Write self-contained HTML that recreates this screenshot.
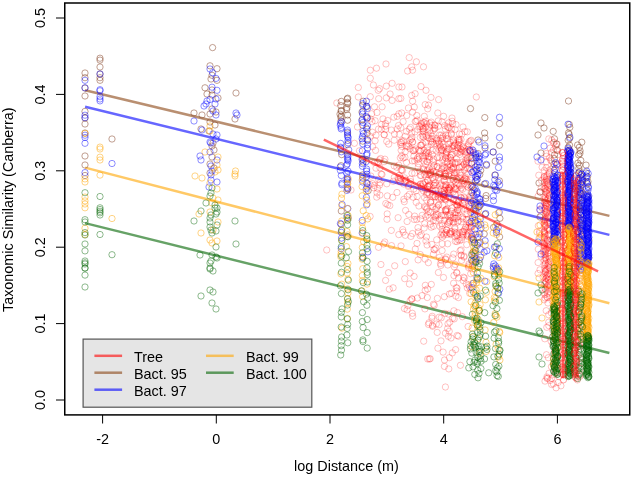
<!DOCTYPE html>
<html><head><meta charset="utf-8"><style>
html,body{margin:0;padding:0;background:#fff;width:633px;height:477px;overflow:hidden}
svg{display:block;filter:blur(0.45px)}
text{font-family:"Liberation Sans",sans-serif;font-size:14.4px;fill:#000}
</style></head><body>
<svg width="633" height="477" viewBox="0 0 633 477">
<rect width="633" height="477" fill="#fff"/>
<line x1="85.1" y1="90.2" x2="609.4" y2="215.9" stroke="rgba(139,69,19,0.6)" stroke-width="2.5"/>
<line x1="85.1" y1="106.8" x2="609.4" y2="234.9" stroke="rgba(0,0,255,0.6)" stroke-width="2.5"/>
<line x1="85.1" y1="167.6" x2="609.4" y2="303.3" stroke="rgba(255,165,0,0.6)" stroke-width="2.5"/>
<line x1="85.1" y1="223.1" x2="609.4" y2="353.0" stroke="rgba(0,100,0,0.6)" stroke-width="2.5"/>
<g fill="none" stroke="rgba(255,0,0,0.27)" stroke-width="0.9">
<circle cx="386" cy="64" r="3.15"/>
<circle cx="376.5" cy="68.2" r="3.15"/>
<circle cx="370.3" cy="70.2" r="3.15"/>
<circle cx="370.3" cy="78.3" r="3.15"/>
<circle cx="358.3" cy="87.5" r="3.15"/>
<circle cx="373.4" cy="85" r="3.15"/>
<circle cx="386.3" cy="86.1" r="3.15"/>
<circle cx="392.1" cy="83.3" r="3.15"/>
<circle cx="379.6" cy="88.7" r="3.15"/>
<circle cx="378.2" cy="90.3" r="3.15"/>
<circle cx="390.1" cy="94" r="3.15"/>
<circle cx="398.9" cy="87" r="3.15"/>
<circle cx="358.3" cy="97" r="3.15"/>
<circle cx="370.3" cy="96.7" r="3.15"/>
<circle cx="378.7" cy="98.7" r="3.15"/>
<circle cx="386.3" cy="97.9" r="3.15"/>
<circle cx="392.1" cy="100.4" r="3.15"/>
<circle cx="398.9" cy="98.7" r="3.15"/>
<circle cx="336.8" cy="103" r="3.15"/>
<circle cx="374.5" cy="106.8" r="3.15"/>
<circle cx="382.1" cy="106.8" r="3.15"/>
<circle cx="371.7" cy="113.8" r="3.15"/>
<circle cx="377" cy="112.5" r="3.15"/>
<circle cx="393.8" cy="117.2" r="3.15"/>
<circle cx="397.2" cy="116.3" r="3.15"/>
<circle cx="383" cy="118.9" r="3.15"/>
<circle cx="370.3" cy="118.9" r="3.15"/>
<circle cx="398.9" cy="113.8" r="3.15"/>
<circle cx="409.2" cy="57.6" r="3.15"/>
<circle cx="416.4" cy="61.8" r="3.15"/>
<circle cx="411.7" cy="66.8" r="3.15"/>
<circle cx="407.6" cy="71" r="3.15"/>
<circle cx="412.6" cy="70.2" r="3.15"/>
<circle cx="423.5" cy="66.8" r="3.15"/>
<circle cx="402" cy="87" r="3.15"/>
<circle cx="421" cy="86.6" r="3.15"/>
<circle cx="426" cy="90.3" r="3.15"/>
<circle cx="415.1" cy="93.7" r="3.15"/>
<circle cx="411.7" cy="95.4" r="3.15"/>
<circle cx="400.8" cy="98.4" r="3.15"/>
<circle cx="431" cy="97.4" r="3.15"/>
<circle cx="438.6" cy="99.6" r="3.15"/>
<circle cx="412.6" cy="101.2" r="3.15"/>
<circle cx="425.2" cy="104.6" r="3.15"/>
<circle cx="428.5" cy="105.1" r="3.15"/>
<circle cx="408.4" cy="108" r="3.15"/>
<circle cx="414.3" cy="107.1" r="3.15"/>
<circle cx="427.7" cy="108.8" r="3.15"/>
<circle cx="401.7" cy="113" r="3.15"/>
<circle cx="406.7" cy="115.5" r="3.15"/>
<circle cx="412.6" cy="112.1" r="3.15"/>
<circle cx="416.8" cy="115.5" r="3.15"/>
<circle cx="424.3" cy="116.3" r="3.15"/>
<circle cx="437.8" cy="113" r="3.15"/>
<circle cx="443.6" cy="116.3" r="3.15"/>
<circle cx="452" cy="118" r="3.15"/>
<circle cx="476.3" cy="97" r="3.15"/>
<circle cx="326.7" cy="250" r="3.15"/>
<circle cx="351" cy="190" r="3.15"/>
<circle cx="354.4" cy="143.3" r="3.15"/>
<circle cx="357.5" cy="127" r="3.15"/>
<circle cx="359.4" cy="150.8" r="3.15"/>
<circle cx="445.4" cy="387" r="3.15"/>
<circle cx="370.3" cy="136.3" r="3.15"/>
<circle cx="375.1" cy="120.7" r="3.15"/>
<circle cx="372" cy="121.7" r="3.15"/>
<circle cx="372.4" cy="132.2" r="3.15"/>
<circle cx="378.5" cy="129.1" r="3.15"/>
<circle cx="376" cy="135.2" r="3.15"/>
<circle cx="394.5" cy="134" r="3.15"/>
<circle cx="387.7" cy="120.5" r="3.15"/>
<circle cx="399.3" cy="134.3" r="3.15"/>
<circle cx="384.1" cy="134.6" r="3.15"/>
<circle cx="385.6" cy="129.4" r="3.15"/>
<circle cx="397.2" cy="129" r="3.15"/>
<circle cx="385.8" cy="126.1" r="3.15"/>
<circle cx="381.5" cy="124.4" r="3.15"/>
<circle cx="385.4" cy="123.5" r="3.15"/>
<circle cx="381.3" cy="129.3" r="3.15"/>
<circle cx="384.3" cy="134.8" r="3.15"/>
<circle cx="398.5" cy="125.5" r="3.15"/>
<circle cx="391.4" cy="130.1" r="3.15"/>
<circle cx="417.7" cy="129.5" r="3.15"/>
<circle cx="416.1" cy="121.3" r="3.15"/>
<circle cx="411.9" cy="137.3" r="3.15"/>
<circle cx="417.3" cy="120.1" r="3.15"/>
<circle cx="410.4" cy="127.4" r="3.15"/>
<circle cx="415.2" cy="121.5" r="3.15"/>
<circle cx="405.3" cy="136.3" r="3.15"/>
<circle cx="409.4" cy="129.1" r="3.15"/>
<circle cx="419.4" cy="126.4" r="3.15"/>
<circle cx="400.8" cy="127.8" r="3.15"/>
<circle cx="403.1" cy="121.6" r="3.15"/>
<circle cx="411.4" cy="139.1" r="3.15"/>
<circle cx="411.6" cy="132.9" r="3.15"/>
<circle cx="406.5" cy="131.4" r="3.15"/>
<circle cx="415" cy="131.8" r="3.15"/>
<circle cx="424" cy="131.7" r="3.15"/>
<circle cx="429.8" cy="123.3" r="3.15"/>
<circle cx="432.4" cy="136.3" r="3.15"/>
<circle cx="422.7" cy="130.9" r="3.15"/>
<circle cx="434.7" cy="128.1" r="3.15"/>
<circle cx="425.4" cy="127.4" r="3.15"/>
<circle cx="430.8" cy="133.7" r="3.15"/>
<circle cx="431.2" cy="122.1" r="3.15"/>
<circle cx="436.4" cy="138.5" r="3.15"/>
<circle cx="422" cy="125" r="3.15"/>
<circle cx="423.5" cy="137" r="3.15"/>
<circle cx="438.2" cy="120.9" r="3.15"/>
<circle cx="426.6" cy="123.8" r="3.15"/>
<circle cx="429.4" cy="138.4" r="3.15"/>
<circle cx="421.4" cy="123.4" r="3.15"/>
<circle cx="429.7" cy="130.5" r="3.15"/>
<circle cx="434.9" cy="128.8" r="3.15"/>
<circle cx="422.8" cy="127.1" r="3.15"/>
<circle cx="439.6" cy="135" r="3.15"/>
<circle cx="422.3" cy="136.2" r="3.15"/>
<circle cx="426.2" cy="135.6" r="3.15"/>
<circle cx="420.3" cy="137.4" r="3.15"/>
<circle cx="423.2" cy="129.1" r="3.15"/>
<circle cx="433.2" cy="130.2" r="3.15"/>
<circle cx="423.3" cy="122.8" r="3.15"/>
<circle cx="425.7" cy="121" r="3.15"/>
<circle cx="424.3" cy="122.6" r="3.15"/>
<circle cx="429.3" cy="127.1" r="3.15"/>
<circle cx="431.7" cy="125.6" r="3.15"/>
<circle cx="420.7" cy="126.6" r="3.15"/>
<circle cx="435.1" cy="125.1" r="3.15"/>
<circle cx="428.1" cy="135.1" r="3.15"/>
<circle cx="428.1" cy="137.7" r="3.15"/>
<circle cx="438.4" cy="126.2" r="3.15"/>
<circle cx="434.7" cy="125.1" r="3.15"/>
<circle cx="422.8" cy="128.8" r="3.15"/>
<circle cx="432" cy="138.7" r="3.15"/>
<circle cx="422.9" cy="134.2" r="3.15"/>
<circle cx="459.5" cy="133.9" r="3.15"/>
<circle cx="442.6" cy="138.1" r="3.15"/>
<circle cx="442.1" cy="121.9" r="3.15"/>
<circle cx="446.6" cy="138.8" r="3.15"/>
<circle cx="440.7" cy="138.4" r="3.15"/>
<circle cx="452.2" cy="121.3" r="3.15"/>
<circle cx="451.4" cy="129.2" r="3.15"/>
<circle cx="451.3" cy="134.7" r="3.15"/>
<circle cx="453.6" cy="139.9" r="3.15"/>
<circle cx="443.1" cy="136.3" r="3.15"/>
<circle cx="448.2" cy="135.7" r="3.15"/>
<circle cx="457.8" cy="139.8" r="3.15"/>
<circle cx="445.3" cy="129.1" r="3.15"/>
<circle cx="458.9" cy="138.9" r="3.15"/>
<circle cx="447.5" cy="138.8" r="3.15"/>
<circle cx="448.1" cy="127.5" r="3.15"/>
<circle cx="455.1" cy="129.4" r="3.15"/>
<circle cx="449" cy="127.7" r="3.15"/>
<circle cx="448.7" cy="122.8" r="3.15"/>
<circle cx="441.2" cy="135.1" r="3.15"/>
<circle cx="451.3" cy="133.4" r="3.15"/>
<circle cx="456" cy="124.6" r="3.15"/>
<circle cx="444.7" cy="125.6" r="3.15"/>
<circle cx="446.1" cy="135.2" r="3.15"/>
<circle cx="447.5" cy="126.5" r="3.15"/>
<circle cx="452.7" cy="123.7" r="3.15"/>
<circle cx="464.9" cy="131.6" r="3.15"/>
<circle cx="463" cy="127" r="3.15"/>
<circle cx="467.3" cy="131.8" r="3.15"/>
<circle cx="461.9" cy="134.1" r="3.15"/>
<circle cx="461" cy="139.4" r="3.15"/>
<circle cx="379.5" cy="159.8" r="3.15"/>
<circle cx="375.6" cy="150.4" r="3.15"/>
<circle cx="372.6" cy="146.7" r="3.15"/>
<circle cx="375.1" cy="140.7" r="3.15"/>
<circle cx="386.7" cy="141.4" r="3.15"/>
<circle cx="380.6" cy="158.5" r="3.15"/>
<circle cx="388.7" cy="144.1" r="3.15"/>
<circle cx="394.2" cy="140.2" r="3.15"/>
<circle cx="384.9" cy="159.2" r="3.15"/>
<circle cx="401.9" cy="146.4" r="3.15"/>
<circle cx="400.6" cy="144.4" r="3.15"/>
<circle cx="400.5" cy="142.5" r="3.15"/>
<circle cx="412.7" cy="142" r="3.15"/>
<circle cx="403.1" cy="158.1" r="3.15"/>
<circle cx="406.7" cy="146.7" r="3.15"/>
<circle cx="401.7" cy="155.9" r="3.15"/>
<circle cx="413.5" cy="150.9" r="3.15"/>
<circle cx="412.4" cy="142" r="3.15"/>
<circle cx="405.2" cy="151.7" r="3.15"/>
<circle cx="419" cy="156.3" r="3.15"/>
<circle cx="412.8" cy="150.4" r="3.15"/>
<circle cx="400.3" cy="157.8" r="3.15"/>
<circle cx="401.3" cy="142.6" r="3.15"/>
<circle cx="413.9" cy="156.2" r="3.15"/>
<circle cx="415.7" cy="149" r="3.15"/>
<circle cx="403.5" cy="140.7" r="3.15"/>
<circle cx="417" cy="159.6" r="3.15"/>
<circle cx="404.9" cy="157.3" r="3.15"/>
<circle cx="408.1" cy="146.2" r="3.15"/>
<circle cx="410.1" cy="140.2" r="3.15"/>
<circle cx="408.9" cy="144" r="3.15"/>
<circle cx="414.2" cy="150.1" r="3.15"/>
<circle cx="417.4" cy="157.9" r="3.15"/>
<circle cx="406.3" cy="145.6" r="3.15"/>
<circle cx="418.8" cy="150.1" r="3.15"/>
<circle cx="401.9" cy="140.9" r="3.15"/>
<circle cx="419.8" cy="151.6" r="3.15"/>
<circle cx="401.1" cy="150.2" r="3.15"/>
<circle cx="410.1" cy="148.7" r="3.15"/>
<circle cx="419" cy="159" r="3.15"/>
<circle cx="428.1" cy="156.7" r="3.15"/>
<circle cx="432.5" cy="154.6" r="3.15"/>
<circle cx="431.5" cy="144.2" r="3.15"/>
<circle cx="436.4" cy="140.3" r="3.15"/>
<circle cx="434" cy="143.9" r="3.15"/>
<circle cx="429.4" cy="159.5" r="3.15"/>
<circle cx="430.8" cy="141.1" r="3.15"/>
<circle cx="428.6" cy="153.2" r="3.15"/>
<circle cx="421.1" cy="145.1" r="3.15"/>
<circle cx="420.4" cy="150.8" r="3.15"/>
<circle cx="427.6" cy="150.1" r="3.15"/>
<circle cx="425.9" cy="153.1" r="3.15"/>
<circle cx="423.5" cy="158.1" r="3.15"/>
<circle cx="439.2" cy="149.9" r="3.15"/>
<circle cx="429.3" cy="157.2" r="3.15"/>
<circle cx="425.8" cy="156.1" r="3.15"/>
<circle cx="425.7" cy="154.4" r="3.15"/>
<circle cx="426.7" cy="152.1" r="3.15"/>
<circle cx="438.5" cy="141.1" r="3.15"/>
<circle cx="436.1" cy="150.8" r="3.15"/>
<circle cx="427.6" cy="147" r="3.15"/>
<circle cx="421.4" cy="145.2" r="3.15"/>
<circle cx="432.5" cy="142" r="3.15"/>
<circle cx="433.4" cy="159.2" r="3.15"/>
<circle cx="439.6" cy="157.8" r="3.15"/>
<circle cx="436.1" cy="143.6" r="3.15"/>
<circle cx="439.4" cy="144.1" r="3.15"/>
<circle cx="437.4" cy="157.6" r="3.15"/>
<circle cx="432.4" cy="150.4" r="3.15"/>
<circle cx="424" cy="150.4" r="3.15"/>
<circle cx="425.8" cy="142.5" r="3.15"/>
<circle cx="422.6" cy="156" r="3.15"/>
<circle cx="438.4" cy="142.8" r="3.15"/>
<circle cx="420.3" cy="145.3" r="3.15"/>
<circle cx="422.7" cy="143.8" r="3.15"/>
<circle cx="448.6" cy="144.1" r="3.15"/>
<circle cx="453.3" cy="145.8" r="3.15"/>
<circle cx="448" cy="149.3" r="3.15"/>
<circle cx="458.1" cy="144.9" r="3.15"/>
<circle cx="454.4" cy="146.2" r="3.15"/>
<circle cx="457.9" cy="147.9" r="3.15"/>
<circle cx="450.1" cy="157.5" r="3.15"/>
<circle cx="453.5" cy="141.9" r="3.15"/>
<circle cx="442.7" cy="159.8" r="3.15"/>
<circle cx="440.6" cy="146" r="3.15"/>
<circle cx="459.2" cy="140.3" r="3.15"/>
<circle cx="443.2" cy="144.3" r="3.15"/>
<circle cx="441.7" cy="149.4" r="3.15"/>
<circle cx="451.8" cy="146.4" r="3.15"/>
<circle cx="442.2" cy="156.2" r="3.15"/>
<circle cx="456.1" cy="151.2" r="3.15"/>
<circle cx="442.8" cy="150.8" r="3.15"/>
<circle cx="452.6" cy="148.6" r="3.15"/>
<circle cx="457.3" cy="147.8" r="3.15"/>
<circle cx="450.2" cy="142.3" r="3.15"/>
<circle cx="451.3" cy="155.3" r="3.15"/>
<circle cx="454.6" cy="145.1" r="3.15"/>
<circle cx="459.8" cy="154.4" r="3.15"/>
<circle cx="448.5" cy="148.3" r="3.15"/>
<circle cx="455.6" cy="143.5" r="3.15"/>
<circle cx="452.8" cy="154.4" r="3.15"/>
<circle cx="450.3" cy="157.5" r="3.15"/>
<circle cx="449.4" cy="149.3" r="3.15"/>
<circle cx="445.7" cy="158.4" r="3.15"/>
<circle cx="446.3" cy="153.9" r="3.15"/>
<circle cx="448.2" cy="158.7" r="3.15"/>
<circle cx="459" cy="140.6" r="3.15"/>
<circle cx="459.9" cy="152.1" r="3.15"/>
<circle cx="441.5" cy="149.9" r="3.15"/>
<circle cx="441" cy="151" r="3.15"/>
<circle cx="443.7" cy="147.4" r="3.15"/>
<circle cx="446.1" cy="152" r="3.15"/>
<circle cx="456.4" cy="158.7" r="3.15"/>
<circle cx="446.6" cy="151.4" r="3.15"/>
<circle cx="440.1" cy="147.4" r="3.15"/>
<circle cx="459.2" cy="142.4" r="3.15"/>
<circle cx="457.4" cy="153.1" r="3.15"/>
<circle cx="445.9" cy="155.6" r="3.15"/>
<circle cx="445.8" cy="157.9" r="3.15"/>
<circle cx="441.7" cy="142.4" r="3.15"/>
<circle cx="461.8" cy="150.3" r="3.15"/>
<circle cx="463.6" cy="151" r="3.15"/>
<circle cx="468.9" cy="157.1" r="3.15"/>
<circle cx="460.7" cy="151.8" r="3.15"/>
<circle cx="471.8" cy="149.2" r="3.15"/>
<circle cx="469.2" cy="141.9" r="3.15"/>
<circle cx="470.5" cy="151.6" r="3.15"/>
<circle cx="470.7" cy="155.7" r="3.15"/>
<circle cx="470.4" cy="141.1" r="3.15"/>
<circle cx="468.6" cy="143.9" r="3.15"/>
<circle cx="463.2" cy="146.5" r="3.15"/>
<circle cx="467.1" cy="152.6" r="3.15"/>
<circle cx="471.2" cy="140.3" r="3.15"/>
<circle cx="462.3" cy="147.2" r="3.15"/>
<circle cx="469.8" cy="151" r="3.15"/>
<circle cx="466.1" cy="155.2" r="3.15"/>
<circle cx="467.9" cy="145.8" r="3.15"/>
<circle cx="461" cy="149.2" r="3.15"/>
<circle cx="470.6" cy="152" r="3.15"/>
<circle cx="460.6" cy="148.8" r="3.15"/>
<circle cx="464.6" cy="151.6" r="3.15"/>
<circle cx="467" cy="159" r="3.15"/>
<circle cx="464.1" cy="148.2" r="3.15"/>
<circle cx="467.4" cy="157.7" r="3.15"/>
<circle cx="468.5" cy="149.4" r="3.15"/>
<circle cx="469.8" cy="149.7" r="3.15"/>
<circle cx="377.6" cy="161.7" r="3.15"/>
<circle cx="378.6" cy="179.3" r="3.15"/>
<circle cx="378.7" cy="162.6" r="3.15"/>
<circle cx="374.5" cy="162.5" r="3.15"/>
<circle cx="376" cy="168.2" r="3.15"/>
<circle cx="370.8" cy="176" r="3.15"/>
<circle cx="384.1" cy="161.7" r="3.15"/>
<circle cx="394.2" cy="165.9" r="3.15"/>
<circle cx="398" cy="177.9" r="3.15"/>
<circle cx="398.7" cy="165.1" r="3.15"/>
<circle cx="380" cy="167.8" r="3.15"/>
<circle cx="399.3" cy="175.3" r="3.15"/>
<circle cx="381.2" cy="174.1" r="3.15"/>
<circle cx="398.3" cy="179.4" r="3.15"/>
<circle cx="394.3" cy="177.3" r="3.15"/>
<circle cx="396.8" cy="167.2" r="3.15"/>
<circle cx="382" cy="174.5" r="3.15"/>
<circle cx="419.9" cy="171.2" r="3.15"/>
<circle cx="410.4" cy="179" r="3.15"/>
<circle cx="405.7" cy="180" r="3.15"/>
<circle cx="418.2" cy="167.3" r="3.15"/>
<circle cx="406.5" cy="162.5" r="3.15"/>
<circle cx="418.3" cy="163.7" r="3.15"/>
<circle cx="400.2" cy="177.8" r="3.15"/>
<circle cx="412" cy="173.4" r="3.15"/>
<circle cx="414.7" cy="160.9" r="3.15"/>
<circle cx="401.8" cy="170" r="3.15"/>
<circle cx="401" cy="170.1" r="3.15"/>
<circle cx="414.7" cy="173.1" r="3.15"/>
<circle cx="412.3" cy="160.9" r="3.15"/>
<circle cx="404.7" cy="177.9" r="3.15"/>
<circle cx="402.5" cy="170.7" r="3.15"/>
<circle cx="401" cy="178.8" r="3.15"/>
<circle cx="430.9" cy="174.4" r="3.15"/>
<circle cx="438.7" cy="174.7" r="3.15"/>
<circle cx="426.9" cy="161.5" r="3.15"/>
<circle cx="434.1" cy="179.5" r="3.15"/>
<circle cx="420.3" cy="175.5" r="3.15"/>
<circle cx="423.5" cy="169.2" r="3.15"/>
<circle cx="430.5" cy="172.3" r="3.15"/>
<circle cx="439.8" cy="173.7" r="3.15"/>
<circle cx="427.8" cy="174.3" r="3.15"/>
<circle cx="429.3" cy="168.3" r="3.15"/>
<circle cx="427.3" cy="169.9" r="3.15"/>
<circle cx="425.6" cy="164.8" r="3.15"/>
<circle cx="423" cy="168.8" r="3.15"/>
<circle cx="425.9" cy="176.7" r="3.15"/>
<circle cx="437" cy="166.9" r="3.15"/>
<circle cx="432.4" cy="178" r="3.15"/>
<circle cx="427.2" cy="171.1" r="3.15"/>
<circle cx="428.9" cy="173" r="3.15"/>
<circle cx="439.2" cy="162.8" r="3.15"/>
<circle cx="439.3" cy="173.3" r="3.15"/>
<circle cx="435.9" cy="172.7" r="3.15"/>
<circle cx="437.4" cy="166.5" r="3.15"/>
<circle cx="434.2" cy="165.3" r="3.15"/>
<circle cx="430.2" cy="173.6" r="3.15"/>
<circle cx="424" cy="161.2" r="3.15"/>
<circle cx="435.8" cy="176.2" r="3.15"/>
<circle cx="433.3" cy="166.4" r="3.15"/>
<circle cx="433.2" cy="161.7" r="3.15"/>
<circle cx="433.3" cy="171.5" r="3.15"/>
<circle cx="432.3" cy="168.9" r="3.15"/>
<circle cx="424.5" cy="174.5" r="3.15"/>
<circle cx="429.3" cy="174.9" r="3.15"/>
<circle cx="427.3" cy="161.8" r="3.15"/>
<circle cx="430.8" cy="172.5" r="3.15"/>
<circle cx="438.4" cy="177.8" r="3.15"/>
<circle cx="421.1" cy="175.4" r="3.15"/>
<circle cx="447.6" cy="166.4" r="3.15"/>
<circle cx="449.8" cy="170.6" r="3.15"/>
<circle cx="453.9" cy="172.8" r="3.15"/>
<circle cx="453.6" cy="167.7" r="3.15"/>
<circle cx="453.5" cy="166.9" r="3.15"/>
<circle cx="452.2" cy="169.2" r="3.15"/>
<circle cx="451.3" cy="160.4" r="3.15"/>
<circle cx="450" cy="164.4" r="3.15"/>
<circle cx="447.7" cy="161.5" r="3.15"/>
<circle cx="453.1" cy="177.9" r="3.15"/>
<circle cx="447.1" cy="162.1" r="3.15"/>
<circle cx="452.4" cy="162.5" r="3.15"/>
<circle cx="457.8" cy="162.4" r="3.15"/>
<circle cx="447.2" cy="169.9" r="3.15"/>
<circle cx="442.4" cy="166.4" r="3.15"/>
<circle cx="445.5" cy="174.3" r="3.15"/>
<circle cx="459.7" cy="167.3" r="3.15"/>
<circle cx="455.8" cy="162.8" r="3.15"/>
<circle cx="451.6" cy="168.7" r="3.15"/>
<circle cx="445.8" cy="176.4" r="3.15"/>
<circle cx="454.9" cy="162.7" r="3.15"/>
<circle cx="445.8" cy="176.4" r="3.15"/>
<circle cx="459.8" cy="172.2" r="3.15"/>
<circle cx="457.4" cy="179.7" r="3.15"/>
<circle cx="454.8" cy="172.9" r="3.15"/>
<circle cx="444.4" cy="167.4" r="3.15"/>
<circle cx="452.5" cy="178.5" r="3.15"/>
<circle cx="446" cy="167.9" r="3.15"/>
<circle cx="440.4" cy="173.9" r="3.15"/>
<circle cx="448.9" cy="176" r="3.15"/>
<circle cx="444.7" cy="173.2" r="3.15"/>
<circle cx="453.5" cy="169.3" r="3.15"/>
<circle cx="443.8" cy="168.1" r="3.15"/>
<circle cx="454.9" cy="163.8" r="3.15"/>
<circle cx="441.8" cy="169.3" r="3.15"/>
<circle cx="444.7" cy="176" r="3.15"/>
<circle cx="456.3" cy="178.9" r="3.15"/>
<circle cx="456.8" cy="172.9" r="3.15"/>
<circle cx="443.7" cy="176.5" r="3.15"/>
<circle cx="454.6" cy="174.9" r="3.15"/>
<circle cx="453.9" cy="176.6" r="3.15"/>
<circle cx="446" cy="173.4" r="3.15"/>
<circle cx="450.3" cy="166.8" r="3.15"/>
<circle cx="465.9" cy="167.4" r="3.15"/>
<circle cx="465.1" cy="177" r="3.15"/>
<circle cx="468.2" cy="173.6" r="3.15"/>
<circle cx="471.8" cy="164.4" r="3.15"/>
<circle cx="466.1" cy="161.9" r="3.15"/>
<circle cx="464.7" cy="179" r="3.15"/>
<circle cx="461" cy="175.2" r="3.15"/>
<circle cx="470.4" cy="170.2" r="3.15"/>
<circle cx="469.6" cy="168.8" r="3.15"/>
<circle cx="464.2" cy="170.1" r="3.15"/>
<circle cx="462.3" cy="166.1" r="3.15"/>
<circle cx="463.7" cy="179.8" r="3.15"/>
<circle cx="464" cy="164.6" r="3.15"/>
<circle cx="471.3" cy="162.8" r="3.15"/>
<circle cx="471.6" cy="177.1" r="3.15"/>
<circle cx="467.8" cy="168.6" r="3.15"/>
<circle cx="462.4" cy="162.1" r="3.15"/>
<circle cx="461.2" cy="167" r="3.15"/>
<circle cx="464.9" cy="178.5" r="3.15"/>
<circle cx="466.4" cy="179.8" r="3.15"/>
<circle cx="468.7" cy="162.9" r="3.15"/>
<circle cx="466.6" cy="163.2" r="3.15"/>
<circle cx="460.5" cy="178.9" r="3.15"/>
<circle cx="464.1" cy="163.8" r="3.15"/>
<circle cx="461.2" cy="173" r="3.15"/>
<circle cx="465.5" cy="160.2" r="3.15"/>
<circle cx="370.1" cy="184.7" r="3.15"/>
<circle cx="379.6" cy="185" r="3.15"/>
<circle cx="376.7" cy="197.1" r="3.15"/>
<circle cx="373.8" cy="187.8" r="3.15"/>
<circle cx="377.5" cy="188.4" r="3.15"/>
<circle cx="374.3" cy="185.5" r="3.15"/>
<circle cx="377" cy="192.9" r="3.15"/>
<circle cx="372.4" cy="183.6" r="3.15"/>
<circle cx="379.9" cy="195.1" r="3.15"/>
<circle cx="392.7" cy="197.3" r="3.15"/>
<circle cx="386.8" cy="183.8" r="3.15"/>
<circle cx="380.1" cy="182.7" r="3.15"/>
<circle cx="397" cy="192.5" r="3.15"/>
<circle cx="399.8" cy="181.4" r="3.15"/>
<circle cx="387.3" cy="195.9" r="3.15"/>
<circle cx="393.2" cy="181.3" r="3.15"/>
<circle cx="413.8" cy="189" r="3.15"/>
<circle cx="403.8" cy="199.3" r="3.15"/>
<circle cx="409.3" cy="194.3" r="3.15"/>
<circle cx="410.7" cy="181.6" r="3.15"/>
<circle cx="404.7" cy="181.3" r="3.15"/>
<circle cx="403.8" cy="184" r="3.15"/>
<circle cx="408.3" cy="186.4" r="3.15"/>
<circle cx="407.3" cy="196.3" r="3.15"/>
<circle cx="400.4" cy="182.1" r="3.15"/>
<circle cx="416.2" cy="190.7" r="3.15"/>
<circle cx="408.8" cy="185.3" r="3.15"/>
<circle cx="410.8" cy="184.4" r="3.15"/>
<circle cx="417.2" cy="196.5" r="3.15"/>
<circle cx="406.4" cy="180.5" r="3.15"/>
<circle cx="417.8" cy="186" r="3.15"/>
<circle cx="413.1" cy="197.2" r="3.15"/>
<circle cx="429.2" cy="185.3" r="3.15"/>
<circle cx="429.6" cy="186.7" r="3.15"/>
<circle cx="435.3" cy="196.6" r="3.15"/>
<circle cx="422.8" cy="183.3" r="3.15"/>
<circle cx="427.7" cy="189.3" r="3.15"/>
<circle cx="439.1" cy="198.8" r="3.15"/>
<circle cx="439.3" cy="194.6" r="3.15"/>
<circle cx="433.5" cy="185.4" r="3.15"/>
<circle cx="427.5" cy="180.1" r="3.15"/>
<circle cx="436.7" cy="185.5" r="3.15"/>
<circle cx="421.6" cy="186.3" r="3.15"/>
<circle cx="426.5" cy="194.5" r="3.15"/>
<circle cx="420.1" cy="184.6" r="3.15"/>
<circle cx="437.9" cy="197.1" r="3.15"/>
<circle cx="432.6" cy="191.2" r="3.15"/>
<circle cx="424.5" cy="197.5" r="3.15"/>
<circle cx="435.2" cy="190.3" r="3.15"/>
<circle cx="423.2" cy="184.3" r="3.15"/>
<circle cx="427.6" cy="186.6" r="3.15"/>
<circle cx="421.2" cy="188.1" r="3.15"/>
<circle cx="429" cy="185.7" r="3.15"/>
<circle cx="427.7" cy="186.6" r="3.15"/>
<circle cx="427.5" cy="192.4" r="3.15"/>
<circle cx="429.9" cy="184" r="3.15"/>
<circle cx="435.9" cy="190.3" r="3.15"/>
<circle cx="429.2" cy="194.3" r="3.15"/>
<circle cx="435" cy="197" r="3.15"/>
<circle cx="436.2" cy="193.4" r="3.15"/>
<circle cx="434.4" cy="183.1" r="3.15"/>
<circle cx="434" cy="185.1" r="3.15"/>
<circle cx="425.2" cy="182.4" r="3.15"/>
<circle cx="427.9" cy="180.4" r="3.15"/>
<circle cx="433.1" cy="195" r="3.15"/>
<circle cx="435.5" cy="182.6" r="3.15"/>
<circle cx="432.8" cy="196.8" r="3.15"/>
<circle cx="420.7" cy="183.9" r="3.15"/>
<circle cx="425.4" cy="189.2" r="3.15"/>
<circle cx="423.4" cy="190.8" r="3.15"/>
<circle cx="426.9" cy="193.1" r="3.15"/>
<circle cx="444.9" cy="194.1" r="3.15"/>
<circle cx="454.7" cy="194.4" r="3.15"/>
<circle cx="441.4" cy="198.9" r="3.15"/>
<circle cx="451.5" cy="185.4" r="3.15"/>
<circle cx="448.7" cy="190.4" r="3.15"/>
<circle cx="450.4" cy="185" r="3.15"/>
<circle cx="445.3" cy="187.3" r="3.15"/>
<circle cx="455.6" cy="188.7" r="3.15"/>
<circle cx="440.8" cy="189" r="3.15"/>
<circle cx="444" cy="180.2" r="3.15"/>
<circle cx="459.5" cy="185.9" r="3.15"/>
<circle cx="450.7" cy="187.2" r="3.15"/>
<circle cx="441.1" cy="198" r="3.15"/>
<circle cx="458.7" cy="183.7" r="3.15"/>
<circle cx="448.4" cy="187.5" r="3.15"/>
<circle cx="443.3" cy="193.2" r="3.15"/>
<circle cx="455.6" cy="195.2" r="3.15"/>
<circle cx="453.5" cy="180.3" r="3.15"/>
<circle cx="444.6" cy="190.3" r="3.15"/>
<circle cx="454.1" cy="187.7" r="3.15"/>
<circle cx="449" cy="196.8" r="3.15"/>
<circle cx="440.5" cy="185.4" r="3.15"/>
<circle cx="445.8" cy="199.9" r="3.15"/>
<circle cx="444.6" cy="180.9" r="3.15"/>
<circle cx="448.3" cy="193" r="3.15"/>
<circle cx="443.1" cy="196.8" r="3.15"/>
<circle cx="443.9" cy="194.1" r="3.15"/>
<circle cx="443.2" cy="197.6" r="3.15"/>
<circle cx="444" cy="194.6" r="3.15"/>
<circle cx="456.8" cy="185.1" r="3.15"/>
<circle cx="441.9" cy="191.7" r="3.15"/>
<circle cx="450" cy="189.6" r="3.15"/>
<circle cx="455.6" cy="189.3" r="3.15"/>
<circle cx="449.9" cy="189.7" r="3.15"/>
<circle cx="449.1" cy="188.1" r="3.15"/>
<circle cx="443.2" cy="185.9" r="3.15"/>
<circle cx="445.3" cy="185" r="3.15"/>
<circle cx="455.7" cy="182.3" r="3.15"/>
<circle cx="444.1" cy="190.5" r="3.15"/>
<circle cx="446.3" cy="184.8" r="3.15"/>
<circle cx="447.5" cy="190" r="3.15"/>
<circle cx="453.5" cy="199.4" r="3.15"/>
<circle cx="457.1" cy="188.6" r="3.15"/>
<circle cx="449" cy="188.3" r="3.15"/>
<circle cx="444.8" cy="199" r="3.15"/>
<circle cx="441.4" cy="184.1" r="3.15"/>
<circle cx="453.2" cy="191.8" r="3.15"/>
<circle cx="445.6" cy="198.7" r="3.15"/>
<circle cx="448.2" cy="191.9" r="3.15"/>
<circle cx="461.2" cy="187.9" r="3.15"/>
<circle cx="470.6" cy="198.9" r="3.15"/>
<circle cx="470.8" cy="196.6" r="3.15"/>
<circle cx="462.8" cy="180.6" r="3.15"/>
<circle cx="465.4" cy="181.3" r="3.15"/>
<circle cx="471.5" cy="180.2" r="3.15"/>
<circle cx="463.9" cy="184.1" r="3.15"/>
<circle cx="460.2" cy="190" r="3.15"/>
<circle cx="460.9" cy="198" r="3.15"/>
<circle cx="468.3" cy="187.4" r="3.15"/>
<circle cx="470.1" cy="195.9" r="3.15"/>
<circle cx="463.9" cy="196.9" r="3.15"/>
<circle cx="471.2" cy="192.4" r="3.15"/>
<circle cx="464.2" cy="198" r="3.15"/>
<circle cx="471.3" cy="186.9" r="3.15"/>
<circle cx="461" cy="197.4" r="3.15"/>
<circle cx="468" cy="184.6" r="3.15"/>
<circle cx="466.8" cy="186.2" r="3.15"/>
<circle cx="471" cy="186.8" r="3.15"/>
<circle cx="462.4" cy="180.9" r="3.15"/>
<circle cx="464.1" cy="199.8" r="3.15"/>
<circle cx="462.6" cy="189.2" r="3.15"/>
<circle cx="370.1" cy="216.4" r="3.15"/>
<circle cx="387.7" cy="204.8" r="3.15"/>
<circle cx="385.8" cy="203.5" r="3.15"/>
<circle cx="398.1" cy="217.7" r="3.15"/>
<circle cx="387.2" cy="213.9" r="3.15"/>
<circle cx="389.8" cy="205.6" r="3.15"/>
<circle cx="387" cy="219.3" r="3.15"/>
<circle cx="418.9" cy="206" r="3.15"/>
<circle cx="416.2" cy="202.3" r="3.15"/>
<circle cx="414.7" cy="216.1" r="3.15"/>
<circle cx="416.7" cy="219.5" r="3.15"/>
<circle cx="414.2" cy="219.5" r="3.15"/>
<circle cx="405.6" cy="210.4" r="3.15"/>
<circle cx="404.3" cy="201.7" r="3.15"/>
<circle cx="408.8" cy="214.4" r="3.15"/>
<circle cx="438.8" cy="204.9" r="3.15"/>
<circle cx="425.8" cy="216.6" r="3.15"/>
<circle cx="437.9" cy="214.7" r="3.15"/>
<circle cx="426.7" cy="209.3" r="3.15"/>
<circle cx="436.7" cy="207.1" r="3.15"/>
<circle cx="436.1" cy="215.6" r="3.15"/>
<circle cx="429.4" cy="217.9" r="3.15"/>
<circle cx="427.7" cy="215" r="3.15"/>
<circle cx="432.8" cy="206.6" r="3.15"/>
<circle cx="430.6" cy="212.1" r="3.15"/>
<circle cx="430.7" cy="202.2" r="3.15"/>
<circle cx="439.8" cy="219.3" r="3.15"/>
<circle cx="420.7" cy="218.9" r="3.15"/>
<circle cx="430.6" cy="202.5" r="3.15"/>
<circle cx="436.4" cy="208.7" r="3.15"/>
<circle cx="434.3" cy="216.5" r="3.15"/>
<circle cx="430.8" cy="201" r="3.15"/>
<circle cx="436.4" cy="213.9" r="3.15"/>
<circle cx="438.2" cy="205.4" r="3.15"/>
<circle cx="435.7" cy="217.5" r="3.15"/>
<circle cx="427.1" cy="208.2" r="3.15"/>
<circle cx="426.7" cy="200.1" r="3.15"/>
<circle cx="424.6" cy="206.6" r="3.15"/>
<circle cx="422.2" cy="215.3" r="3.15"/>
<circle cx="428.5" cy="211.4" r="3.15"/>
<circle cx="425.7" cy="207.2" r="3.15"/>
<circle cx="435.1" cy="209.4" r="3.15"/>
<circle cx="451.1" cy="217.9" r="3.15"/>
<circle cx="445.3" cy="210.4" r="3.15"/>
<circle cx="453.7" cy="201.7" r="3.15"/>
<circle cx="459.2" cy="210" r="3.15"/>
<circle cx="444.9" cy="215.2" r="3.15"/>
<circle cx="456.3" cy="212.6" r="3.15"/>
<circle cx="458.3" cy="201.8" r="3.15"/>
<circle cx="450.6" cy="214.9" r="3.15"/>
<circle cx="458.3" cy="212.8" r="3.15"/>
<circle cx="452" cy="207.8" r="3.15"/>
<circle cx="451.4" cy="211.1" r="3.15"/>
<circle cx="458.1" cy="216.5" r="3.15"/>
<circle cx="454.7" cy="218.5" r="3.15"/>
<circle cx="441.3" cy="215.4" r="3.15"/>
<circle cx="449.3" cy="215" r="3.15"/>
<circle cx="445.9" cy="209.3" r="3.15"/>
<circle cx="456.5" cy="200.7" r="3.15"/>
<circle cx="445.8" cy="209.8" r="3.15"/>
<circle cx="457" cy="205.4" r="3.15"/>
<circle cx="456.5" cy="204.9" r="3.15"/>
<circle cx="446.1" cy="211.1" r="3.15"/>
<circle cx="453.1" cy="217.6" r="3.15"/>
<circle cx="457.6" cy="205" r="3.15"/>
<circle cx="454.9" cy="212.7" r="3.15"/>
<circle cx="447.7" cy="215.5" r="3.15"/>
<circle cx="458" cy="209.6" r="3.15"/>
<circle cx="458.3" cy="202.6" r="3.15"/>
<circle cx="443.3" cy="215.3" r="3.15"/>
<circle cx="446.1" cy="211.7" r="3.15"/>
<circle cx="449.9" cy="202.9" r="3.15"/>
<circle cx="455.1" cy="214.8" r="3.15"/>
<circle cx="442.9" cy="205.2" r="3.15"/>
<circle cx="456" cy="218.2" r="3.15"/>
<circle cx="457.4" cy="210" r="3.15"/>
<circle cx="447.3" cy="208.9" r="3.15"/>
<circle cx="462.8" cy="203.2" r="3.15"/>
<circle cx="464.6" cy="201.3" r="3.15"/>
<circle cx="465.6" cy="213.9" r="3.15"/>
<circle cx="467.8" cy="219.5" r="3.15"/>
<circle cx="470.6" cy="212.7" r="3.15"/>
<circle cx="470.8" cy="208.9" r="3.15"/>
<circle cx="469.6" cy="205.7" r="3.15"/>
<circle cx="466.3" cy="219.6" r="3.15"/>
<circle cx="467.2" cy="210.1" r="3.15"/>
<circle cx="469.4" cy="206.2" r="3.15"/>
<circle cx="470" cy="200.4" r="3.15"/>
<circle cx="462.9" cy="203.5" r="3.15"/>
<circle cx="463.1" cy="218.9" r="3.15"/>
<circle cx="460.3" cy="206" r="3.15"/>
<circle cx="466.9" cy="214.1" r="3.15"/>
<circle cx="469.3" cy="207.7" r="3.15"/>
<circle cx="462.6" cy="217" r="3.15"/>
<circle cx="398.8" cy="234.6" r="3.15"/>
<circle cx="391.3" cy="230.4" r="3.15"/>
<circle cx="418" cy="227.6" r="3.15"/>
<circle cx="418.5" cy="231.9" r="3.15"/>
<circle cx="410.9" cy="236.4" r="3.15"/>
<circle cx="412.5" cy="233.5" r="3.15"/>
<circle cx="403.2" cy="232.1" r="3.15"/>
<circle cx="407.1" cy="221.5" r="3.15"/>
<circle cx="402.7" cy="229.6" r="3.15"/>
<circle cx="405.3" cy="235.3" r="3.15"/>
<circle cx="439.9" cy="226.3" r="3.15"/>
<circle cx="430.2" cy="224.2" r="3.15"/>
<circle cx="424.2" cy="228" r="3.15"/>
<circle cx="435.8" cy="220.8" r="3.15"/>
<circle cx="436.7" cy="239.8" r="3.15"/>
<circle cx="431.2" cy="227.2" r="3.15"/>
<circle cx="424.7" cy="223.7" r="3.15"/>
<circle cx="426.5" cy="237" r="3.15"/>
<circle cx="420.1" cy="235.7" r="3.15"/>
<circle cx="433.3" cy="220.4" r="3.15"/>
<circle cx="421.4" cy="234.7" r="3.15"/>
<circle cx="433.5" cy="226.3" r="3.15"/>
<circle cx="448.5" cy="222.3" r="3.15"/>
<circle cx="452.9" cy="221.7" r="3.15"/>
<circle cx="443.6" cy="235.3" r="3.15"/>
<circle cx="450" cy="233.2" r="3.15"/>
<circle cx="454.7" cy="232.1" r="3.15"/>
<circle cx="444" cy="234" r="3.15"/>
<circle cx="442.3" cy="225.4" r="3.15"/>
<circle cx="449" cy="222.3" r="3.15"/>
<circle cx="442.1" cy="233" r="3.15"/>
<circle cx="454.8" cy="227.4" r="3.15"/>
<circle cx="447.8" cy="224.2" r="3.15"/>
<circle cx="450.4" cy="231.6" r="3.15"/>
<circle cx="458.7" cy="220.8" r="3.15"/>
<circle cx="458.2" cy="239.8" r="3.15"/>
<circle cx="446.9" cy="234.5" r="3.15"/>
<circle cx="456.5" cy="233" r="3.15"/>
<circle cx="445.8" cy="232.5" r="3.15"/>
<circle cx="457.5" cy="222.1" r="3.15"/>
<circle cx="449.6" cy="220.5" r="3.15"/>
<circle cx="456.9" cy="235.6" r="3.15"/>
<circle cx="440.9" cy="234.9" r="3.15"/>
<circle cx="453.8" cy="222.5" r="3.15"/>
<circle cx="450.5" cy="233.8" r="3.15"/>
<circle cx="446.7" cy="230.1" r="3.15"/>
<circle cx="459.5" cy="232.7" r="3.15"/>
<circle cx="450" cy="221.3" r="3.15"/>
<circle cx="442.4" cy="237" r="3.15"/>
<circle cx="454.9" cy="236.7" r="3.15"/>
<circle cx="451.6" cy="231.5" r="3.15"/>
<circle cx="450.6" cy="234.7" r="3.15"/>
<circle cx="446.6" cy="229.9" r="3.15"/>
<circle cx="449.4" cy="233.2" r="3.15"/>
<circle cx="444.3" cy="220.5" r="3.15"/>
<circle cx="441.8" cy="223.6" r="3.15"/>
<circle cx="457.1" cy="234.3" r="3.15"/>
<circle cx="455" cy="228.9" r="3.15"/>
<circle cx="442.1" cy="229.3" r="3.15"/>
<circle cx="467.6" cy="227.5" r="3.15"/>
<circle cx="461.8" cy="232.5" r="3.15"/>
<circle cx="465.8" cy="226.9" r="3.15"/>
<circle cx="463.1" cy="233.9" r="3.15"/>
<circle cx="463.8" cy="231.5" r="3.15"/>
<circle cx="463.1" cy="235.1" r="3.15"/>
<circle cx="464.5" cy="229.6" r="3.15"/>
<circle cx="471.1" cy="234.4" r="3.15"/>
<circle cx="468.8" cy="226.8" r="3.15"/>
<circle cx="470.1" cy="227.7" r="3.15"/>
<circle cx="471.9" cy="237.9" r="3.15"/>
<circle cx="467.9" cy="236.6" r="3.15"/>
<circle cx="466.5" cy="234.7" r="3.15"/>
<circle cx="461.5" cy="239.8" r="3.15"/>
<circle cx="469.6" cy="222.8" r="3.15"/>
<circle cx="462.9" cy="231.5" r="3.15"/>
<circle cx="469.2" cy="223" r="3.15"/>
<circle cx="471.5" cy="226.9" r="3.15"/>
<circle cx="471.9" cy="235.1" r="3.15"/>
<circle cx="465.8" cy="227.3" r="3.15"/>
<circle cx="461.2" cy="221.8" r="3.15"/>
<circle cx="467.6" cy="235.5" r="3.15"/>
<circle cx="470.9" cy="227.3" r="3.15"/>
<circle cx="471.3" cy="225.9" r="3.15"/>
<circle cx="471.3" cy="238.4" r="3.15"/>
<circle cx="461.9" cy="237.2" r="3.15"/>
<circle cx="468.4" cy="234" r="3.15"/>
<circle cx="378.5" cy="247.3" r="3.15"/>
<circle cx="383.7" cy="243.9" r="3.15"/>
<circle cx="391.5" cy="245.6" r="3.15"/>
<circle cx="384.8" cy="242" r="3.15"/>
<circle cx="401" cy="245.9" r="3.15"/>
<circle cx="418.1" cy="259.9" r="3.15"/>
<circle cx="417" cy="243.4" r="3.15"/>
<circle cx="415.3" cy="249" r="3.15"/>
<circle cx="433.9" cy="249.6" r="3.15"/>
<circle cx="427.1" cy="245" r="3.15"/>
<circle cx="425.9" cy="241" r="3.15"/>
<circle cx="425.1" cy="259.1" r="3.15"/>
<circle cx="420.2" cy="254.5" r="3.15"/>
<circle cx="435.8" cy="248.1" r="3.15"/>
<circle cx="431.9" cy="244.4" r="3.15"/>
<circle cx="433.4" cy="254.2" r="3.15"/>
<circle cx="434.7" cy="249.8" r="3.15"/>
<circle cx="439.4" cy="257.3" r="3.15"/>
<circle cx="445.5" cy="258.9" r="3.15"/>
<circle cx="452.9" cy="257.9" r="3.15"/>
<circle cx="445.8" cy="259.6" r="3.15"/>
<circle cx="442.1" cy="250.6" r="3.15"/>
<circle cx="442.2" cy="243.8" r="3.15"/>
<circle cx="455.3" cy="241.3" r="3.15"/>
<circle cx="447.7" cy="243.8" r="3.15"/>
<circle cx="457" cy="241.6" r="3.15"/>
<circle cx="446.7" cy="257.1" r="3.15"/>
<circle cx="453.7" cy="254.1" r="3.15"/>
<circle cx="459.8" cy="240.5" r="3.15"/>
<circle cx="460.1" cy="250.7" r="3.15"/>
<circle cx="461.1" cy="255" r="3.15"/>
<circle cx="464.1" cy="256.1" r="3.15"/>
<circle cx="461.1" cy="249.9" r="3.15"/>
<circle cx="461.2" cy="255.6" r="3.15"/>
<circle cx="466.7" cy="244.7" r="3.15"/>
<circle cx="471.6" cy="253.6" r="3.15"/>
<circle cx="464" cy="257.1" r="3.15"/>
<circle cx="394.7" cy="265.8" r="3.15"/>
<circle cx="388.5" cy="272.7" r="3.15"/>
<circle cx="380.9" cy="264.5" r="3.15"/>
<circle cx="404.7" cy="278.7" r="3.15"/>
<circle cx="410.1" cy="273" r="3.15"/>
<circle cx="414.1" cy="276.4" r="3.15"/>
<circle cx="405.3" cy="261.6" r="3.15"/>
<circle cx="438.4" cy="272.5" r="3.15"/>
<circle cx="428.3" cy="262.7" r="3.15"/>
<circle cx="441.3" cy="260.3" r="3.15"/>
<circle cx="454.3" cy="266.9" r="3.15"/>
<circle cx="453.9" cy="275.6" r="3.15"/>
<circle cx="456.7" cy="272.3" r="3.15"/>
<circle cx="456.9" cy="273.2" r="3.15"/>
<circle cx="458.5" cy="277.9" r="3.15"/>
<circle cx="440.9" cy="265.4" r="3.15"/>
<circle cx="447.8" cy="265" r="3.15"/>
<circle cx="443.5" cy="277.5" r="3.15"/>
<circle cx="440.5" cy="263.6" r="3.15"/>
<circle cx="455.2" cy="264.5" r="3.15"/>
<circle cx="468.5" cy="267.5" r="3.15"/>
<circle cx="468.6" cy="265.9" r="3.15"/>
<circle cx="461.6" cy="260.4" r="3.15"/>
<circle cx="463.5" cy="277.2" r="3.15"/>
<circle cx="470.7" cy="273.7" r="3.15"/>
<circle cx="469" cy="263.9" r="3.15"/>
<circle cx="464.3" cy="278" r="3.15"/>
<circle cx="471.8" cy="268.9" r="3.15"/>
<circle cx="393.1" cy="287.8" r="3.15"/>
<circle cx="389.3" cy="289.2" r="3.15"/>
<circle cx="385.6" cy="280.4" r="3.15"/>
<circle cx="411.9" cy="298.7" r="3.15"/>
<circle cx="409.4" cy="284" r="3.15"/>
<circle cx="411.9" cy="299.2" r="3.15"/>
<circle cx="417.4" cy="298" r="3.15"/>
<circle cx="437.4" cy="298.4" r="3.15"/>
<circle cx="427.3" cy="297.5" r="3.15"/>
<circle cx="427.6" cy="289" r="3.15"/>
<circle cx="431.3" cy="284.4" r="3.15"/>
<circle cx="425.3" cy="285.3" r="3.15"/>
<circle cx="425.2" cy="290.3" r="3.15"/>
<circle cx="422" cy="295.6" r="3.15"/>
<circle cx="456.7" cy="291" r="3.15"/>
<circle cx="453.6" cy="283.2" r="3.15"/>
<circle cx="449.4" cy="294" r="3.15"/>
<circle cx="455.9" cy="296.1" r="3.15"/>
<circle cx="444.3" cy="296.7" r="3.15"/>
<circle cx="451.4" cy="293.4" r="3.15"/>
<circle cx="457" cy="288.1" r="3.15"/>
<circle cx="458.4" cy="297.6" r="3.15"/>
<circle cx="456.2" cy="287.6" r="3.15"/>
<circle cx="471" cy="289.6" r="3.15"/>
<circle cx="463.2" cy="280.6" r="3.15"/>
<circle cx="469.4" cy="286.8" r="3.15"/>
<circle cx="466.2" cy="283.9" r="3.15"/>
<circle cx="467.3" cy="287.9" r="3.15"/>
<circle cx="469.7" cy="293.3" r="3.15"/>
<circle cx="468.7" cy="285" r="3.15"/>
<circle cx="407.1" cy="309.8" r="3.15"/>
<circle cx="404.4" cy="308.6" r="3.15"/>
<circle cx="410.2" cy="300.6" r="3.15"/>
<circle cx="407.9" cy="305.7" r="3.15"/>
<circle cx="412.7" cy="316.2" r="3.15"/>
<circle cx="412.3" cy="313.3" r="3.15"/>
<circle cx="439.2" cy="317.2" r="3.15"/>
<circle cx="432.2" cy="316.3" r="3.15"/>
<circle cx="431.9" cy="318.1" r="3.15"/>
<circle cx="424.9" cy="308.9" r="3.15"/>
<circle cx="433.4" cy="304.3" r="3.15"/>
<circle cx="434.3" cy="305.2" r="3.15"/>
<circle cx="454.2" cy="318.9" r="3.15"/>
<circle cx="452.6" cy="318.3" r="3.15"/>
<circle cx="441.2" cy="317.8" r="3.15"/>
<circle cx="457.5" cy="312.6" r="3.15"/>
<circle cx="448.6" cy="314.1" r="3.15"/>
<circle cx="444.9" cy="313.4" r="3.15"/>
<circle cx="453.9" cy="310.8" r="3.15"/>
<circle cx="462.3" cy="316.7" r="3.15"/>
<circle cx="429" cy="322.8" r="3.15"/>
<circle cx="439.1" cy="324.6" r="3.15"/>
<circle cx="432.4" cy="325.3" r="3.15"/>
<circle cx="436.3" cy="324" r="3.15"/>
<circle cx="428.4" cy="324.4" r="3.15"/>
<circle cx="437.2" cy="332.4" r="3.15"/>
<circle cx="432.6" cy="326.3" r="3.15"/>
<circle cx="449.2" cy="331.3" r="3.15"/>
<circle cx="458.4" cy="336.2" r="3.15"/>
<circle cx="448.3" cy="336.3" r="3.15"/>
<circle cx="457.2" cy="335.5" r="3.15"/>
<circle cx="451" cy="338" r="3.15"/>
<circle cx="449.8" cy="322.1" r="3.15"/>
<circle cx="445.4" cy="333.2" r="3.15"/>
<circle cx="447.6" cy="328.5" r="3.15"/>
<circle cx="448" cy="323.8" r="3.15"/>
<circle cx="468.1" cy="326.5" r="3.15"/>
<circle cx="427.7" cy="359" r="3.15"/>
<circle cx="429.3" cy="359" r="3.15"/>
<circle cx="423.7" cy="341.2" r="3.15"/>
<circle cx="437.9" cy="348.2" r="3.15"/>
<circle cx="430.2" cy="358.7" r="3.15"/>
<circle cx="449.3" cy="357.7" r="3.15"/>
<circle cx="441" cy="340.9" r="3.15"/>
<circle cx="443.1" cy="352.1" r="3.15"/>
<circle cx="455.6" cy="349.6" r="3.15"/>
<circle cx="452.3" cy="352.9" r="3.15"/>
<circle cx="444.5" cy="360" r="3.15"/>
<circle cx="444.4" cy="366.4" r="3.15"/>
<circle cx="448.8" cy="368.9" r="3.15"/>
<circle cx="460.4" cy="365.3" r="3.15"/>
<circle cx="548.8" cy="138.9" r="3.15"/>
<circle cx="551.7" cy="140.1" r="3.15"/>
<circle cx="554.2" cy="142.2" r="3.15"/>
<circle cx="553.4" cy="142.9" r="3.15"/>
<circle cx="557.2" cy="144.1" r="3.15"/>
<circle cx="555.5" cy="146" r="3.15"/>
<circle cx="550.2" cy="148.1" r="3.15"/>
<circle cx="553.5" cy="149.8" r="3.15"/>
<circle cx="556.4" cy="150" r="3.15"/>
<circle cx="551.5" cy="152.5" r="3.15"/>
<circle cx="546.1" cy="153.6" r="3.15"/>
<circle cx="557.9" cy="154.6" r="3.15"/>
<circle cx="546.5" cy="156.2" r="3.15"/>
<circle cx="549.5" cy="157.7" r="3.15"/>
<circle cx="550.6" cy="160" r="3.15"/>
<circle cx="551.7" cy="161.1" r="3.15"/>
<circle cx="546.4" cy="161.8" r="3.15"/>
<circle cx="557.4" cy="163.7" r="3.15"/>
<circle cx="557.3" cy="165.1" r="3.15"/>
<circle cx="553.3" cy="167.1" r="3.15"/>
<circle cx="546.2" cy="167.7" r="3.15"/>
<circle cx="550.7" cy="169.3" r="3.15"/>
<circle cx="548.8" cy="170.8" r="3.15"/>
<circle cx="549.1" cy="172.7" r="3.15"/>
<circle cx="549" cy="174" r="3.15"/>
<circle cx="546.9" cy="175.5" r="3.15"/>
<circle cx="544.3" cy="176.5" r="3.15"/>
<circle cx="546.6" cy="177.1" r="3.15"/>
<circle cx="544" cy="177.2" r="3.15"/>
<circle cx="544.6" cy="178.6" r="3.15"/>
<circle cx="546.5" cy="179.3" r="3.15"/>
<circle cx="548.2" cy="179.5" r="3.15"/>
<circle cx="546.2" cy="180.4" r="3.15"/>
<circle cx="546.7" cy="181.4" r="3.15"/>
<circle cx="544.5" cy="182.3" r="3.15"/>
<circle cx="546.9" cy="182.6" r="3.15"/>
<circle cx="548.2" cy="183.3" r="3.15"/>
<circle cx="548.3" cy="184.1" r="3.15"/>
<circle cx="546.9" cy="184.7" r="3.15"/>
<circle cx="545.2" cy="185.9" r="3.15"/>
<circle cx="547.5" cy="186.3" r="3.15"/>
<circle cx="548.6" cy="187.4" r="3.15"/>
<circle cx="545" cy="188.2" r="3.15"/>
<circle cx="544.1" cy="188.7" r="3.15"/>
<circle cx="545.6" cy="189.1" r="3.15"/>
<circle cx="547" cy="190.1" r="3.15"/>
<circle cx="546.6" cy="190.9" r="3.15"/>
<circle cx="549.7" cy="191.3" r="3.15"/>
<circle cx="545.4" cy="192.3" r="3.15"/>
<circle cx="546.5" cy="192.8" r="3.15"/>
<circle cx="547" cy="193.8" r="3.15"/>
<circle cx="549.5" cy="194.8" r="3.15"/>
<circle cx="548.9" cy="195.1" r="3.15"/>
<circle cx="549.3" cy="196.1" r="3.15"/>
<circle cx="545" cy="197" r="3.15"/>
<circle cx="545.5" cy="197.5" r="3.15"/>
<circle cx="548.2" cy="198.4" r="3.15"/>
<circle cx="548" cy="199.2" r="3.15"/>
<circle cx="544.4" cy="199.2" r="3.15"/>
<circle cx="545.2" cy="200.4" r="3.15"/>
<circle cx="546.5" cy="200.7" r="3.15"/>
<circle cx="545.2" cy="201.8" r="3.15"/>
<circle cx="546.4" cy="202.7" r="3.15"/>
<circle cx="546.8" cy="203.5" r="3.15"/>
<circle cx="548.6" cy="204" r="3.15"/>
<circle cx="546.1" cy="204.5" r="3.15"/>
<circle cx="545.8" cy="205.3" r="3.15"/>
<circle cx="546.2" cy="205.9" r="3.15"/>
<circle cx="546.8" cy="206.6" r="3.15"/>
<circle cx="549.2" cy="207.7" r="3.15"/>
<circle cx="544.6" cy="208.2" r="3.15"/>
<circle cx="545.5" cy="208.8" r="3.15"/>
<circle cx="546.9" cy="209.6" r="3.15"/>
<circle cx="544.9" cy="210.7" r="3.15"/>
<circle cx="546.6" cy="211.4" r="3.15"/>
<circle cx="546.8" cy="212" r="3.15"/>
<circle cx="545.9" cy="212.7" r="3.15"/>
<circle cx="546.9" cy="213.4" r="3.15"/>
<circle cx="549" cy="214" r="3.15"/>
<circle cx="545.3" cy="214.9" r="3.15"/>
<circle cx="548.7" cy="216" r="3.15"/>
<circle cx="547.4" cy="216.3" r="3.15"/>
<circle cx="547.9" cy="217.4" r="3.15"/>
<circle cx="545.5" cy="218" r="3.15"/>
<circle cx="548.3" cy="218.6" r="3.15"/>
<circle cx="544.9" cy="219.4" r="3.15"/>
<circle cx="545.3" cy="220" r="3.15"/>
<circle cx="547.3" cy="221.2" r="3.15"/>
<circle cx="544.9" cy="221.3" r="3.15"/>
<circle cx="547.2" cy="222.6" r="3.15"/>
<circle cx="544.3" cy="223.1" r="3.15"/>
<circle cx="544.2" cy="223.8" r="3.15"/>
<circle cx="544.7" cy="224.6" r="3.15"/>
<circle cx="546.2" cy="225.3" r="3.15"/>
<circle cx="545.5" cy="225.7" r="3.15"/>
<circle cx="545.1" cy="226.5" r="3.15"/>
<circle cx="545" cy="227.2" r="3.15"/>
<circle cx="547.3" cy="228.1" r="3.15"/>
<circle cx="549" cy="228.9" r="3.15"/>
<circle cx="547.2" cy="229.8" r="3.15"/>
<circle cx="549.1" cy="230.4" r="3.15"/>
<circle cx="544.2" cy="231.1" r="3.15"/>
<circle cx="544.2" cy="231.9" r="3.15"/>
<circle cx="544.4" cy="232.6" r="3.15"/>
<circle cx="544.9" cy="233.6" r="3.15"/>
<circle cx="544.6" cy="234.2" r="3.15"/>
<circle cx="548.2" cy="234.6" r="3.15"/>
<circle cx="547.6" cy="235.4" r="3.15"/>
<circle cx="545.6" cy="236.1" r="3.15"/>
<circle cx="544.1" cy="237.1" r="3.15"/>
<circle cx="544.4" cy="237.5" r="3.15"/>
<circle cx="544.5" cy="238.7" r="3.15"/>
<circle cx="547.2" cy="239.1" r="3.15"/>
<circle cx="547.5" cy="240.1" r="3.15"/>
<circle cx="547.7" cy="240.6" r="3.15"/>
<circle cx="545.9" cy="241.4" r="3.15"/>
<circle cx="549.9" cy="242.2" r="3.15"/>
<circle cx="546.9" cy="243.1" r="3.15"/>
<circle cx="544.3" cy="243.2" r="3.15"/>
<circle cx="548.7" cy="244.6" r="3.15"/>
<circle cx="544.3" cy="244.7" r="3.15"/>
<circle cx="544.1" cy="245.8" r="3.15"/>
<circle cx="544.8" cy="246.5" r="3.15"/>
<circle cx="548" cy="246.9" r="3.15"/>
<circle cx="549.2" cy="247.8" r="3.15"/>
<circle cx="547.3" cy="248.6" r="3.15"/>
<circle cx="546.1" cy="249.4" r="3.15"/>
<circle cx="544" cy="250.1" r="3.15"/>
<circle cx="545.6" cy="250.8" r="3.15"/>
<circle cx="545" cy="251.5" r="3.15"/>
<circle cx="548.2" cy="252.7" r="3.15"/>
<circle cx="545.2" cy="253.4" r="3.15"/>
<circle cx="547.7" cy="253.5" r="3.15"/>
<circle cx="544.1" cy="254.8" r="3.15"/>
<circle cx="545.4" cy="255" r="3.15"/>
<circle cx="547.9" cy="256.2" r="3.15"/>
<circle cx="549.4" cy="256.8" r="3.15"/>
<circle cx="545.9" cy="257.4" r="3.15"/>
<circle cx="545.2" cy="258.3" r="3.15"/>
<circle cx="549.7" cy="258.7" r="3.15"/>
<circle cx="546.3" cy="259.6" r="3.15"/>
<circle cx="544.5" cy="260.5" r="3.15"/>
<circle cx="549.9" cy="261" r="3.15"/>
<circle cx="548.4" cy="262.2" r="3.15"/>
<circle cx="545.6" cy="262.9" r="3.15"/>
<circle cx="548.5" cy="263.5" r="3.15"/>
<circle cx="545.2" cy="263.9" r="3.15"/>
<circle cx="544.6" cy="265.1" r="3.15"/>
<circle cx="548.9" cy="265.3" r="3.15"/>
<circle cx="547.2" cy="266.1" r="3.15"/>
<circle cx="548.6" cy="267.1" r="3.15"/>
<circle cx="549.7" cy="267.9" r="3.15"/>
<circle cx="544.6" cy="268.4" r="3.15"/>
<circle cx="547.5" cy="269.5" r="3.15"/>
<circle cx="546.2" cy="269.7" r="3.15"/>
<circle cx="545.7" cy="270.5" r="3.15"/>
<circle cx="544.9" cy="271.3" r="3.15"/>
<circle cx="545.5" cy="272.2" r="3.15"/>
<circle cx="549.4" cy="273.2" r="3.15"/>
<circle cx="545" cy="273.7" r="3.15"/>
<circle cx="548" cy="274.1" r="3.15"/>
<circle cx="547.2" cy="274.9" r="3.15"/>
<circle cx="546.2" cy="275.7" r="3.15"/>
<circle cx="548.9" cy="276.4" r="3.15"/>
<circle cx="547.2" cy="277.4" r="3.15"/>
<circle cx="546" cy="278.3" r="3.15"/>
<circle cx="546" cy="278.6" r="3.15"/>
<circle cx="548.2" cy="279.5" r="3.15"/>
<circle cx="548.3" cy="280" r="3.15"/>
<circle cx="544.9" cy="281.1" r="3.15"/>
<circle cx="546.3" cy="282" r="3.15"/>
<circle cx="545.4" cy="282.2" r="3.15"/>
<circle cx="549.2" cy="283.1" r="3.15"/>
<circle cx="544.7" cy="283.7" r="3.15"/>
<circle cx="548.6" cy="284.5" r="3.15"/>
<circle cx="547.3" cy="285.8" r="3.15"/>
<circle cx="547.7" cy="286.8" r="3.15"/>
<circle cx="549.9" cy="287.3" r="3.15"/>
<circle cx="549.3" cy="288.6" r="3.15"/>
<circle cx="545.2" cy="289.1" r="3.15"/>
<circle cx="546" cy="290.1" r="3.15"/>
<circle cx="548.6" cy="291.6" r="3.15"/>
<circle cx="544.3" cy="292.9" r="3.15"/>
<circle cx="547.6" cy="293.4" r="3.15"/>
<circle cx="544.8" cy="294.5" r="3.15"/>
<circle cx="549.5" cy="295.6" r="3.15"/>
<circle cx="546.8" cy="296.6" r="3.15"/>
<circle cx="547.3" cy="297.6" r="3.15"/>
<circle cx="545.2" cy="298.1" r="3.15"/>
<circle cx="544.1" cy="299.8" r="3.15"/>
<circle cx="538" cy="161.2" r="3.15"/>
<circle cx="542.1" cy="167.2" r="3.15"/>
<circle cx="544.3" cy="170.6" r="3.15"/>
<circle cx="538.8" cy="175.2" r="3.15"/>
<circle cx="541.5" cy="180.6" r="3.15"/>
<circle cx="541.2" cy="187.3" r="3.15"/>
<circle cx="540.2" cy="192" r="3.15"/>
<circle cx="538.1" cy="196.2" r="3.15"/>
<circle cx="544.4" cy="202.9" r="3.15"/>
<circle cx="542" cy="207.9" r="3.15"/>
<circle cx="539.6" cy="209.4" r="3.15"/>
<circle cx="541.1" cy="215.2" r="3.15"/>
<circle cx="543.7" cy="219.7" r="3.15"/>
<circle cx="538.3" cy="225.8" r="3.15"/>
<circle cx="539.6" cy="231.4" r="3.15"/>
<circle cx="539.5" cy="233.4" r="3.15"/>
<circle cx="539" cy="238.3" r="3.15"/>
<circle cx="542.2" cy="242.9" r="3.15"/>
<circle cx="538.3" cy="249.2" r="3.15"/>
<circle cx="543.1" cy="251.7" r="3.15"/>
<circle cx="541" cy="256.3" r="3.15"/>
<circle cx="538.1" cy="262.6" r="3.15"/>
<circle cx="540" cy="269.8" r="3.15"/>
<circle cx="538.1" cy="273.5" r="3.15"/>
<circle cx="543.1" cy="277.2" r="3.15"/>
<circle cx="552" cy="300.7" r="3.15"/>
<circle cx="548" cy="303" r="3.15"/>
<circle cx="558.5" cy="305.8" r="3.15"/>
<circle cx="546.2" cy="310.7" r="3.15"/>
<circle cx="551.3" cy="312.9" r="3.15"/>
<circle cx="548.7" cy="314.8" r="3.15"/>
<circle cx="556.8" cy="317.6" r="3.15"/>
<circle cx="548.7" cy="322.2" r="3.15"/>
<circle cx="548.8" cy="325.7" r="3.15"/>
<circle cx="546.8" cy="327.3" r="3.15"/>
<circle cx="552.6" cy="330.1" r="3.15"/>
<circle cx="556.4" cy="331.7" r="3.15"/>
<circle cx="552.7" cy="336.7" r="3.15"/>
<circle cx="544.8" cy="338.8" r="3.15"/>
<circle cx="551.1" cy="341.3" r="3.15"/>
<circle cx="552.6" cy="344.8" r="3.15"/>
<circle cx="555.3" cy="348.4" r="3.15"/>
<circle cx="554.5" cy="351.6" r="3.15"/>
<circle cx="554.6" cy="352.4" r="3.15"/>
<circle cx="546.4" cy="354.7" r="3.15"/>
<circle cx="548.3" cy="357.7" r="3.15"/>
<circle cx="554.9" cy="362.2" r="3.15"/>
<circle cx="553.8" cy="364.2" r="3.15"/>
<circle cx="551.4" cy="366.7" r="3.15"/>
<circle cx="558.7" cy="368.8" r="3.15"/>
<circle cx="549.1" cy="373.3" r="3.15"/>
<circle cx="546.9" cy="377" r="3.15"/>
<circle cx="551.7" cy="378.5" r="3.15"/>
<circle cx="545" cy="381.1" r="3.15"/>
<circle cx="553.4" cy="383.9" r="3.15"/>
<circle cx="556.6" cy="372.6" r="3.15"/>
<circle cx="554.1" cy="374.6" r="3.15"/>
<circle cx="559" cy="376.7" r="3.15"/>
<circle cx="547.8" cy="378.2" r="3.15"/>
<circle cx="547" cy="378.4" r="3.15"/>
<circle cx="550.1" cy="380.5" r="3.15"/>
<circle cx="558.1" cy="382.5" r="3.15"/>
<circle cx="551.6" cy="384.5" r="3.15"/>
<circle cx="560.9" cy="385.8" r="3.15"/>
<circle cx="556.1" cy="387.8" r="3.15"/>
<circle cx="579.1" cy="180.3" r="3.15"/>
<circle cx="581.1" cy="184.4" r="3.15"/>
<circle cx="578.9" cy="184.6" r="3.15"/>
<circle cx="575.5" cy="187.8" r="3.15"/>
<circle cx="581.5" cy="191.1" r="3.15"/>
<circle cx="579.9" cy="193.1" r="3.15"/>
<circle cx="574.8" cy="194.5" r="3.15"/>
<circle cx="577.8" cy="196" r="3.15"/>
<circle cx="578.5" cy="199" r="3.15"/>
<circle cx="581.8" cy="200.1" r="3.15"/>
<circle cx="576.4" cy="202.6" r="3.15"/>
<circle cx="575.8" cy="205.2" r="3.15"/>
<circle cx="577" cy="208.8" r="3.15"/>
<circle cx="576.6" cy="210" r="3.15"/>
<circle cx="575.3" cy="211.6" r="3.15"/>
<circle cx="575.7" cy="214.6" r="3.15"/>
<circle cx="576.4" cy="216.2" r="3.15"/>
<circle cx="578.2" cy="217.8" r="3.15"/>
<circle cx="580.9" cy="220.1" r="3.15"/>
<circle cx="577.3" cy="224.4" r="3.15"/>
<circle cx="575.3" cy="224.5" r="3.15"/>
<circle cx="577.9" cy="228.1" r="3.15"/>
<circle cx="577.1" cy="229.4" r="3.15"/>
<circle cx="579.5" cy="232.4" r="3.15"/>
<circle cx="576.8" cy="234.7" r="3.15"/>
<circle cx="580.7" cy="236.7" r="3.15"/>
<circle cx="577.1" cy="239.1" r="3.15"/>
<circle cx="578" cy="240.2" r="3.15"/>
<circle cx="581.2" cy="242.5" r="3.15"/>
<circle cx="579.9" cy="245.4" r="3.15"/>
<circle cx="580.3" cy="247.8" r="3.15"/>
<circle cx="580.6" cy="249.9" r="3.15"/>
<circle cx="576" cy="252.8" r="3.15"/>
<circle cx="580.6" cy="254.5" r="3.15"/>
<circle cx="581.4" cy="257.1" r="3.15"/>
<circle cx="581.5" cy="258.2" r="3.15"/>
<circle cx="581.5" cy="261.7" r="3.15"/>
<circle cx="581.5" cy="263" r="3.15"/>
<circle cx="578.4" cy="266.4" r="3.15"/>
<circle cx="579.4" cy="267.3" r="3.15"/>
<circle cx="576.3" cy="271" r="3.15"/>
<circle cx="579.4" cy="271.2" r="3.15"/>
<circle cx="576.1" cy="274.6" r="3.15"/>
<circle cx="575.5" cy="276.6" r="3.15"/>
<circle cx="579.3" cy="278" r="3.15"/>
<circle cx="576" cy="282" r="3.15"/>
<circle cx="574.3" cy="282.5" r="3.15"/>
<circle cx="580.6" cy="285.9" r="3.15"/>
<circle cx="577.8" cy="288.6" r="3.15"/>
<circle cx="575.7" cy="288.9" r="3.15"/>
<circle cx="580.5" cy="292.5" r="3.15"/>
<circle cx="576.7" cy="294.6" r="3.15"/>
<circle cx="574.7" cy="296.3" r="3.15"/>
<circle cx="578.5" cy="299.7" r="3.15"/>
<circle cx="576.5" cy="300.1" r="3.15"/>
<circle cx="574.7" cy="302.9" r="3.15"/>
<circle cx="579" cy="306" r="3.15"/>
<circle cx="579.6" cy="308.6" r="3.15"/>
<circle cx="579.5" cy="310.4" r="3.15"/>
<circle cx="578.8" cy="312.6" r="3.15"/>
<circle cx="579.8" cy="315.5" r="3.15"/>
<circle cx="575.4" cy="317" r="3.15"/>
<circle cx="575" cy="318.2" r="3.15"/>
<circle cx="581.4" cy="320.9" r="3.15"/>
<circle cx="578.5" cy="322.7" r="3.15"/>
<circle cx="578.1" cy="324.5" r="3.15"/>
<circle cx="578.6" cy="328.8" r="3.15"/>
<circle cx="579.5" cy="330.4" r="3.15"/>
<circle cx="578.4" cy="331.8" r="3.15"/>
<circle cx="580.2" cy="334.2" r="3.15"/>
<circle cx="576.7" cy="336.8" r="3.15"/>
<circle cx="581.8" cy="339.4" r="3.15"/>
<circle cx="579.4" cy="340.3" r="3.15"/>
<circle cx="580.5" cy="343.2" r="3.15"/>
<circle cx="579" cy="345.7" r="3.15"/>
<circle cx="580.3" cy="346.7" r="3.15"/>
<circle cx="574.8" cy="349.5" r="3.15"/>
<circle cx="575.6" cy="352.6" r="3.15"/>
<circle cx="574.9" cy="353.5" r="3.15"/>
<circle cx="578.2" cy="355.7" r="3.15"/>
<circle cx="580.4" cy="358.5" r="3.15"/>
<circle cx="576.4" cy="361.3" r="3.15"/>
<circle cx="581.8" cy="362.9" r="3.15"/>
<circle cx="575.8" cy="365.3" r="3.15"/>
<circle cx="580.2" cy="368.7" r="3.15"/>
<circle cx="575.2" cy="369" r="3.15"/>
<circle cx="576.4" cy="371.8" r="3.15"/>
<circle cx="580" cy="374.8" r="3.15"/>
<circle cx="580" cy="376.4" r="3.15"/>
<circle cx="577.4" cy="379.9" r="3.15"/>
</g>
<g fill="none" stroke="rgba(135,72,45,0.55)" stroke-width="0.95">
<circle cx="85" cy="73" r="3.15"/>
<circle cx="85" cy="77.7" r="3.15"/>
<circle cx="85" cy="88" r="3.15"/>
<circle cx="85" cy="96" r="3.15"/>
<circle cx="85" cy="111.4" r="3.15"/>
<circle cx="85" cy="118" r="3.15"/>
<circle cx="85" cy="124" r="3.15"/>
<circle cx="85" cy="133" r="3.15"/>
<circle cx="85" cy="156" r="3.15"/>
<circle cx="85" cy="165" r="3.15"/>
<circle cx="85" cy="175.5" r="3.15"/>
<circle cx="100" cy="58.2" r="3.15"/>
<circle cx="100" cy="60.1" r="3.15"/>
<circle cx="100" cy="67" r="3.15"/>
<circle cx="100" cy="74" r="3.15"/>
<circle cx="100" cy="77.7" r="3.15"/>
<circle cx="100" cy="80.3" r="3.15"/>
<circle cx="112" cy="139" r="3.15"/>
<circle cx="212.6" cy="47.6" r="3.15"/>
<circle cx="210" cy="65.8" r="3.15"/>
<circle cx="217" cy="68.7" r="3.15"/>
<circle cx="212" cy="75.3" r="3.15"/>
<circle cx="211" cy="79" r="3.15"/>
<circle cx="217" cy="80.3" r="3.15"/>
<circle cx="205" cy="87.8" r="3.15"/>
<circle cx="212" cy="90" r="3.15"/>
<circle cx="207" cy="94" r="3.15"/>
<circle cx="212" cy="95" r="3.15"/>
<circle cx="218" cy="98" r="3.15"/>
<circle cx="212" cy="109" r="3.15"/>
<circle cx="216" cy="112" r="3.15"/>
<circle cx="210" cy="114" r="3.15"/>
<circle cx="194" cy="113" r="3.15"/>
<circle cx="202" cy="115" r="3.15"/>
<circle cx="210" cy="122" r="3.15"/>
<circle cx="215" cy="125" r="3.15"/>
<circle cx="201" cy="129" r="3.15"/>
<circle cx="209" cy="131" r="3.15"/>
<circle cx="213" cy="143" r="3.15"/>
<circle cx="212" cy="146" r="3.15"/>
<circle cx="214" cy="150" r="3.15"/>
<circle cx="212" cy="157" r="3.15"/>
<circle cx="210" cy="164" r="3.15"/>
<circle cx="214" cy="168" r="3.15"/>
<circle cx="210" cy="173" r="3.15"/>
<circle cx="236" cy="93" r="3.15"/>
<circle cx="235" cy="119" r="3.15"/>
<circle cx="347.7" cy="98.2" r="3.15"/>
<circle cx="347.2" cy="99" r="3.15"/>
<circle cx="341.3" cy="101.4" r="3.15"/>
<circle cx="347.4" cy="102.4" r="3.15"/>
<circle cx="347.8" cy="103.6" r="3.15"/>
<circle cx="340.8" cy="105.6" r="3.15"/>
<circle cx="346.9" cy="107.6" r="3.15"/>
<circle cx="346.6" cy="109.5" r="3.15"/>
<circle cx="341.2" cy="110.5" r="3.15"/>
<circle cx="341.4" cy="111.1" r="3.15"/>
<circle cx="340" cy="114.1" r="3.15"/>
<circle cx="347.6" cy="115" r="3.15"/>
<circle cx="341.1" cy="116.1" r="3.15"/>
<circle cx="340.9" cy="117.6" r="3.15"/>
<circle cx="347.6" cy="120.2" r="3.15"/>
<circle cx="341" cy="120.9" r="3.15"/>
<circle cx="347.6" cy="133" r="3.15"/>
<circle cx="347.6" cy="144.6" r="3.15"/>
<circle cx="341.7" cy="154.6" r="3.15"/>
<circle cx="341" cy="165.7" r="3.15"/>
<circle cx="347" cy="179" r="3.15"/>
<circle cx="347.9" cy="189" r="3.15"/>
<circle cx="341.3" cy="211" r="3.15"/>
<circle cx="348.3" cy="218.1" r="3.15"/>
<circle cx="341.1" cy="224.2" r="3.15"/>
<circle cx="347" cy="236.4" r="3.15"/>
<circle cx="363.2" cy="101.3" r="3.15"/>
<circle cx="362.8" cy="105.2" r="3.15"/>
<circle cx="366.9" cy="106.6" r="3.15"/>
<circle cx="362" cy="112.1" r="3.15"/>
<circle cx="367.5" cy="117.9" r="3.15"/>
<circle cx="362.3" cy="119.3" r="3.15"/>
<circle cx="362.6" cy="125.1" r="3.15"/>
<circle cx="367.1" cy="129.3" r="3.15"/>
<circle cx="367.1" cy="133.1" r="3.15"/>
<circle cx="367.3" cy="139.5" r="3.15"/>
<circle cx="362.7" cy="141.1" r="3.15"/>
<circle cx="362.9" cy="159.4" r="3.15"/>
<circle cx="363.1" cy="162.1" r="3.15"/>
<circle cx="362.6" cy="175" r="3.15"/>
<circle cx="366.7" cy="183.2" r="3.15"/>
<circle cx="368.1" cy="190.7" r="3.15"/>
<circle cx="470.5" cy="108.6" r="3.15"/>
<circle cx="484.8" cy="117.6" r="3.15"/>
<circle cx="499.5" cy="123.6" r="3.15"/>
<circle cx="484.6" cy="133" r="3.15"/>
<circle cx="485" cy="138" r="3.15"/>
<circle cx="499.5" cy="145.3" r="3.15"/>
<circle cx="478" cy="140" r="3.15"/>
<circle cx="485" cy="148" r="3.15"/>
<circle cx="493.2" cy="152" r="3.15"/>
<circle cx="478.1" cy="153.6" r="3.15"/>
<circle cx="476.2" cy="157.9" r="3.15"/>
<circle cx="471.9" cy="158.3" r="3.15"/>
<circle cx="495.2" cy="161.2" r="3.15"/>
<circle cx="486.5" cy="165.3" r="3.15"/>
<circle cx="475.1" cy="167.1" r="3.15"/>
<circle cx="480.7" cy="170.3" r="3.15"/>
<circle cx="479.8" cy="174.5" r="3.15"/>
<circle cx="494.8" cy="175.1" r="3.15"/>
<circle cx="476.8" cy="179.7" r="3.15"/>
<circle cx="499.4" cy="180.9" r="3.15"/>
<circle cx="484.4" cy="184.1" r="3.15"/>
<circle cx="472.1" cy="185.8" r="3.15"/>
<circle cx="474.1" cy="190.1" r="3.15"/>
<circle cx="472.1" cy="192.7" r="3.15"/>
<circle cx="486.1" cy="195.6" r="3.15"/>
<circle cx="485.7" cy="198.4" r="3.15"/>
<circle cx="473.1" cy="201.1" r="3.15"/>
<circle cx="476.3" cy="202.5" r="3.15"/>
<circle cx="479.3" cy="206.3" r="3.15"/>
<circle cx="473.7" cy="209.5" r="3.15"/>
<circle cx="485.3" cy="214.3" r="3.15"/>
<circle cx="499.9" cy="218.3" r="3.15"/>
<circle cx="496.9" cy="223.6" r="3.15"/>
<circle cx="493.6" cy="227.4" r="3.15"/>
<circle cx="484.2" cy="233.9" r="3.15"/>
<circle cx="499.6" cy="236.9" r="3.15"/>
<circle cx="480.1" cy="242.1" r="3.15"/>
<circle cx="495.9" cy="246.7" r="3.15"/>
<circle cx="473.1" cy="252.2" r="3.15"/>
<circle cx="479.3" cy="259.9" r="3.15"/>
<circle cx="471.5" cy="260" r="3.15"/>
<circle cx="493.5" cy="268.4" r="3.15"/>
<circle cx="541" cy="123" r="3.15"/>
<circle cx="544" cy="128" r="3.15"/>
<circle cx="538" cy="135" r="3.15"/>
<circle cx="541" cy="153" r="3.15"/>
<circle cx="539" cy="183" r="3.15"/>
<circle cx="540" cy="192" r="3.15"/>
<circle cx="540" cy="217" r="3.15"/>
<circle cx="553.2" cy="131.4" r="3.15"/>
<circle cx="554.5" cy="138.8" r="3.15"/>
<circle cx="556.5" cy="144" r="3.15"/>
<circle cx="557.5" cy="150.4" r="3.15"/>
<circle cx="554.6" cy="154.8" r="3.15"/>
<circle cx="554.3" cy="158.6" r="3.15"/>
<circle cx="554" cy="163.9" r="3.15"/>
<circle cx="554.2" cy="170.4" r="3.15"/>
<circle cx="556.4" cy="176.2" r="3.15"/>
<circle cx="553.2" cy="181.6" r="3.15"/>
<circle cx="554" cy="187.6" r="3.15"/>
<circle cx="554.1" cy="191.6" r="3.15"/>
<circle cx="553.9" cy="195.9" r="3.15"/>
<circle cx="557.3" cy="199.7" r="3.15"/>
<circle cx="555.6" cy="205" r="3.15"/>
<circle cx="553.4" cy="207.8" r="3.15"/>
<circle cx="557.2" cy="213.9" r="3.15"/>
<circle cx="556.4" cy="218.9" r="3.15"/>
<circle cx="557.2" cy="222.6" r="3.15"/>
<circle cx="555.4" cy="228.9" r="3.15"/>
<circle cx="557" cy="231.1" r="3.15"/>
<circle cx="554.8" cy="237.9" r="3.15"/>
<circle cx="555.9" cy="241" r="3.15"/>
<circle cx="568.5" cy="101" r="3.15"/>
<circle cx="569.3" cy="124.5" r="3.15"/>
<circle cx="569.8" cy="127.4" r="3.15"/>
<circle cx="568.5" cy="132.9" r="3.15"/>
<circle cx="569.2" cy="134.4" r="3.15"/>
<circle cx="569.6" cy="138.5" r="3.15"/>
<circle cx="568.2" cy="140.3" r="3.15"/>
<circle cx="569.6" cy="145.2" r="3.15"/>
<circle cx="568.1" cy="147.4" r="3.15"/>
<circle cx="569.4" cy="149.9" r="3.15"/>
<circle cx="569.8" cy="151.2" r="3.15"/>
<circle cx="568.4" cy="154.7" r="3.15"/>
<circle cx="568.9" cy="159.4" r="3.15"/>
<circle cx="568.5" cy="165.5" r="3.15"/>
<circle cx="570.2" cy="168" r="3.15"/>
<circle cx="570.9" cy="172.7" r="3.15"/>
<circle cx="570.8" cy="177.3" r="3.15"/>
<circle cx="569.7" cy="180.8" r="3.15"/>
<circle cx="570.2" cy="185" r="3.15"/>
<circle cx="570.6" cy="187.4" r="3.15"/>
<circle cx="568.8" cy="191" r="3.15"/>
<circle cx="570.7" cy="197.6" r="3.15"/>
<circle cx="569" cy="199.6" r="3.15"/>
<circle cx="568" cy="205.9" r="3.15"/>
<circle cx="569.9" cy="209.9" r="3.15"/>
<circle cx="569.7" cy="212.1" r="3.15"/>
<circle cx="570.1" cy="217.5" r="3.15"/>
<circle cx="570.5" cy="219.4" r="3.15"/>
<circle cx="569.3" cy="225.8" r="3.15"/>
<circle cx="569.3" cy="229.2" r="3.15"/>
<circle cx="581.8" cy="142.2" r="3.15"/>
<circle cx="577.6" cy="145" r="3.15"/>
<circle cx="579.3" cy="147.3" r="3.15"/>
<circle cx="580.1" cy="150.9" r="3.15"/>
<circle cx="579.9" cy="153.5" r="3.15"/>
<circle cx="578.6" cy="154.8" r="3.15"/>
<circle cx="580.8" cy="160.4" r="3.15"/>
<circle cx="577.9" cy="163.1" r="3.15"/>
<circle cx="579.4" cy="165.2" r="3.15"/>
<circle cx="578.8" cy="168.3" r="3.15"/>
<circle cx="579.7" cy="171.5" r="3.15"/>
<circle cx="578.9" cy="173.1" r="3.15"/>
<circle cx="580.6" cy="175.3" r="3.15"/>
<circle cx="582.4" cy="179.2" r="3.15"/>
<circle cx="582.4" cy="180.7" r="3.15"/>
<circle cx="581" cy="183.3" r="3.15"/>
<circle cx="577.9" cy="186.6" r="3.15"/>
<circle cx="579.9" cy="189.5" r="3.15"/>
<circle cx="579.8" cy="191.1" r="3.15"/>
<circle cx="580.9" cy="193.9" r="3.15"/>
<circle cx="579" cy="197.8" r="3.15"/>
<circle cx="580.9" cy="200.3" r="3.15"/>
<circle cx="582.1" cy="203.2" r="3.15"/>
<circle cx="578.6" cy="206.1" r="3.15"/>
<circle cx="580.1" cy="207.7" r="3.15"/>
<circle cx="578.9" cy="209.8" r="3.15"/>
<circle cx="580.3" cy="211.5" r="3.15"/>
<circle cx="581.1" cy="214.9" r="3.15"/>
<circle cx="581" cy="218.5" r="3.15"/>
<circle cx="580.6" cy="219.4" r="3.15"/>
<circle cx="580.3" cy="222.7" r="3.15"/>
<circle cx="581.1" cy="226.2" r="3.15"/>
<circle cx="580" cy="228.9" r="3.15"/>
<circle cx="578.2" cy="231.7" r="3.15"/>
<circle cx="582.3" cy="234.5" r="3.15"/>
<circle cx="581.6" cy="235.9" r="3.15"/>
<circle cx="582.2" cy="238.9" r="3.15"/>
<circle cx="586.1" cy="165.1" r="3.15"/>
<circle cx="586.1" cy="172.9" r="3.15"/>
<circle cx="587.6" cy="176.8" r="3.15"/>
<circle cx="588" cy="181.7" r="3.15"/>
<circle cx="587.6" cy="183.9" r="3.15"/>
<circle cx="586.3" cy="188.7" r="3.15"/>
<circle cx="586.6" cy="195.3" r="3.15"/>
<circle cx="588.3" cy="196.9" r="3.15"/>
<circle cx="587.5" cy="202.8" r="3.15"/>
<circle cx="587.8" cy="211.7" r="3.15"/>
<circle cx="586.8" cy="215.7" r="3.15"/>
<circle cx="587.5" cy="223.7" r="3.15"/>
<circle cx="586.7" cy="227.9" r="3.15"/>
<circle cx="586.3" cy="233.3" r="3.15"/>
<circle cx="588.9" cy="240.3" r="3.15"/>
<circle cx="586.1" cy="247.9" r="3.15"/>
<circle cx="587.6" cy="251.5" r="3.15"/>
<circle cx="588.8" cy="257.5" r="3.15"/>
</g>
<g fill="none" stroke="rgba(0,0,255,0.47)" stroke-width="0.95">
<circle cx="85" cy="80.3" r="3.15"/>
<circle cx="85" cy="87.8" r="3.15"/>
<circle cx="85" cy="115.2" r="3.15"/>
<circle cx="85" cy="117.7" r="3.15"/>
<circle cx="85" cy="135.2" r="3.15"/>
<circle cx="85" cy="137.5" r="3.15"/>
<circle cx="85" cy="143.3" r="3.15"/>
<circle cx="85" cy="172.6" r="3.15"/>
<circle cx="100" cy="74" r="3.15"/>
<circle cx="100" cy="89.7" r="3.15"/>
<circle cx="100" cy="90.8" r="3.15"/>
<circle cx="100" cy="96.7" r="3.15"/>
<circle cx="100" cy="99" r="3.15"/>
<circle cx="100" cy="100.9" r="3.15"/>
<circle cx="112" cy="163.5" r="3.15"/>
<circle cx="210" cy="69" r="3.15"/>
<circle cx="212.6" cy="72.7" r="3.15"/>
<circle cx="216" cy="78.4" r="3.15"/>
<circle cx="212" cy="87.2" r="3.15"/>
<circle cx="217" cy="90.3" r="3.15"/>
<circle cx="210" cy="99.5" r="3.15"/>
<circle cx="207" cy="101" r="3.15"/>
<circle cx="216" cy="99" r="3.15"/>
<circle cx="206" cy="104" r="3.15"/>
<circle cx="215" cy="104" r="3.15"/>
<circle cx="204" cy="106" r="3.15"/>
<circle cx="213" cy="111" r="3.15"/>
<circle cx="216" cy="115" r="3.15"/>
<circle cx="194" cy="121" r="3.15"/>
<circle cx="202" cy="130" r="3.15"/>
<circle cx="213" cy="134" r="3.15"/>
<circle cx="217" cy="135" r="3.15"/>
<circle cx="216" cy="139" r="3.15"/>
<circle cx="210" cy="142" r="3.15"/>
<circle cx="210.8" cy="143" r="3.15"/>
<circle cx="210" cy="152" r="3.15"/>
<circle cx="200" cy="156" r="3.15"/>
<circle cx="201" cy="160" r="3.15"/>
<circle cx="217" cy="160" r="3.15"/>
<circle cx="211" cy="166" r="3.15"/>
<circle cx="212" cy="171" r="3.15"/>
<circle cx="211" cy="175" r="3.15"/>
<circle cx="211" cy="180" r="3.15"/>
<circle cx="217" cy="182" r="3.15"/>
<circle cx="209" cy="187" r="3.15"/>
<circle cx="236" cy="113" r="3.15"/>
<circle cx="237" cy="115" r="3.15"/>
<circle cx="341.7" cy="121.9" r="3.15"/>
<circle cx="340.6" cy="123.3" r="3.15"/>
<circle cx="340.3" cy="125.2" r="3.15"/>
<circle cx="341.3" cy="127.5" r="3.15"/>
<circle cx="341.1" cy="128.9" r="3.15"/>
<circle cx="347.5" cy="130.1" r="3.15"/>
<circle cx="347.4" cy="132" r="3.15"/>
<circle cx="347.5" cy="134.9" r="3.15"/>
<circle cx="347.6" cy="136.4" r="3.15"/>
<circle cx="348.2" cy="137.6" r="3.15"/>
<circle cx="347.9" cy="140.5" r="3.15"/>
<circle cx="348.1" cy="142.8" r="3.15"/>
<circle cx="340.7" cy="143.4" r="3.15"/>
<circle cx="340.5" cy="147.2" r="3.15"/>
<circle cx="340.9" cy="148.2" r="3.15"/>
<circle cx="348.7" cy="149.8" r="3.15"/>
<circle cx="341.4" cy="151.8" r="3.15"/>
<circle cx="347.5" cy="154.5" r="3.15"/>
<circle cx="347.9" cy="156.8" r="3.15"/>
<circle cx="347.6" cy="158.4" r="3.15"/>
<circle cx="347.7" cy="159.7" r="3.15"/>
<circle cx="348.1" cy="160.9" r="3.15"/>
<circle cx="347.3" cy="163.8" r="3.15"/>
<circle cx="346.6" cy="165.2" r="3.15"/>
<circle cx="340.2" cy="167" r="3.15"/>
<circle cx="340.4" cy="170.5" r="3.15"/>
<circle cx="348" cy="171.1" r="3.15"/>
<circle cx="346.8" cy="173.4" r="3.15"/>
<circle cx="341.3" cy="175.5" r="3.15"/>
<circle cx="347.5" cy="177.8" r="3.15"/>
<circle cx="347.3" cy="180" r="3.15"/>
<circle cx="347.2" cy="182.1" r="3.15"/>
<circle cx="341.9" cy="183.2" r="3.15"/>
<circle cx="341.8" cy="184.7" r="3.15"/>
<circle cx="347.4" cy="187.5" r="3.15"/>
<circle cx="347.6" cy="188.7" r="3.15"/>
<circle cx="346.9" cy="190.4" r="3.15"/>
<circle cx="342.1" cy="204.4" r="3.15"/>
<circle cx="347.8" cy="208.6" r="3.15"/>
<circle cx="346.9" cy="217.4" r="3.15"/>
<circle cx="340.4" cy="223.5" r="3.15"/>
<circle cx="341.3" cy="232.3" r="3.15"/>
<circle cx="341.5" cy="238.1" r="3.15"/>
<circle cx="341.2" cy="248.6" r="3.15"/>
<circle cx="366.4" cy="101.2" r="3.15"/>
<circle cx="362.6" cy="103.6" r="3.15"/>
<circle cx="366.4" cy="106.2" r="3.15"/>
<circle cx="367.5" cy="108.4" r="3.15"/>
<circle cx="363" cy="111" r="3.15"/>
<circle cx="362.5" cy="114" r="3.15"/>
<circle cx="366.3" cy="116.5" r="3.15"/>
<circle cx="366.9" cy="118" r="3.15"/>
<circle cx="361.8" cy="120.7" r="3.15"/>
<circle cx="362.8" cy="122.5" r="3.15"/>
<circle cx="367.5" cy="125.9" r="3.15"/>
<circle cx="366.4" cy="127.9" r="3.15"/>
<circle cx="362.9" cy="131.4" r="3.15"/>
<circle cx="363.4" cy="133.6" r="3.15"/>
<circle cx="362.5" cy="136.3" r="3.15"/>
<circle cx="362.1" cy="138.8" r="3.15"/>
<circle cx="367.8" cy="140.6" r="3.15"/>
<circle cx="362.8" cy="143.8" r="3.15"/>
<circle cx="367.5" cy="144.7" r="3.15"/>
<circle cx="367.5" cy="148.4" r="3.15"/>
<circle cx="362.4" cy="150.7" r="3.15"/>
<circle cx="367" cy="153.5" r="3.15"/>
<circle cx="366.8" cy="155.2" r="3.15"/>
<circle cx="362.1" cy="159.4" r="3.15"/>
<circle cx="366.2" cy="161.6" r="3.15"/>
<circle cx="362.4" cy="163.6" r="3.15"/>
<circle cx="362.4" cy="166.3" r="3.15"/>
<circle cx="366.6" cy="169" r="3.15"/>
<circle cx="366.6" cy="171.2" r="3.15"/>
<circle cx="366.9" cy="174.2" r="3.15"/>
<circle cx="366.5" cy="176.7" r="3.15"/>
<circle cx="362.7" cy="178.2" r="3.15"/>
<circle cx="362.7" cy="182" r="3.15"/>
<circle cx="367.3" cy="183.5" r="3.15"/>
<circle cx="367" cy="187.1" r="3.15"/>
<circle cx="366.2" cy="188.9" r="3.15"/>
<circle cx="366.4" cy="197.3" r="3.15"/>
<circle cx="366.6" cy="204.8" r="3.15"/>
<circle cx="362.3" cy="220.4" r="3.15"/>
<circle cx="362.2" cy="233.1" r="3.15"/>
<circle cx="367.9" cy="251.8" r="3.15"/>
<circle cx="362.8" cy="257.2" r="3.15"/>
<circle cx="499.5" cy="117.3" r="3.15"/>
<circle cx="499.5" cy="137.5" r="3.15"/>
<circle cx="479" cy="142" r="3.15"/>
<circle cx="485" cy="145.8" r="3.15"/>
<circle cx="470" cy="150.5" r="3.15"/>
<circle cx="476" cy="154" r="3.15"/>
<circle cx="485" cy="155" r="3.15"/>
<circle cx="499.5" cy="157" r="3.15"/>
<circle cx="473" cy="150.3" r="3.15"/>
<circle cx="493.1" cy="152" r="3.15"/>
<circle cx="473.4" cy="152.4" r="3.15"/>
<circle cx="485.9" cy="153.6" r="3.15"/>
<circle cx="475.6" cy="155.4" r="3.15"/>
<circle cx="479.4" cy="156.2" r="3.15"/>
<circle cx="475.9" cy="157.3" r="3.15"/>
<circle cx="478.3" cy="157.8" r="3.15"/>
<circle cx="479.7" cy="159.2" r="3.15"/>
<circle cx="499.6" cy="160.4" r="3.15"/>
<circle cx="478.6" cy="161.6" r="3.15"/>
<circle cx="479.6" cy="162.5" r="3.15"/>
<circle cx="471.7" cy="163.3" r="3.15"/>
<circle cx="486.4" cy="164.3" r="3.15"/>
<circle cx="477.2" cy="165.7" r="3.15"/>
<circle cx="479.2" cy="167.4" r="3.15"/>
<circle cx="498.5" cy="167.5" r="3.15"/>
<circle cx="476.9" cy="169.6" r="3.15"/>
<circle cx="476.1" cy="170.1" r="3.15"/>
<circle cx="473.7" cy="171" r="3.15"/>
<circle cx="472" cy="172.4" r="3.15"/>
<circle cx="478.1" cy="173.6" r="3.15"/>
<circle cx="495.4" cy="175" r="3.15"/>
<circle cx="477.6" cy="176" r="3.15"/>
<circle cx="475.5" cy="176.9" r="3.15"/>
<circle cx="476.3" cy="177.4" r="3.15"/>
<circle cx="477.2" cy="179.4" r="3.15"/>
<circle cx="494.8" cy="179.6" r="3.15"/>
<circle cx="475.4" cy="181" r="3.15"/>
<circle cx="498" cy="182.2" r="3.15"/>
<circle cx="485.7" cy="183.5" r="3.15"/>
<circle cx="499.6" cy="184.9" r="3.15"/>
<circle cx="493.7" cy="185.4" r="3.15"/>
<circle cx="495.1" cy="186.7" r="3.15"/>
<circle cx="473" cy="187.5" r="3.15"/>
<circle cx="475.2" cy="188.4" r="3.15"/>
<circle cx="495.2" cy="189.7" r="3.15"/>
<circle cx="496.9" cy="190.4" r="3.15"/>
<circle cx="477.1" cy="191.7" r="3.15"/>
<circle cx="477.2" cy="193.1" r="3.15"/>
<circle cx="476.6" cy="194.3" r="3.15"/>
<circle cx="473.7" cy="195.1" r="3.15"/>
<circle cx="493.4" cy="196.2" r="3.15"/>
<circle cx="478" cy="197.8" r="3.15"/>
<circle cx="479.6" cy="198.8" r="3.15"/>
<circle cx="480.2" cy="199.4" r="3.15"/>
<circle cx="493.5" cy="200.7" r="3.15"/>
<circle cx="480" cy="202.2" r="3.15"/>
<circle cx="471.5" cy="202.8" r="3.15"/>
<circle cx="481" cy="204.2" r="3.15"/>
<circle cx="474.6" cy="205.4" r="3.15"/>
<circle cx="479.2" cy="206.4" r="3.15"/>
<circle cx="478.1" cy="207.2" r="3.15"/>
<circle cx="475.2" cy="207.9" r="3.15"/>
<circle cx="475.4" cy="209.8" r="3.15"/>
<circle cx="476" cy="211.3" r="3.15"/>
<circle cx="499.3" cy="212.2" r="3.15"/>
<circle cx="485.7" cy="213.5" r="3.15"/>
<circle cx="474.6" cy="214.3" r="3.15"/>
<circle cx="474.7" cy="216.4" r="3.15"/>
<circle cx="472.6" cy="217.8" r="3.15"/>
<circle cx="480.3" cy="218.9" r="3.15"/>
<circle cx="475.1" cy="220.4" r="3.15"/>
<circle cx="471.2" cy="221.4" r="3.15"/>
<circle cx="475" cy="222.7" r="3.15"/>
<circle cx="480.8" cy="224.2" r="3.15"/>
<circle cx="478.4" cy="225.4" r="3.15"/>
<circle cx="498.2" cy="227.3" r="3.15"/>
<circle cx="481" cy="228" r="3.15"/>
<circle cx="474.7" cy="229.2" r="3.15"/>
<circle cx="496.7" cy="230.1" r="3.15"/>
<circle cx="496.5" cy="232.4" r="3.15"/>
<circle cx="479.7" cy="233.9" r="3.15"/>
<circle cx="475.8" cy="234.2" r="3.15"/>
<circle cx="471.9" cy="236.5" r="3.15"/>
<circle cx="477.7" cy="237.5" r="3.15"/>
<circle cx="473.1" cy="239.2" r="3.15"/>
<circle cx="473.5" cy="239.8" r="3.15"/>
<circle cx="485.1" cy="240.8" r="3.15"/>
<circle cx="478.2" cy="242.9" r="3.15"/>
<circle cx="474.1" cy="243.3" r="3.15"/>
<circle cx="477.3" cy="245.3" r="3.15"/>
<circle cx="494.4" cy="247.1" r="3.15"/>
<circle cx="499.3" cy="248.6" r="3.15"/>
<circle cx="480.2" cy="249.2" r="3.15"/>
<circle cx="486.9" cy="250.8" r="3.15"/>
<circle cx="484.2" cy="252.1" r="3.15"/>
<circle cx="474.9" cy="253.2" r="3.15"/>
<circle cx="497.5" cy="255" r="3.15"/>
<circle cx="474" cy="256.5" r="3.15"/>
<circle cx="480.5" cy="257.2" r="3.15"/>
<circle cx="476.1" cy="258.6" r="3.15"/>
<circle cx="475.2" cy="260.3" r="3.15"/>
<circle cx="472.7" cy="261.2" r="3.15"/>
<circle cx="475.5" cy="262.7" r="3.15"/>
<circle cx="493.8" cy="263.9" r="3.15"/>
<circle cx="495.4" cy="265.8" r="3.15"/>
<circle cx="493.3" cy="266.5" r="3.15"/>
<circle cx="496.7" cy="268.2" r="3.15"/>
<circle cx="497.7" cy="269.4" r="3.15"/>
<circle cx="496" cy="270" r="3.15"/>
<circle cx="476.9" cy="277.3" r="3.15"/>
<circle cx="484.9" cy="281.2" r="3.15"/>
<circle cx="473.3" cy="283.3" r="3.15"/>
<circle cx="472.1" cy="287.7" r="3.15"/>
<circle cx="499.8" cy="289.3" r="3.15"/>
<circle cx="498.6" cy="293.4" r="3.15"/>
<circle cx="477.3" cy="297.4" r="3.15"/>
<circle cx="544" cy="146" r="3.15"/>
<circle cx="537" cy="157" r="3.15"/>
<circle cx="541" cy="160" r="3.15"/>
<circle cx="540" cy="206" r="3.15"/>
<circle cx="540" cy="210" r="3.15"/>
<circle cx="538" cy="242" r="3.15"/>
<circle cx="541" cy="254" r="3.15"/>
<circle cx="555.7" cy="162.6" r="3.15"/>
<circle cx="556.7" cy="164.6" r="3.15"/>
<circle cx="555.2" cy="168.6" r="3.15"/>
<circle cx="554.9" cy="172.6" r="3.15"/>
<circle cx="557.7" cy="175" r="3.15"/>
<circle cx="557.7" cy="175.5" r="3.15"/>
<circle cx="553.4" cy="176.1" r="3.15"/>
<circle cx="554.4" cy="176.9" r="3.15"/>
<circle cx="557.2" cy="177.5" r="3.15"/>
<circle cx="554.9" cy="177.5" r="3.15"/>
<circle cx="556.1" cy="178.4" r="3.15"/>
<circle cx="553.5" cy="178.9" r="3.15"/>
<circle cx="553" cy="179.4" r="3.15"/>
<circle cx="555.5" cy="180" r="3.15"/>
<circle cx="557.4" cy="180" r="3.15"/>
<circle cx="555.5" cy="180.6" r="3.15"/>
<circle cx="555.2" cy="181" r="3.15"/>
<circle cx="554.8" cy="181.7" r="3.15"/>
<circle cx="553" cy="182.2" r="3.15"/>
<circle cx="557.5" cy="182.5" r="3.15"/>
<circle cx="557.7" cy="183.2" r="3.15"/>
<circle cx="554.1" cy="184" r="3.15"/>
<circle cx="555.4" cy="184.2" r="3.15"/>
<circle cx="554.9" cy="184.9" r="3.15"/>
<circle cx="553.6" cy="185.1" r="3.15"/>
<circle cx="554.4" cy="185.5" r="3.15"/>
<circle cx="557.2" cy="186.2" r="3.15"/>
<circle cx="556" cy="186.9" r="3.15"/>
<circle cx="555.5" cy="187.1" r="3.15"/>
<circle cx="555.7" cy="187.8" r="3.15"/>
<circle cx="554.5" cy="188.1" r="3.15"/>
<circle cx="554.8" cy="188.9" r="3.15"/>
<circle cx="553.8" cy="189.5" r="3.15"/>
<circle cx="554.2" cy="189.6" r="3.15"/>
<circle cx="553.6" cy="190.2" r="3.15"/>
<circle cx="554.9" cy="190.8" r="3.15"/>
<circle cx="557.5" cy="191.1" r="3.15"/>
<circle cx="557" cy="191.7" r="3.15"/>
<circle cx="555" cy="192.1" r="3.15"/>
<circle cx="557.5" cy="192.7" r="3.15"/>
<circle cx="556.5" cy="193" r="3.15"/>
<circle cx="556.5" cy="193.6" r="3.15"/>
<circle cx="555.3" cy="194.3" r="3.15"/>
<circle cx="553.9" cy="194.8" r="3.15"/>
<circle cx="557.2" cy="195.1" r="3.15"/>
<circle cx="555.3" cy="195.6" r="3.15"/>
<circle cx="553.7" cy="196.2" r="3.15"/>
<circle cx="555.3" cy="196.8" r="3.15"/>
<circle cx="557.3" cy="197.4" r="3.15"/>
<circle cx="554.7" cy="197.7" r="3.15"/>
<circle cx="556.4" cy="198.4" r="3.15"/>
<circle cx="556.4" cy="198.8" r="3.15"/>
<circle cx="553.7" cy="199.4" r="3.15"/>
<circle cx="554.4" cy="199.7" r="3.15"/>
<circle cx="557.4" cy="200.1" r="3.15"/>
<circle cx="557.6" cy="200.6" r="3.15"/>
<circle cx="553.4" cy="201.3" r="3.15"/>
<circle cx="557" cy="201.7" r="3.15"/>
<circle cx="557.2" cy="202.2" r="3.15"/>
<circle cx="557.1" cy="202.6" r="3.15"/>
<circle cx="554.4" cy="203.1" r="3.15"/>
<circle cx="556.7" cy="203.7" r="3.15"/>
<circle cx="556.3" cy="204.1" r="3.15"/>
<circle cx="556.7" cy="205" r="3.15"/>
<circle cx="553.4" cy="205.2" r="3.15"/>
<circle cx="557.3" cy="205.9" r="3.15"/>
<circle cx="557.4" cy="206.1" r="3.15"/>
<circle cx="555.8" cy="206.5" r="3.15"/>
<circle cx="555.2" cy="207.3" r="3.15"/>
<circle cx="554.3" cy="207.7" r="3.15"/>
<circle cx="554.8" cy="208" r="3.15"/>
<circle cx="553.3" cy="208.9" r="3.15"/>
<circle cx="553" cy="209.5" r="3.15"/>
<circle cx="557.5" cy="210" r="3.15"/>
<circle cx="556.9" cy="210" r="3.15"/>
<circle cx="553.6" cy="210.7" r="3.15"/>
<circle cx="553.9" cy="211" r="3.15"/>
<circle cx="557.6" cy="212" r="3.15"/>
<circle cx="556.8" cy="212.1" r="3.15"/>
<circle cx="557.3" cy="212.9" r="3.15"/>
<circle cx="554.6" cy="213.1" r="3.15"/>
<circle cx="553.7" cy="213.7" r="3.15"/>
<circle cx="557.2" cy="214" r="3.15"/>
<circle cx="555.1" cy="214.7" r="3.15"/>
<circle cx="557.5" cy="215.1" r="3.15"/>
<circle cx="556.3" cy="215.7" r="3.15"/>
<circle cx="556.2" cy="216.4" r="3.15"/>
<circle cx="557.1" cy="216.9" r="3.15"/>
<circle cx="554.5" cy="217.1" r="3.15"/>
<circle cx="553.6" cy="217.6" r="3.15"/>
<circle cx="553.6" cy="218.4" r="3.15"/>
<circle cx="553.2" cy="218.6" r="3.15"/>
<circle cx="557" cy="219.4" r="3.15"/>
<circle cx="557.9" cy="219.7" r="3.15"/>
<circle cx="553.2" cy="220.4" r="3.15"/>
<circle cx="554.4" cy="220.9" r="3.15"/>
<circle cx="553.1" cy="221" r="3.15"/>
<circle cx="556" cy="221.8" r="3.15"/>
<circle cx="555.8" cy="222.3" r="3.15"/>
<circle cx="556" cy="222.6" r="3.15"/>
<circle cx="553.3" cy="223.2" r="3.15"/>
<circle cx="555.7" cy="223.6" r="3.15"/>
<circle cx="553.9" cy="224.2" r="3.15"/>
<circle cx="555" cy="224.6" r="3.15"/>
<circle cx="557.6" cy="225.5" r="3.15"/>
<circle cx="553.2" cy="225.7" r="3.15"/>
<circle cx="554.2" cy="226.2" r="3.15"/>
<circle cx="553.1" cy="226.5" r="3.15"/>
<circle cx="553.2" cy="227.1" r="3.15"/>
<circle cx="556.2" cy="227.5" r="3.15"/>
<circle cx="557.4" cy="228.4" r="3.15"/>
<circle cx="554.3" cy="228.8" r="3.15"/>
<circle cx="557.8" cy="229.1" r="3.15"/>
<circle cx="555.8" cy="229.7" r="3.15"/>
<circle cx="554.6" cy="230.1" r="3.15"/>
<circle cx="553.4" cy="230.8" r="3.15"/>
<circle cx="554" cy="231.2" r="3.15"/>
<circle cx="557.6" cy="231.7" r="3.15"/>
<circle cx="554.6" cy="232.5" r="3.15"/>
<circle cx="555.9" cy="232.8" r="3.15"/>
<circle cx="554.1" cy="233.3" r="3.15"/>
<circle cx="554.9" cy="233.8" r="3.15"/>
<circle cx="555" cy="234" r="3.15"/>
<circle cx="557.4" cy="234.8" r="3.15"/>
<circle cx="557.8" cy="235.2" r="3.15"/>
<circle cx="554.4" cy="235.6" r="3.15"/>
<circle cx="554.5" cy="236.2" r="3.15"/>
<circle cx="553.9" cy="236.6" r="3.15"/>
<circle cx="554.5" cy="237.4" r="3.15"/>
<circle cx="555.2" cy="237.9" r="3.15"/>
<circle cx="553.2" cy="238.1" r="3.15"/>
<circle cx="557.8" cy="238.5" r="3.15"/>
<circle cx="553.3" cy="239.3" r="3.15"/>
<circle cx="554.4" cy="239.6" r="3.15"/>
<circle cx="556" cy="240.3" r="3.15"/>
<circle cx="553.9" cy="240.8" r="3.15"/>
<circle cx="555.3" cy="241.4" r="3.15"/>
<circle cx="553.3" cy="241.6" r="3.15"/>
<circle cx="555.8" cy="242" r="3.15"/>
<circle cx="557.2" cy="243" r="3.15"/>
<circle cx="554.6" cy="243.4" r="3.15"/>
<circle cx="554.2" cy="244" r="3.15"/>
<circle cx="554.1" cy="244" r="3.15"/>
<circle cx="553.3" cy="244.7" r="3.15"/>
<circle cx="568.1" cy="124.2" r="3.15"/>
<circle cx="569.9" cy="137.3" r="3.15"/>
<circle cx="568.4" cy="148.4" r="3.15"/>
<circle cx="569.3" cy="150.4" r="3.15"/>
<circle cx="567.7" cy="150.5" r="3.15"/>
<circle cx="567.8" cy="151.3" r="3.15"/>
<circle cx="568.8" cy="152.1" r="3.15"/>
<circle cx="571" cy="152.1" r="3.15"/>
<circle cx="570.4" cy="152.9" r="3.15"/>
<circle cx="570.4" cy="153.3" r="3.15"/>
<circle cx="570.2" cy="153.6" r="3.15"/>
<circle cx="569.1" cy="154.3" r="3.15"/>
<circle cx="568.4" cy="154.8" r="3.15"/>
<circle cx="569" cy="155.5" r="3.15"/>
<circle cx="569.3" cy="156.1" r="3.15"/>
<circle cx="570.4" cy="156.7" r="3.15"/>
<circle cx="569.8" cy="156.9" r="3.15"/>
<circle cx="569.5" cy="157.5" r="3.15"/>
<circle cx="568.3" cy="158" r="3.15"/>
<circle cx="568.3" cy="158.6" r="3.15"/>
<circle cx="567.7" cy="159.1" r="3.15"/>
<circle cx="568.9" cy="159.4" r="3.15"/>
<circle cx="568.5" cy="160.4" r="3.15"/>
<circle cx="569.5" cy="160.4" r="3.15"/>
<circle cx="569.5" cy="161.3" r="3.15"/>
<circle cx="568" cy="161.6" r="3.15"/>
<circle cx="568.2" cy="162.2" r="3.15"/>
<circle cx="570.4" cy="162.6" r="3.15"/>
<circle cx="568" cy="163.1" r="3.15"/>
<circle cx="569.7" cy="163.6" r="3.15"/>
<circle cx="569.3" cy="164.5" r="3.15"/>
<circle cx="570.2" cy="164.9" r="3.15"/>
<circle cx="567.5" cy="165.3" r="3.15"/>
<circle cx="568.4" cy="165.9" r="3.15"/>
<circle cx="568" cy="166.2" r="3.15"/>
<circle cx="570.8" cy="167.1" r="3.15"/>
<circle cx="567.8" cy="167.6" r="3.15"/>
<circle cx="567.7" cy="167.9" r="3.15"/>
<circle cx="571" cy="168.7" r="3.15"/>
<circle cx="569.1" cy="169.1" r="3.15"/>
<circle cx="568.8" cy="169.7" r="3.15"/>
<circle cx="568.6" cy="169.9" r="3.15"/>
<circle cx="568" cy="170.6" r="3.15"/>
<circle cx="569.5" cy="171.3" r="3.15"/>
<circle cx="568" cy="171.7" r="3.15"/>
<circle cx="570.8" cy="172.2" r="3.15"/>
<circle cx="567.9" cy="172.4" r="3.15"/>
<circle cx="567.8" cy="173.1" r="3.15"/>
<circle cx="570.2" cy="173.5" r="3.15"/>
<circle cx="569.1" cy="173.9" r="3.15"/>
<circle cx="569.9" cy="174.5" r="3.15"/>
<circle cx="570.3" cy="175.3" r="3.15"/>
<circle cx="568.2" cy="175.8" r="3.15"/>
<circle cx="568.7" cy="176.3" r="3.15"/>
<circle cx="569.4" cy="176.7" r="3.15"/>
<circle cx="569" cy="177.4" r="3.15"/>
<circle cx="570.5" cy="178" r="3.15"/>
<circle cx="569.5" cy="178.5" r="3.15"/>
<circle cx="568" cy="179.1" r="3.15"/>
<circle cx="567.7" cy="179.6" r="3.15"/>
<circle cx="570.3" cy="179.8" r="3.15"/>
<circle cx="570.3" cy="180.7" r="3.15"/>
<circle cx="568.1" cy="181" r="3.15"/>
<circle cx="567.5" cy="181.5" r="3.15"/>
<circle cx="567.7" cy="182.1" r="3.15"/>
<circle cx="567.6" cy="182.4" r="3.15"/>
<circle cx="570.5" cy="182.9" r="3.15"/>
<circle cx="570.9" cy="183.5" r="3.15"/>
<circle cx="568.1" cy="184.3" r="3.15"/>
<circle cx="568" cy="184.6" r="3.15"/>
<circle cx="570.8" cy="185.3" r="3.15"/>
<circle cx="569.4" cy="185.5" r="3.15"/>
<circle cx="569.3" cy="186" r="3.15"/>
<circle cx="568.6" cy="186.6" r="3.15"/>
<circle cx="568.2" cy="186.9" r="3.15"/>
<circle cx="570.1" cy="187.4" r="3.15"/>
<circle cx="569.5" cy="188.2" r="3.15"/>
<circle cx="569.8" cy="188.8" r="3.15"/>
<circle cx="569.2" cy="189.4" r="3.15"/>
<circle cx="569.5" cy="190" r="3.15"/>
<circle cx="569.5" cy="190.5" r="3.15"/>
<circle cx="570.5" cy="190.9" r="3.15"/>
<circle cx="568.7" cy="191.3" r="3.15"/>
<circle cx="567.8" cy="192" r="3.15"/>
<circle cx="569.8" cy="192.5" r="3.15"/>
<circle cx="567.8" cy="192.7" r="3.15"/>
<circle cx="569.8" cy="193.5" r="3.15"/>
<circle cx="567.8" cy="193.7" r="3.15"/>
<circle cx="568.6" cy="194.4" r="3.15"/>
<circle cx="567.7" cy="194.8" r="3.15"/>
<circle cx="568.2" cy="195.2" r="3.15"/>
<circle cx="568" cy="195.8" r="3.15"/>
<circle cx="568.8" cy="196.7" r="3.15"/>
<circle cx="569.8" cy="197.1" r="3.15"/>
<circle cx="569.1" cy="197.4" r="3.15"/>
<circle cx="567.7" cy="197.9" r="3.15"/>
<circle cx="570.8" cy="198.8" r="3.15"/>
<circle cx="569.5" cy="199.2" r="3.15"/>
<circle cx="570.1" cy="199.8" r="3.15"/>
<circle cx="568.3" cy="200.3" r="3.15"/>
<circle cx="569.8" cy="200.6" r="3.15"/>
<circle cx="568.5" cy="201" r="3.15"/>
<circle cx="569.4" cy="202" r="3.15"/>
<circle cx="570.3" cy="202.1" r="3.15"/>
<circle cx="567.9" cy="202.7" r="3.15"/>
<circle cx="568.1" cy="203.1" r="3.15"/>
<circle cx="570.1" cy="203.7" r="3.15"/>
<circle cx="569.5" cy="204.2" r="3.15"/>
<circle cx="570.9" cy="204.9" r="3.15"/>
<circle cx="568" cy="205.5" r="3.15"/>
<circle cx="568.5" cy="205.9" r="3.15"/>
<circle cx="568.5" cy="206.4" r="3.15"/>
<circle cx="568.6" cy="206.8" r="3.15"/>
<circle cx="568.1" cy="207.7" r="3.15"/>
<circle cx="568.2" cy="207.9" r="3.15"/>
<circle cx="568.9" cy="208.3" r="3.15"/>
<circle cx="568.3" cy="209" r="3.15"/>
<circle cx="569.5" cy="209.6" r="3.15"/>
<circle cx="568.8" cy="210.2" r="3.15"/>
<circle cx="570.1" cy="210.5" r="3.15"/>
<circle cx="568.3" cy="211.2" r="3.15"/>
<circle cx="568.9" cy="211.8" r="3.15"/>
<circle cx="567.5" cy="212.2" r="3.15"/>
<circle cx="568.7" cy="212.5" r="3.15"/>
<circle cx="570.5" cy="213" r="3.15"/>
<circle cx="570.3" cy="213.9" r="3.15"/>
<circle cx="570.9" cy="214" r="3.15"/>
<circle cx="568" cy="214.5" r="3.15"/>
<circle cx="568.6" cy="215.5" r="3.15"/>
<circle cx="569.8" cy="215.6" r="3.15"/>
<circle cx="567.9" cy="216.4" r="3.15"/>
<circle cx="569.7" cy="216.6" r="3.15"/>
<circle cx="569.6" cy="217.2" r="3.15"/>
<circle cx="568.5" cy="217.7" r="3.15"/>
<circle cx="571" cy="218.4" r="3.15"/>
<circle cx="569.7" cy="218.7" r="3.15"/>
<circle cx="568.8" cy="219.5" r="3.15"/>
<circle cx="570.1" cy="220.2" r="3.15"/>
<circle cx="568.4" cy="220.3" r="3.15"/>
<circle cx="568.9" cy="220.9" r="3.15"/>
<circle cx="570.4" cy="221.4" r="3.15"/>
<circle cx="568.8" cy="222" r="3.15"/>
<circle cx="569.5" cy="222.5" r="3.15"/>
<circle cx="567.5" cy="223.2" r="3.15"/>
<circle cx="567.9" cy="223.8" r="3.15"/>
<circle cx="568.4" cy="224" r="3.15"/>
<circle cx="569.4" cy="224.8" r="3.15"/>
<circle cx="568.8" cy="225.1" r="3.15"/>
<circle cx="569" cy="225.5" r="3.15"/>
<circle cx="568.5" cy="226.4" r="3.15"/>
<circle cx="570.8" cy="226.6" r="3.15"/>
<circle cx="570.7" cy="227" r="3.15"/>
<circle cx="570" cy="227.5" r="3.15"/>
<circle cx="578.6" cy="172.7" r="3.15"/>
<circle cx="581.8" cy="174.1" r="3.15"/>
<circle cx="581.7" cy="174.5" r="3.15"/>
<circle cx="582.3" cy="176.8" r="3.15"/>
<circle cx="580" cy="178" r="3.15"/>
<circle cx="578.4" cy="178.6" r="3.15"/>
<circle cx="578.3" cy="180.2" r="3.15"/>
<circle cx="582.1" cy="181.7" r="3.15"/>
<circle cx="577.9" cy="182.7" r="3.15"/>
<circle cx="580.3" cy="183.3" r="3.15"/>
<circle cx="582" cy="184.9" r="3.15"/>
<circle cx="577.7" cy="185.9" r="3.15"/>
<circle cx="580.9" cy="187.7" r="3.15"/>
<circle cx="578.5" cy="188.7" r="3.15"/>
<circle cx="577.9" cy="190.3" r="3.15"/>
<circle cx="577.5" cy="191.6" r="3.15"/>
<circle cx="580.3" cy="192.5" r="3.15"/>
<circle cx="580.8" cy="193.4" r="3.15"/>
<circle cx="579.7" cy="194.3" r="3.15"/>
<circle cx="578.9" cy="195.4" r="3.15"/>
<circle cx="578.8" cy="197.3" r="3.15"/>
<circle cx="580.3" cy="198.4" r="3.15"/>
<circle cx="580.1" cy="200.1" r="3.15"/>
<circle cx="581.8" cy="200.5" r="3.15"/>
<circle cx="580.3" cy="202.6" r="3.15"/>
<circle cx="578.8" cy="203.5" r="3.15"/>
<circle cx="580.7" cy="204.7" r="3.15"/>
<circle cx="580.3" cy="206" r="3.15"/>
<circle cx="579.4" cy="207.4" r="3.15"/>
<circle cx="580.3" cy="207.9" r="3.15"/>
<circle cx="580.7" cy="209.6" r="3.15"/>
<circle cx="582.1" cy="210.8" r="3.15"/>
<circle cx="580.1" cy="211.6" r="3.15"/>
<circle cx="579.6" cy="212.8" r="3.15"/>
<circle cx="580.6" cy="214.7" r="3.15"/>
<circle cx="580.5" cy="215.1" r="3.15"/>
<circle cx="577.7" cy="217.2" r="3.15"/>
<circle cx="579" cy="218.2" r="3.15"/>
<circle cx="582.2" cy="219.7" r="3.15"/>
<circle cx="580.3" cy="220.9" r="3.15"/>
<circle cx="579.5" cy="222.2" r="3.15"/>
<circle cx="580.9" cy="222.3" r="3.15"/>
<circle cx="581.6" cy="223.6" r="3.15"/>
<circle cx="582.5" cy="224.7" r="3.15"/>
<circle cx="581.3" cy="226.1" r="3.15"/>
<circle cx="580.2" cy="227.6" r="3.15"/>
<circle cx="581.9" cy="228.7" r="3.15"/>
<circle cx="581.1" cy="230.7" r="3.15"/>
<circle cx="577.8" cy="231.7" r="3.15"/>
<circle cx="577.9" cy="233" r="3.15"/>
<circle cx="581.8" cy="233.4" r="3.15"/>
<circle cx="581.9" cy="235" r="3.15"/>
<circle cx="579" cy="236.9" r="3.15"/>
<circle cx="579.4" cy="237.2" r="3.15"/>
<circle cx="579.1" cy="239.3" r="3.15"/>
<circle cx="582.4" cy="239.9" r="3.15"/>
<circle cx="580" cy="241.3" r="3.15"/>
<circle cx="581.7" cy="241.8" r="3.15"/>
<circle cx="581.5" cy="244.2" r="3.15"/>
<circle cx="579.5" cy="244.8" r="3.15"/>
<circle cx="582.3" cy="246" r="3.15"/>
<circle cx="579.4" cy="247.8" r="3.15"/>
<circle cx="579.9" cy="248.7" r="3.15"/>
<circle cx="578.9" cy="250" r="3.15"/>
<circle cx="579.3" cy="251.4" r="3.15"/>
<circle cx="580" cy="252.8" r="3.15"/>
<circle cx="580.2" cy="253.9" r="3.15"/>
<circle cx="579.7" cy="254.9" r="3.15"/>
<circle cx="578.8" cy="256" r="3.15"/>
<circle cx="580.8" cy="256.8" r="3.15"/>
<circle cx="580.2" cy="258.9" r="3.15"/>
<circle cx="578.5" cy="259.6" r="3.15"/>
<circle cx="581.7" cy="260.7" r="3.15"/>
<circle cx="577.6" cy="262.1" r="3.15"/>
<circle cx="579.8" cy="263.8" r="3.15"/>
<circle cx="580.8" cy="264.8" r="3.15"/>
<circle cx="579.3" cy="266.2" r="3.15"/>
<circle cx="581.6" cy="266.4" r="3.15"/>
<circle cx="580.8" cy="268.7" r="3.15"/>
<circle cx="580.8" cy="270" r="3.15"/>
<circle cx="586.7" cy="171.1" r="3.15"/>
<circle cx="588.2" cy="173.5" r="3.15"/>
<circle cx="586.5" cy="176" r="3.15"/>
<circle cx="586.3" cy="177.7" r="3.15"/>
<circle cx="586.4" cy="181.3" r="3.15"/>
<circle cx="587" cy="182.9" r="3.15"/>
<circle cx="588.2" cy="186.5" r="3.15"/>
<circle cx="588.5" cy="187.9" r="3.15"/>
<circle cx="587.9" cy="190.7" r="3.15"/>
<circle cx="587.5" cy="193.6" r="3.15"/>
<circle cx="587.7" cy="195.3" r="3.15"/>
<circle cx="588.8" cy="195.9" r="3.15"/>
<circle cx="587.1" cy="196.5" r="3.15"/>
<circle cx="586.5" cy="197" r="3.15"/>
<circle cx="587.7" cy="197.3" r="3.15"/>
<circle cx="588.3" cy="197.8" r="3.15"/>
<circle cx="586.1" cy="198.4" r="3.15"/>
<circle cx="587.5" cy="199.1" r="3.15"/>
<circle cx="586.9" cy="199.6" r="3.15"/>
<circle cx="588.9" cy="200.4" r="3.15"/>
<circle cx="588.2" cy="200.5" r="3.15"/>
<circle cx="587.4" cy="201.4" r="3.15"/>
<circle cx="588.7" cy="202" r="3.15"/>
<circle cx="587.2" cy="202.2" r="3.15"/>
<circle cx="587" cy="203" r="3.15"/>
<circle cx="588.9" cy="203.4" r="3.15"/>
<circle cx="587.3" cy="204" r="3.15"/>
<circle cx="587.3" cy="204.5" r="3.15"/>
<circle cx="586.6" cy="204.7" r="3.15"/>
<circle cx="587.2" cy="205.4" r="3.15"/>
<circle cx="586.5" cy="206.3" r="3.15"/>
<circle cx="588.1" cy="206.5" r="3.15"/>
<circle cx="589" cy="206.9" r="3.15"/>
<circle cx="587" cy="207.9" r="3.15"/>
<circle cx="588.9" cy="208.3" r="3.15"/>
<circle cx="586.6" cy="208.8" r="3.15"/>
<circle cx="586.2" cy="209" r="3.15"/>
<circle cx="588.6" cy="209.5" r="3.15"/>
<circle cx="586.3" cy="210.1" r="3.15"/>
<circle cx="588.1" cy="211" r="3.15"/>
<circle cx="586.6" cy="211.4" r="3.15"/>
<circle cx="588.9" cy="211.8" r="3.15"/>
<circle cx="586.2" cy="212.6" r="3.15"/>
<circle cx="586.3" cy="213.1" r="3.15"/>
<circle cx="586.8" cy="213.3" r="3.15"/>
<circle cx="588" cy="214.3" r="3.15"/>
<circle cx="586.9" cy="214.5" r="3.15"/>
<circle cx="588.9" cy="215.1" r="3.15"/>
<circle cx="586.7" cy="215.7" r="3.15"/>
<circle cx="586.7" cy="216.1" r="3.15"/>
<circle cx="588.8" cy="216.6" r="3.15"/>
<circle cx="588.5" cy="217.4" r="3.15"/>
<circle cx="586.1" cy="217.7" r="3.15"/>
<circle cx="588" cy="218.5" r="3.15"/>
<circle cx="586.7" cy="218.8" r="3.15"/>
<circle cx="588.8" cy="219.6" r="3.15"/>
<circle cx="588" cy="220.3" r="3.15"/>
<circle cx="586.7" cy="220.5" r="3.15"/>
<circle cx="588.5" cy="221.1" r="3.15"/>
<circle cx="587.3" cy="221.8" r="3.15"/>
<circle cx="589" cy="222.4" r="3.15"/>
<circle cx="588.3" cy="222.7" r="3.15"/>
<circle cx="588.1" cy="223.1" r="3.15"/>
<circle cx="586.8" cy="223.6" r="3.15"/>
<circle cx="588" cy="224.6" r="3.15"/>
<circle cx="588.3" cy="224.8" r="3.15"/>
<circle cx="588" cy="225.3" r="3.15"/>
<circle cx="588.5" cy="226" r="3.15"/>
<circle cx="586.7" cy="226.4" r="3.15"/>
<circle cx="586.3" cy="227" r="3.15"/>
<circle cx="587" cy="227.6" r="3.15"/>
<circle cx="588" cy="228.3" r="3.15"/>
<circle cx="588.5" cy="228.7" r="3.15"/>
<circle cx="587.1" cy="229" r="3.15"/>
<circle cx="587.8" cy="229.5" r="3.15"/>
<circle cx="586.2" cy="230.3" r="3.15"/>
<circle cx="586.5" cy="231" r="3.15"/>
<circle cx="588" cy="231.4" r="3.15"/>
<circle cx="588.8" cy="231.7" r="3.15"/>
<circle cx="586.9" cy="232.4" r="3.15"/>
<circle cx="588.9" cy="232.7" r="3.15"/>
<circle cx="587.8" cy="233.7" r="3.15"/>
<circle cx="586.4" cy="234.1" r="3.15"/>
<circle cx="588.1" cy="234.5" r="3.15"/>
<circle cx="587.6" cy="235.3" r="3.15"/>
<circle cx="587.4" cy="235.6" r="3.15"/>
<circle cx="587.7" cy="235.9" r="3.15"/>
<circle cx="588.4" cy="236.5" r="3.15"/>
<circle cx="588.9" cy="237.5" r="3.15"/>
<circle cx="588.5" cy="238" r="3.15"/>
<circle cx="587.8" cy="238.2" r="3.15"/>
<circle cx="587.8" cy="239" r="3.15"/>
<circle cx="586.4" cy="239.6" r="3.15"/>
<circle cx="586.9" cy="240" r="3.15"/>
<circle cx="586.8" cy="240.4" r="3.15"/>
<circle cx="588.6" cy="241.2" r="3.15"/>
<circle cx="586.2" cy="241.7" r="3.15"/>
<circle cx="588.8" cy="242.2" r="3.15"/>
<circle cx="588.1" cy="242.5" r="3.15"/>
<circle cx="588.1" cy="243.1" r="3.15"/>
<circle cx="588.8" cy="243.8" r="3.15"/>
<circle cx="587" cy="244.5" r="3.15"/>
<circle cx="588.3" cy="244.6" r="3.15"/>
<circle cx="586.6" cy="245.1" r="3.15"/>
<circle cx="588.3" cy="245.7" r="3.15"/>
<circle cx="586.8" cy="246.6" r="3.15"/>
<circle cx="586.9" cy="246.8" r="3.15"/>
<circle cx="586.2" cy="247.3" r="3.15"/>
<circle cx="587.7" cy="247.8" r="3.15"/>
<circle cx="588.9" cy="248.3" r="3.15"/>
<circle cx="586.9" cy="248.9" r="3.15"/>
<circle cx="588.7" cy="249.8" r="3.15"/>
<circle cx="586.3" cy="250" r="3.15"/>
<circle cx="586.2" cy="250.9" r="3.15"/>
<circle cx="588.2" cy="251.3" r="3.15"/>
<circle cx="587.5" cy="251.8" r="3.15"/>
<circle cx="587.8" cy="252.1" r="3.15"/>
<circle cx="588.4" cy="253" r="3.15"/>
<circle cx="588" cy="253.3" r="3.15"/>
<circle cx="586.6" cy="254.2" r="3.15"/>
<circle cx="588.8" cy="254.6" r="3.15"/>
<circle cx="588.4" cy="255" r="3.15"/>
<circle cx="588.6" cy="255.7" r="3.15"/>
<circle cx="587.3" cy="256.2" r="3.15"/>
<circle cx="586.2" cy="256.6" r="3.15"/>
<circle cx="588.5" cy="257.2" r="3.15"/>
<circle cx="587.7" cy="257.8" r="3.15"/>
<circle cx="588.8" cy="258.1" r="3.15"/>
<circle cx="588" cy="258.8" r="3.15"/>
<circle cx="586.7" cy="259.1" r="3.15"/>
<circle cx="587.8" cy="259.7" r="3.15"/>
<circle cx="587.7" cy="260.4" r="3.15"/>
<circle cx="587.2" cy="261.2" r="3.15"/>
<circle cx="586.3" cy="261.5" r="3.15"/>
<circle cx="587.2" cy="261.9" r="3.15"/>
<circle cx="587.2" cy="262.8" r="3.15"/>
<circle cx="586.6" cy="263.2" r="3.15"/>
<circle cx="586.8" cy="263.7" r="3.15"/>
<circle cx="587.7" cy="264" r="3.15"/>
<circle cx="588.4" cy="264.7" r="3.15"/>
</g>
<g fill="none" stroke="rgba(255,165,0,0.5)" stroke-width="0.95">
<circle cx="85" cy="133.5" r="3.15"/>
<circle cx="85" cy="178.9" r="3.15"/>
<circle cx="85" cy="182" r="3.15"/>
<circle cx="85" cy="197.1" r="3.15"/>
<circle cx="85" cy="200.9" r="3.15"/>
<circle cx="85" cy="204" r="3.15"/>
<circle cx="85" cy="207.8" r="3.15"/>
<circle cx="85" cy="228.2" r="3.15"/>
<circle cx="85" cy="234.5" r="3.15"/>
<circle cx="100" cy="147.1" r="3.15"/>
<circle cx="100" cy="149" r="3.15"/>
<circle cx="100" cy="157.2" r="3.15"/>
<circle cx="100" cy="160" r="3.15"/>
<circle cx="100" cy="175.1" r="3.15"/>
<circle cx="112" cy="218.5" r="3.15"/>
<circle cx="210" cy="126" r="3.15"/>
<circle cx="210" cy="131" r="3.15"/>
<circle cx="205" cy="152" r="3.15"/>
<circle cx="218" cy="157" r="3.15"/>
<circle cx="217" cy="165" r="3.15"/>
<circle cx="218" cy="170" r="3.15"/>
<circle cx="215" cy="172" r="3.15"/>
<circle cx="195" cy="176" r="3.15"/>
<circle cx="202" cy="178" r="3.15"/>
<circle cx="235.5" cy="171" r="3.15"/>
<circle cx="235" cy="174" r="3.15"/>
<circle cx="235" cy="176" r="3.15"/>
<circle cx="210" cy="183" r="3.15"/>
<circle cx="217" cy="189" r="3.15"/>
<circle cx="213" cy="198" r="3.15"/>
<circle cx="218" cy="200" r="3.15"/>
<circle cx="212" cy="203" r="3.15"/>
<circle cx="210" cy="212" r="3.15"/>
<circle cx="199" cy="214" r="3.15"/>
<circle cx="218" cy="222" r="3.15"/>
<circle cx="213" cy="230" r="3.15"/>
<circle cx="201" cy="233" r="3.15"/>
<circle cx="210" cy="240" r="3.15"/>
<circle cx="217" cy="241" r="3.15"/>
<circle cx="212" cy="243" r="3.15"/>
<circle cx="348.3" cy="179.2" r="3.15"/>
<circle cx="347.7" cy="183.6" r="3.15"/>
<circle cx="347.3" cy="184.4" r="3.15"/>
<circle cx="347.4" cy="188.8" r="3.15"/>
<circle cx="341.9" cy="194.2" r="3.15"/>
<circle cx="341.5" cy="198.1" r="3.15"/>
<circle cx="341.8" cy="205.6" r="3.15"/>
<circle cx="347.5" cy="208.5" r="3.15"/>
<circle cx="348" cy="215.4" r="3.15"/>
<circle cx="347.4" cy="219" r="3.15"/>
<circle cx="341.7" cy="221" r="3.15"/>
<circle cx="341.7" cy="229.8" r="3.15"/>
<circle cx="347" cy="231.5" r="3.15"/>
<circle cx="348" cy="234.9" r="3.15"/>
<circle cx="341.7" cy="240.1" r="3.15"/>
<circle cx="346.5" cy="246.6" r="3.15"/>
<circle cx="341.2" cy="251.4" r="3.15"/>
<circle cx="340.9" cy="254.4" r="3.15"/>
<circle cx="340.8" cy="256.7" r="3.15"/>
<circle cx="347.9" cy="263.4" r="3.15"/>
<circle cx="347.1" cy="266.4" r="3.15"/>
<circle cx="347.1" cy="273.2" r="3.15"/>
<circle cx="340.9" cy="273.9" r="3.15"/>
<circle cx="347.8" cy="279.1" r="3.15"/>
<circle cx="341.7" cy="284.2" r="3.15"/>
<circle cx="347.6" cy="288.9" r="3.15"/>
<circle cx="348" cy="292.9" r="3.15"/>
<circle cx="347.6" cy="298.5" r="3.15"/>
<circle cx="347.6" cy="302.8" r="3.15"/>
<circle cx="347.3" cy="309.1" r="3.15"/>
<circle cx="347.3" cy="318.4" r="3.15"/>
<circle cx="342" cy="328.1" r="3.15"/>
<circle cx="362.7" cy="177.3" r="3.15"/>
<circle cx="362.2" cy="180" r="3.15"/>
<circle cx="362.1" cy="186.6" r="3.15"/>
<circle cx="366.3" cy="190.9" r="3.15"/>
<circle cx="362.2" cy="195.8" r="3.15"/>
<circle cx="366.8" cy="200.3" r="3.15"/>
<circle cx="367.3" cy="203.8" r="3.15"/>
<circle cx="363.2" cy="210.8" r="3.15"/>
<circle cx="366.2" cy="215.5" r="3.15"/>
<circle cx="367.7" cy="218.9" r="3.15"/>
<circle cx="362.3" cy="222.6" r="3.15"/>
<circle cx="362.5" cy="227.8" r="3.15"/>
<circle cx="362.7" cy="232.9" r="3.15"/>
<circle cx="367" cy="238.3" r="3.15"/>
<circle cx="363.6" cy="241.7" r="3.15"/>
<circle cx="362.3" cy="247.5" r="3.15"/>
<circle cx="362.3" cy="256.6" r="3.15"/>
<circle cx="362.2" cy="259.2" r="3.15"/>
<circle cx="362.8" cy="268.6" r="3.15"/>
<circle cx="362.3" cy="275.5" r="3.15"/>
<circle cx="362.4" cy="280.6" r="3.15"/>
<circle cx="367" cy="284.1" r="3.15"/>
<circle cx="362" cy="290.9" r="3.15"/>
<circle cx="362.6" cy="296.6" r="3.15"/>
<circle cx="479.4" cy="205.3" r="3.15"/>
<circle cx="475.4" cy="208.1" r="3.15"/>
<circle cx="475.2" cy="209.8" r="3.15"/>
<circle cx="478.3" cy="210.3" r="3.15"/>
<circle cx="498.3" cy="212.8" r="3.15"/>
<circle cx="473.2" cy="214.2" r="3.15"/>
<circle cx="495.2" cy="214.8" r="3.15"/>
<circle cx="480.3" cy="216.4" r="3.15"/>
<circle cx="472" cy="219.4" r="3.15"/>
<circle cx="477.9" cy="220.8" r="3.15"/>
<circle cx="478.3" cy="222" r="3.15"/>
<circle cx="474.1" cy="222.9" r="3.15"/>
<circle cx="484.8" cy="224.9" r="3.15"/>
<circle cx="495.5" cy="226.3" r="3.15"/>
<circle cx="485.6" cy="227.8" r="3.15"/>
<circle cx="477.1" cy="229.8" r="3.15"/>
<circle cx="498.6" cy="231.8" r="3.15"/>
<circle cx="493.2" cy="233" r="3.15"/>
<circle cx="496.6" cy="234.5" r="3.15"/>
<circle cx="478.3" cy="236.9" r="3.15"/>
<circle cx="471.4" cy="238.2" r="3.15"/>
<circle cx="471.8" cy="240.2" r="3.15"/>
<circle cx="471.9" cy="242.2" r="3.15"/>
<circle cx="479.8" cy="243.4" r="3.15"/>
<circle cx="485.3" cy="245.1" r="3.15"/>
<circle cx="473.6" cy="247" r="3.15"/>
<circle cx="474.9" cy="248.5" r="3.15"/>
<circle cx="474.7" cy="250.4" r="3.15"/>
<circle cx="473.4" cy="251.9" r="3.15"/>
<circle cx="474.3" cy="253.6" r="3.15"/>
<circle cx="481" cy="255.1" r="3.15"/>
<circle cx="494.6" cy="255.7" r="3.15"/>
<circle cx="498.8" cy="257.4" r="3.15"/>
<circle cx="473.4" cy="258.8" r="3.15"/>
<circle cx="476" cy="261.3" r="3.15"/>
<circle cx="472.9" cy="262.1" r="3.15"/>
<circle cx="472.9" cy="265" r="3.15"/>
<circle cx="472.4" cy="266.2" r="3.15"/>
<circle cx="498.6" cy="267.8" r="3.15"/>
<circle cx="475" cy="268.9" r="3.15"/>
<circle cx="498.6" cy="270.6" r="3.15"/>
<circle cx="497.6" cy="272" r="3.15"/>
<circle cx="473.4" cy="272.7" r="3.15"/>
<circle cx="498.6" cy="274.7" r="3.15"/>
<circle cx="498.6" cy="275.3" r="3.15"/>
<circle cx="494.2" cy="276.8" r="3.15"/>
<circle cx="480.7" cy="278.3" r="3.15"/>
<circle cx="478.7" cy="279.4" r="3.15"/>
<circle cx="476.7" cy="280.1" r="3.15"/>
<circle cx="486.7" cy="281.7" r="3.15"/>
<circle cx="476.5" cy="282.7" r="3.15"/>
<circle cx="472.3" cy="283.6" r="3.15"/>
<circle cx="473.4" cy="285.2" r="3.15"/>
<circle cx="496.2" cy="286.4" r="3.15"/>
<circle cx="497.7" cy="287.6" r="3.15"/>
<circle cx="479.7" cy="288.2" r="3.15"/>
<circle cx="476.1" cy="289.9" r="3.15"/>
<circle cx="495.1" cy="291.5" r="3.15"/>
<circle cx="486.5" cy="292.2" r="3.15"/>
<circle cx="471.1" cy="293.6" r="3.15"/>
<circle cx="475.4" cy="294.4" r="3.15"/>
<circle cx="475.7" cy="295.5" r="3.15"/>
<circle cx="494.3" cy="297.6" r="3.15"/>
<circle cx="495.7" cy="298.5" r="3.15"/>
<circle cx="485.4" cy="299.8" r="3.15"/>
<circle cx="494.4" cy="301.1" r="3.15"/>
<circle cx="471.1" cy="301.8" r="3.15"/>
<circle cx="475.2" cy="303" r="3.15"/>
<circle cx="480.1" cy="304.7" r="3.15"/>
<circle cx="473.9" cy="305.6" r="3.15"/>
<circle cx="475" cy="306.9" r="3.15"/>
<circle cx="478.7" cy="308.1" r="3.15"/>
<circle cx="473.5" cy="309" r="3.15"/>
<circle cx="479.2" cy="310.3" r="3.15"/>
<circle cx="479.1" cy="311.5" r="3.15"/>
<circle cx="475.1" cy="312.6" r="3.15"/>
<circle cx="495.2" cy="313.7" r="3.15"/>
<circle cx="496" cy="315.4" r="3.15"/>
<circle cx="474.9" cy="315.8" r="3.15"/>
<circle cx="496.9" cy="317.1" r="3.15"/>
<circle cx="475.2" cy="318.1" r="3.15"/>
<circle cx="478.3" cy="319.6" r="3.15"/>
<circle cx="474.6" cy="320.6" r="3.15"/>
<circle cx="493.7" cy="322.5" r="3.15"/>
<circle cx="478.3" cy="323.7" r="3.15"/>
<circle cx="478.6" cy="325.1" r="3.15"/>
<circle cx="477.4" cy="325.6" r="3.15"/>
<circle cx="478.4" cy="327.4" r="3.15"/>
<circle cx="472.1" cy="328" r="3.15"/>
<circle cx="485.1" cy="330" r="3.15"/>
<circle cx="499.4" cy="331.5" r="3.15"/>
<circle cx="499.7" cy="332.6" r="3.15"/>
<circle cx="472.9" cy="337" r="3.15"/>
<circle cx="478.4" cy="338.3" r="3.15"/>
<circle cx="486" cy="342.3" r="3.15"/>
<circle cx="496.1" cy="344.2" r="3.15"/>
<circle cx="472" cy="346.8" r="3.15"/>
<circle cx="498.2" cy="348.8" r="3.15"/>
<circle cx="486.2" cy="351.4" r="3.15"/>
<circle cx="479.5" cy="353.4" r="3.15"/>
<circle cx="498.6" cy="357" r="3.15"/>
<circle cx="499.9" cy="360" r="3.15"/>
<circle cx="540" cy="225" r="3.15"/>
<circle cx="537" cy="232" r="3.15"/>
<circle cx="541" cy="235" r="3.15"/>
<circle cx="540" cy="238" r="3.15"/>
<circle cx="539" cy="278" r="3.15"/>
<circle cx="539" cy="302" r="3.15"/>
<circle cx="542" cy="318" r="3.15"/>
<circle cx="553.2" cy="238.6" r="3.15"/>
<circle cx="556.2" cy="238.9" r="3.15"/>
<circle cx="556.1" cy="239.4" r="3.15"/>
<circle cx="557.4" cy="240.1" r="3.15"/>
<circle cx="555.2" cy="240.4" r="3.15"/>
<circle cx="553.7" cy="241" r="3.15"/>
<circle cx="554.8" cy="241.4" r="3.15"/>
<circle cx="557.6" cy="242.1" r="3.15"/>
<circle cx="555.7" cy="242.5" r="3.15"/>
<circle cx="555.8" cy="243.4" r="3.15"/>
<circle cx="553.4" cy="244.2" r="3.15"/>
<circle cx="553.8" cy="244.3" r="3.15"/>
<circle cx="556.7" cy="245" r="3.15"/>
<circle cx="557.4" cy="245.5" r="3.15"/>
<circle cx="554.6" cy="246.3" r="3.15"/>
<circle cx="557.3" cy="247" r="3.15"/>
<circle cx="554.4" cy="247.3" r="3.15"/>
<circle cx="555.1" cy="248" r="3.15"/>
<circle cx="554.1" cy="248.6" r="3.15"/>
<circle cx="556.6" cy="248.8" r="3.15"/>
<circle cx="554.6" cy="249.5" r="3.15"/>
<circle cx="557.7" cy="250.1" r="3.15"/>
<circle cx="556.1" cy="250.9" r="3.15"/>
<circle cx="555" cy="251.5" r="3.15"/>
<circle cx="554.5" cy="251.5" r="3.15"/>
<circle cx="553.5" cy="252.5" r="3.15"/>
<circle cx="554.9" cy="253.1" r="3.15"/>
<circle cx="555.7" cy="253.6" r="3.15"/>
<circle cx="554.8" cy="254.1" r="3.15"/>
<circle cx="556.5" cy="254.6" r="3.15"/>
<circle cx="555.5" cy="255.4" r="3.15"/>
<circle cx="557.6" cy="255.7" r="3.15"/>
<circle cx="553.3" cy="256.5" r="3.15"/>
<circle cx="555.2" cy="257.1" r="3.15"/>
<circle cx="556.8" cy="257.4" r="3.15"/>
<circle cx="557.3" cy="258" r="3.15"/>
<circle cx="556.6" cy="258.8" r="3.15"/>
<circle cx="555.9" cy="259.4" r="3.15"/>
<circle cx="555" cy="259.6" r="3.15"/>
<circle cx="556.2" cy="260.2" r="3.15"/>
<circle cx="556.5" cy="260.8" r="3.15"/>
<circle cx="556.7" cy="261.6" r="3.15"/>
<circle cx="555.8" cy="262.2" r="3.15"/>
<circle cx="556.9" cy="262.7" r="3.15"/>
<circle cx="553.1" cy="262.8" r="3.15"/>
<circle cx="556.2" cy="263.6" r="3.15"/>
<circle cx="557.4" cy="264.1" r="3.15"/>
<circle cx="556.7" cy="264.6" r="3.15"/>
<circle cx="556.1" cy="265.6" r="3.15"/>
<circle cx="557.3" cy="265.8" r="3.15"/>
<circle cx="555.4" cy="266.5" r="3.15"/>
<circle cx="554.7" cy="267" r="3.15"/>
<circle cx="557.8" cy="267.8" r="3.15"/>
<circle cx="554.6" cy="268.3" r="3.15"/>
<circle cx="557.7" cy="268.6" r="3.15"/>
<circle cx="557.2" cy="269.4" r="3.15"/>
<circle cx="557.4" cy="269.6" r="3.15"/>
<circle cx="557.6" cy="270.7" r="3.15"/>
<circle cx="554.2" cy="271" r="3.15"/>
<circle cx="553.5" cy="271.6" r="3.15"/>
<circle cx="556.5" cy="272.2" r="3.15"/>
<circle cx="557.3" cy="272.5" r="3.15"/>
<circle cx="553.6" cy="273.4" r="3.15"/>
<circle cx="553.1" cy="273.6" r="3.15"/>
<circle cx="554.2" cy="274.5" r="3.15"/>
<circle cx="555.2" cy="275.1" r="3.15"/>
<circle cx="556.3" cy="275.7" r="3.15"/>
<circle cx="556.9" cy="276.3" r="3.15"/>
<circle cx="554.4" cy="276.5" r="3.15"/>
<circle cx="556.1" cy="277.2" r="3.15"/>
<circle cx="556.9" cy="277.9" r="3.15"/>
<circle cx="554.5" cy="278.1" r="3.15"/>
<circle cx="556.7" cy="279" r="3.15"/>
<circle cx="554.4" cy="279.2" r="3.15"/>
<circle cx="553.1" cy="279.8" r="3.15"/>
<circle cx="554.4" cy="280.4" r="3.15"/>
<circle cx="553.3" cy="280.9" r="3.15"/>
<circle cx="554.7" cy="281.5" r="3.15"/>
<circle cx="554" cy="282.2" r="3.15"/>
<circle cx="557.2" cy="283" r="3.15"/>
<circle cx="555" cy="283.2" r="3.15"/>
<circle cx="554.3" cy="284" r="3.15"/>
<circle cx="555" cy="284.5" r="3.15"/>
<circle cx="556.7" cy="285.2" r="3.15"/>
<circle cx="557.3" cy="285.4" r="3.15"/>
<circle cx="554.5" cy="285.9" r="3.15"/>
<circle cx="555.6" cy="286.8" r="3.15"/>
<circle cx="554.3" cy="287.1" r="3.15"/>
<circle cx="555.3" cy="287.7" r="3.15"/>
<circle cx="554" cy="288.4" r="3.15"/>
<circle cx="557.7" cy="288.9" r="3.15"/>
<circle cx="556.5" cy="289.5" r="3.15"/>
<circle cx="555" cy="289.9" r="3.15"/>
<circle cx="553.9" cy="290.9" r="3.15"/>
<circle cx="555.1" cy="291.1" r="3.15"/>
<circle cx="557.9" cy="292" r="3.15"/>
<circle cx="554.3" cy="292.4" r="3.15"/>
<circle cx="555.8" cy="292.8" r="3.15"/>
<circle cx="555.1" cy="293.4" r="3.15"/>
<circle cx="557.1" cy="293.9" r="3.15"/>
<circle cx="558" cy="294.5" r="3.15"/>
<circle cx="554.7" cy="295" r="3.15"/>
<circle cx="557.6" cy="296" r="3.15"/>
<circle cx="553.3" cy="296.4" r="3.15"/>
<circle cx="555" cy="297" r="3.15"/>
<circle cx="554.7" cy="297.7" r="3.15"/>
<circle cx="554.1" cy="298.2" r="3.15"/>
<circle cx="554.3" cy="298.7" r="3.15"/>
<circle cx="555.1" cy="299.2" r="3.15"/>
<circle cx="555.6" cy="299.8" r="3.15"/>
<circle cx="553.3" cy="300" r="3.15"/>
<circle cx="557.9" cy="301" r="3.15"/>
<circle cx="554.8" cy="301.7" r="3.15"/>
<circle cx="556.2" cy="303.1" r="3.15"/>
<circle cx="555" cy="303.4" r="3.15"/>
<circle cx="554.7" cy="303.9" r="3.15"/>
<circle cx="553.4" cy="304.7" r="3.15"/>
<circle cx="554.6" cy="306.2" r="3.15"/>
<circle cx="553.7" cy="306.6" r="3.15"/>
<circle cx="554" cy="307" r="3.15"/>
<circle cx="557.2" cy="307.9" r="3.15"/>
<circle cx="553.7" cy="309.2" r="3.15"/>
<circle cx="554.2" cy="309.5" r="3.15"/>
<circle cx="557.7" cy="310.3" r="3.15"/>
<circle cx="557.2" cy="311.1" r="3.15"/>
<circle cx="555.8" cy="311.9" r="3.15"/>
<circle cx="554.7" cy="313.2" r="3.15"/>
<circle cx="557.5" cy="313.4" r="3.15"/>
<circle cx="556.6" cy="314.1" r="3.15"/>
<circle cx="554.5" cy="314.8" r="3.15"/>
<circle cx="556.2" cy="316.1" r="3.15"/>
<circle cx="556.7" cy="316.9" r="3.15"/>
<circle cx="555" cy="317.2" r="3.15"/>
<circle cx="553" cy="318.2" r="3.15"/>
<circle cx="557.7" cy="319" r="3.15"/>
<circle cx="556.1" cy="320.2" r="3.15"/>
<circle cx="557.3" cy="320.8" r="3.15"/>
<circle cx="556" cy="321.2" r="3.15"/>
<circle cx="556.7" cy="322.1" r="3.15"/>
<circle cx="556.5" cy="322.7" r="3.15"/>
<circle cx="557.7" cy="323.5" r="3.15"/>
<circle cx="557" cy="324.8" r="3.15"/>
<circle cx="553.8" cy="325.6" r="3.15"/>
<circle cx="556.2" cy="326.1" r="3.15"/>
<circle cx="554.3" cy="326.7" r="3.15"/>
<circle cx="554.2" cy="327.6" r="3.15"/>
<circle cx="556.2" cy="328.6" r="3.15"/>
<circle cx="556.5" cy="329" r="3.15"/>
<circle cx="554.7" cy="330.1" r="3.15"/>
<circle cx="557.9" cy="330.5" r="3.15"/>
<circle cx="555.1" cy="331.3" r="3.15"/>
<circle cx="557.9" cy="331.9" r="3.15"/>
<circle cx="557.5" cy="333.3" r="3.15"/>
<circle cx="554.7" cy="334" r="3.15"/>
<circle cx="554.8" cy="334.7" r="3.15"/>
<circle cx="555.1" cy="337.1" r="3.15"/>
<circle cx="555.3" cy="339.2" r="3.15"/>
<circle cx="555.9" cy="340.5" r="3.15"/>
<circle cx="557.8" cy="342.5" r="3.15"/>
<circle cx="557.5" cy="346.6" r="3.15"/>
<circle cx="557.2" cy="348.1" r="3.15"/>
<circle cx="556.1" cy="351.2" r="3.15"/>
<circle cx="555.2" cy="353.3" r="3.15"/>
<circle cx="556.9" cy="355.7" r="3.15"/>
<circle cx="555.2" cy="357.5" r="3.15"/>
<circle cx="553.5" cy="358.5" r="3.15"/>
<circle cx="553.5" cy="362.4" r="3.15"/>
<circle cx="554.8" cy="365.1" r="3.15"/>
<circle cx="553.4" cy="365.7" r="3.15"/>
<circle cx="557.2" cy="368.6" r="3.15"/>
<circle cx="569" cy="227.2" r="3.15"/>
<circle cx="569" cy="228.1" r="3.15"/>
<circle cx="568.7" cy="228.1" r="3.15"/>
<circle cx="567.9" cy="229" r="3.15"/>
<circle cx="567.9" cy="229.2" r="3.15"/>
<circle cx="568.2" cy="230.2" r="3.15"/>
<circle cx="569.1" cy="230.3" r="3.15"/>
<circle cx="569.8" cy="231" r="3.15"/>
<circle cx="569.4" cy="231.9" r="3.15"/>
<circle cx="569.9" cy="232.2" r="3.15"/>
<circle cx="571" cy="232.7" r="3.15"/>
<circle cx="569.1" cy="233.4" r="3.15"/>
<circle cx="570.9" cy="233.9" r="3.15"/>
<circle cx="568.8" cy="234.3" r="3.15"/>
<circle cx="567.5" cy="234.7" r="3.15"/>
<circle cx="570.2" cy="235.4" r="3.15"/>
<circle cx="570.5" cy="236" r="3.15"/>
<circle cx="569.5" cy="236.6" r="3.15"/>
<circle cx="569.2" cy="237.1" r="3.15"/>
<circle cx="569.2" cy="237.5" r="3.15"/>
<circle cx="570.2" cy="237.9" r="3.15"/>
<circle cx="570.9" cy="238.9" r="3.15"/>
<circle cx="570.4" cy="239.2" r="3.15"/>
<circle cx="569.1" cy="239.7" r="3.15"/>
<circle cx="569.1" cy="240.1" r="3.15"/>
<circle cx="570.3" cy="241" r="3.15"/>
<circle cx="569.3" cy="241.5" r="3.15"/>
<circle cx="568.5" cy="242.1" r="3.15"/>
<circle cx="570.9" cy="242.5" r="3.15"/>
<circle cx="570.9" cy="243.1" r="3.15"/>
<circle cx="569.9" cy="243.5" r="3.15"/>
<circle cx="567.7" cy="243.9" r="3.15"/>
<circle cx="570.4" cy="244.4" r="3.15"/>
<circle cx="569.9" cy="245" r="3.15"/>
<circle cx="570.1" cy="245.9" r="3.15"/>
<circle cx="569.7" cy="246" r="3.15"/>
<circle cx="570.1" cy="246.8" r="3.15"/>
<circle cx="570.5" cy="247.1" r="3.15"/>
<circle cx="568.5" cy="248.1" r="3.15"/>
<circle cx="570.4" cy="248.6" r="3.15"/>
<circle cx="569.3" cy="249" r="3.15"/>
<circle cx="570.8" cy="249.6" r="3.15"/>
<circle cx="567.8" cy="249.8" r="3.15"/>
<circle cx="567.5" cy="250.4" r="3.15"/>
<circle cx="567.6" cy="251" r="3.15"/>
<circle cx="569.7" cy="251.8" r="3.15"/>
<circle cx="568.9" cy="252" r="3.15"/>
<circle cx="570.7" cy="253" r="3.15"/>
<circle cx="570.9" cy="253" r="3.15"/>
<circle cx="569.6" cy="253.9" r="3.15"/>
<circle cx="569.4" cy="254.2" r="3.15"/>
<circle cx="570.7" cy="254.9" r="3.15"/>
<circle cx="567.6" cy="255.4" r="3.15"/>
<circle cx="570" cy="255.8" r="3.15"/>
<circle cx="570.2" cy="256.4" r="3.15"/>
<circle cx="569" cy="257" r="3.15"/>
<circle cx="567.9" cy="257.8" r="3.15"/>
<circle cx="568.7" cy="258.3" r="3.15"/>
<circle cx="570.6" cy="258.6" r="3.15"/>
<circle cx="567.5" cy="259.2" r="3.15"/>
<circle cx="568.3" cy="260" r="3.15"/>
<circle cx="568.1" cy="260.4" r="3.15"/>
<circle cx="567.6" cy="260.7" r="3.15"/>
<circle cx="568.2" cy="261.6" r="3.15"/>
<circle cx="569.6" cy="262" r="3.15"/>
<circle cx="567.8" cy="262.4" r="3.15"/>
<circle cx="570.6" cy="263.1" r="3.15"/>
<circle cx="570.2" cy="263.6" r="3.15"/>
<circle cx="568.2" cy="264.3" r="3.15"/>
<circle cx="568.4" cy="264.5" r="3.15"/>
<circle cx="569.8" cy="265" r="3.15"/>
<circle cx="570.2" cy="265.8" r="3.15"/>
<circle cx="568.8" cy="266.3" r="3.15"/>
<circle cx="569.2" cy="266.6" r="3.15"/>
<circle cx="567.8" cy="267.3" r="3.15"/>
<circle cx="567.5" cy="267.7" r="3.15"/>
<circle cx="568.8" cy="268.5" r="3.15"/>
<circle cx="569.3" cy="268.8" r="3.15"/>
<circle cx="570.2" cy="269.7" r="3.15"/>
<circle cx="569.8" cy="270.2" r="3.15"/>
<circle cx="568.4" cy="270.8" r="3.15"/>
<circle cx="569.5" cy="271" r="3.15"/>
<circle cx="569.9" cy="271.8" r="3.15"/>
<circle cx="569.5" cy="272.2" r="3.15"/>
<circle cx="570.2" cy="272.9" r="3.15"/>
<circle cx="569.6" cy="273.1" r="3.15"/>
<circle cx="568.3" cy="274.1" r="3.15"/>
<circle cx="568.9" cy="274.5" r="3.15"/>
<circle cx="568" cy="275" r="3.15"/>
<circle cx="569.6" cy="275.6" r="3.15"/>
<circle cx="570.9" cy="276" r="3.15"/>
<circle cx="568.6" cy="276.4" r="3.15"/>
<circle cx="568.7" cy="277.1" r="3.15"/>
<circle cx="570.9" cy="277.7" r="3.15"/>
<circle cx="569.9" cy="278.3" r="3.15"/>
<circle cx="567.5" cy="278.6" r="3.15"/>
<circle cx="569.4" cy="279" r="3.15"/>
<circle cx="568" cy="279.9" r="3.15"/>
<circle cx="569.9" cy="280.2" r="3.15"/>
<circle cx="567.9" cy="281.1" r="3.15"/>
<circle cx="569.2" cy="281.3" r="3.15"/>
<circle cx="570" cy="282.1" r="3.15"/>
<circle cx="571" cy="282.3" r="3.15"/>
<circle cx="570.2" cy="283" r="3.15"/>
<circle cx="568.4" cy="283.6" r="3.15"/>
<circle cx="567.6" cy="283.9" r="3.15"/>
<circle cx="567.9" cy="284.8" r="3.15"/>
<circle cx="570" cy="285.1" r="3.15"/>
<circle cx="568.6" cy="285.9" r="3.15"/>
<circle cx="568.9" cy="286.2" r="3.15"/>
<circle cx="570.8" cy="286.9" r="3.15"/>
<circle cx="569.4" cy="287.5" r="3.15"/>
<circle cx="567.6" cy="287.9" r="3.15"/>
<circle cx="570.3" cy="288.6" r="3.15"/>
<circle cx="570.6" cy="288.9" r="3.15"/>
<circle cx="569.2" cy="289.4" r="3.15"/>
<circle cx="568.1" cy="289.9" r="3.15"/>
<circle cx="568.2" cy="290.5" r="3.15"/>
<circle cx="569" cy="291.1" r="3.15"/>
<circle cx="570.2" cy="291.9" r="3.15"/>
<circle cx="578.8" cy="241.2" r="3.15"/>
<circle cx="580.2" cy="242.6" r="3.15"/>
<circle cx="581.4" cy="244.9" r="3.15"/>
<circle cx="580.7" cy="247.6" r="3.15"/>
<circle cx="581.1" cy="248.2" r="3.15"/>
<circle cx="577.8" cy="251.6" r="3.15"/>
<circle cx="580.8" cy="252.3" r="3.15"/>
<circle cx="578.2" cy="255" r="3.15"/>
<circle cx="578.4" cy="257.9" r="3.15"/>
<circle cx="578.6" cy="259.9" r="3.15"/>
<circle cx="581.1" cy="261.1" r="3.15"/>
<circle cx="580.9" cy="263.4" r="3.15"/>
<circle cx="578.9" cy="265" r="3.15"/>
<circle cx="577.8" cy="266.1" r="3.15"/>
<circle cx="582.2" cy="269.7" r="3.15"/>
<circle cx="581.3" cy="270.2" r="3.15"/>
<circle cx="580.6" cy="273.4" r="3.15"/>
<circle cx="579.7" cy="274.8" r="3.15"/>
<circle cx="581.1" cy="276" r="3.15"/>
<circle cx="579.9" cy="278.5" r="3.15"/>
<circle cx="579.7" cy="281.1" r="3.15"/>
<circle cx="579.6" cy="283.8" r="3.15"/>
<circle cx="581.9" cy="285.5" r="3.15"/>
<circle cx="581.5" cy="287" r="3.15"/>
<circle cx="578.9" cy="289.6" r="3.15"/>
<circle cx="578.1" cy="291.2" r="3.15"/>
<circle cx="580.7" cy="292.2" r="3.15"/>
<circle cx="578.5" cy="295.3" r="3.15"/>
<circle cx="581.8" cy="296.8" r="3.15"/>
<circle cx="580.2" cy="299.4" r="3.15"/>
<circle cx="580.4" cy="300.9" r="3.15"/>
<circle cx="580.7" cy="303.4" r="3.15"/>
<circle cx="581.5" cy="305.1" r="3.15"/>
<circle cx="580.8" cy="306.4" r="3.15"/>
<circle cx="578.3" cy="309.6" r="3.15"/>
<circle cx="578.6" cy="310.9" r="3.15"/>
<circle cx="581.9" cy="312.3" r="3.15"/>
<circle cx="580.9" cy="314.5" r="3.15"/>
<circle cx="580.6" cy="317.6" r="3.15"/>
<circle cx="581.6" cy="319.6" r="3.15"/>
<circle cx="580.1" cy="321.1" r="3.15"/>
<circle cx="578.4" cy="322.2" r="3.15"/>
<circle cx="581.2" cy="324.1" r="3.15"/>
<circle cx="582.2" cy="326.4" r="3.15"/>
<circle cx="581.1" cy="328.9" r="3.15"/>
<circle cx="580.6" cy="331.5" r="3.15"/>
<circle cx="579" cy="333.7" r="3.15"/>
<circle cx="581.3" cy="335.2" r="3.15"/>
<circle cx="580.4" cy="336.8" r="3.15"/>
<circle cx="582.3" cy="338.8" r="3.15"/>
<circle cx="586.6" cy="262.1" r="3.15"/>
<circle cx="589" cy="263.2" r="3.15"/>
<circle cx="587.4" cy="263.4" r="3.15"/>
<circle cx="588.1" cy="263.8" r="3.15"/>
<circle cx="588.6" cy="264.4" r="3.15"/>
<circle cx="586.1" cy="265.2" r="3.15"/>
<circle cx="587.4" cy="265.6" r="3.15"/>
<circle cx="586.9" cy="266.8" r="3.15"/>
<circle cx="588.3" cy="266.8" r="3.15"/>
<circle cx="588.6" cy="267.7" r="3.15"/>
<circle cx="589" cy="268.2" r="3.15"/>
<circle cx="586.9" cy="269" r="3.15"/>
<circle cx="587.5" cy="269.4" r="3.15"/>
<circle cx="587.6" cy="270.2" r="3.15"/>
<circle cx="586.9" cy="270.9" r="3.15"/>
<circle cx="588.2" cy="271.5" r="3.15"/>
<circle cx="588" cy="271.7" r="3.15"/>
<circle cx="588.1" cy="272.3" r="3.15"/>
<circle cx="586.4" cy="273.1" r="3.15"/>
<circle cx="586.5" cy="273.5" r="3.15"/>
<circle cx="587.8" cy="274.6" r="3.15"/>
<circle cx="586.2" cy="274.9" r="3.15"/>
<circle cx="586.3" cy="275.5" r="3.15"/>
<circle cx="587.7" cy="276.1" r="3.15"/>
<circle cx="586.1" cy="276.8" r="3.15"/>
<circle cx="587.5" cy="277.3" r="3.15"/>
<circle cx="588" cy="278.1" r="3.15"/>
<circle cx="587.3" cy="278.7" r="3.15"/>
<circle cx="586.5" cy="279.1" r="3.15"/>
<circle cx="586.5" cy="279.6" r="3.15"/>
<circle cx="588.7" cy="280.6" r="3.15"/>
<circle cx="587.4" cy="280.8" r="3.15"/>
<circle cx="587" cy="281.7" r="3.15"/>
<circle cx="587.3" cy="281.9" r="3.15"/>
<circle cx="588.5" cy="282.7" r="3.15"/>
<circle cx="587.3" cy="283.5" r="3.15"/>
<circle cx="588.2" cy="283.6" r="3.15"/>
<circle cx="588.9" cy="284.5" r="3.15"/>
<circle cx="586.5" cy="285.3" r="3.15"/>
<circle cx="587.3" cy="285.8" r="3.15"/>
<circle cx="588.3" cy="286.1" r="3.15"/>
<circle cx="589" cy="286.9" r="3.15"/>
<circle cx="586.2" cy="287.5" r="3.15"/>
<circle cx="586.1" cy="288.4" r="3.15"/>
<circle cx="588" cy="288.6" r="3.15"/>
<circle cx="588.4" cy="289.5" r="3.15"/>
<circle cx="588.1" cy="289.7" r="3.15"/>
<circle cx="586.3" cy="290.7" r="3.15"/>
<circle cx="588.7" cy="291" r="3.15"/>
<circle cx="587.2" cy="291.6" r="3.15"/>
<circle cx="586.8" cy="292.6" r="3.15"/>
<circle cx="587.6" cy="293" r="3.15"/>
<circle cx="587.8" cy="293.3" r="3.15"/>
<circle cx="586.2" cy="293.9" r="3.15"/>
<circle cx="587.5" cy="294.8" r="3.15"/>
<circle cx="589" cy="295.5" r="3.15"/>
<circle cx="588.2" cy="295.8" r="3.15"/>
<circle cx="587" cy="296.6" r="3.15"/>
<circle cx="587" cy="297.3" r="3.15"/>
<circle cx="588.2" cy="297.5" r="3.15"/>
<circle cx="588.4" cy="298.1" r="3.15"/>
<circle cx="587" cy="299.2" r="3.15"/>
<circle cx="588" cy="299.7" r="3.15"/>
<circle cx="588.8" cy="300" r="3.15"/>
<circle cx="588.4" cy="300.6" r="3.15"/>
<circle cx="586.2" cy="301.1" r="3.15"/>
<circle cx="586.4" cy="302" r="3.15"/>
<circle cx="587.9" cy="302.7" r="3.15"/>
<circle cx="586.9" cy="303.3" r="3.15"/>
<circle cx="586.8" cy="303.6" r="3.15"/>
<circle cx="588" cy="304.2" r="3.15"/>
<circle cx="589" cy="304.8" r="3.15"/>
<circle cx="586.7" cy="305.7" r="3.15"/>
<circle cx="588.6" cy="305.9" r="3.15"/>
<circle cx="587" cy="306.7" r="3.15"/>
<circle cx="586.2" cy="307.2" r="3.15"/>
<circle cx="588.3" cy="308.1" r="3.15"/>
<circle cx="586.4" cy="308.4" r="3.15"/>
<circle cx="586.8" cy="309.2" r="3.15"/>
<circle cx="586.4" cy="310" r="3.15"/>
<circle cx="586.3" cy="310.3" r="3.15"/>
<circle cx="588.1" cy="311.2" r="3.15"/>
<circle cx="587.8" cy="311.7" r="3.15"/>
<circle cx="587.6" cy="311.9" r="3.15"/>
<circle cx="587.3" cy="312.8" r="3.15"/>
<circle cx="587.6" cy="313.5" r="3.15"/>
<circle cx="587.6" cy="313.8" r="3.15"/>
<circle cx="587.5" cy="314.5" r="3.15"/>
<circle cx="586" cy="315" r="3.15"/>
<circle cx="587.7" cy="315.8" r="3.15"/>
<circle cx="587.3" cy="316.4" r="3.15"/>
<circle cx="587.5" cy="316.8" r="3.15"/>
<circle cx="586.7" cy="317.7" r="3.15"/>
<circle cx="588.8" cy="318.2" r="3.15"/>
<circle cx="586.7" cy="318.8" r="3.15"/>
<circle cx="587.5" cy="319.6" r="3.15"/>
<circle cx="586" cy="320.1" r="3.15"/>
<circle cx="587.4" cy="320.7" r="3.15"/>
<circle cx="587.8" cy="320.8" r="3.15"/>
<circle cx="588.1" cy="321.7" r="3.15"/>
<circle cx="586.7" cy="322.1" r="3.15"/>
<circle cx="587.2" cy="322.9" r="3.15"/>
<circle cx="587.4" cy="323.2" r="3.15"/>
<circle cx="586.4" cy="324.2" r="3.15"/>
<circle cx="587.6" cy="324.8" r="3.15"/>
<circle cx="587.2" cy="325.2" r="3.15"/>
<circle cx="588.4" cy="325.7" r="3.15"/>
<circle cx="586.2" cy="326.4" r="3.15"/>
<circle cx="587.4" cy="326.9" r="3.15"/>
<circle cx="588.9" cy="327.5" r="3.15"/>
<circle cx="586.4" cy="328.4" r="3.15"/>
<circle cx="586.4" cy="328.8" r="3.15"/>
<circle cx="587.2" cy="329.4" r="3.15"/>
<circle cx="588" cy="329.9" r="3.15"/>
<circle cx="587.9" cy="330.5" r="3.15"/>
<circle cx="587.7" cy="331.6" r="3.15"/>
<circle cx="588.4" cy="332.2" r="3.15"/>
<circle cx="587.6" cy="332.3" r="3.15"/>
<circle cx="587.1" cy="333.3" r="3.15"/>
<circle cx="586.4" cy="333.8" r="3.15"/>
<circle cx="587" cy="334.6" r="3.15"/>
<circle cx="587.1" cy="334.8" r="3.15"/>
<circle cx="586.8" cy="335.5" r="3.15"/>
<circle cx="588.9" cy="336.1" r="3.15"/>
<circle cx="588.2" cy="336.7" r="3.15"/>
<circle cx="586.2" cy="337.4" r="3.15"/>
<circle cx="587.8" cy="338" r="3.15"/>
<circle cx="586.9" cy="338.4" r="3.15"/>
<circle cx="587" cy="338.8" r="3.15"/>
<circle cx="586.5" cy="339.6" r="3.15"/>
</g>
<g fill="none" stroke="rgba(0,100,0,0.47)" stroke-width="0.95">
<circle cx="85" cy="192.7" r="3.15"/>
<circle cx="85" cy="219.7" r="3.15"/>
<circle cx="85" cy="222" r="3.15"/>
<circle cx="85" cy="232.6" r="3.15"/>
<circle cx="85" cy="235" r="3.15"/>
<circle cx="85" cy="244" r="3.15"/>
<circle cx="85" cy="250.9" r="3.15"/>
<circle cx="85" cy="261" r="3.15"/>
<circle cx="85" cy="262.8" r="3.15"/>
<circle cx="85" cy="264" r="3.15"/>
<circle cx="85" cy="267.9" r="3.15"/>
<circle cx="85" cy="268.2" r="3.15"/>
<circle cx="85" cy="275.1" r="3.15"/>
<circle cx="85" cy="287" r="3.15"/>
<circle cx="100" cy="196.5" r="3.15"/>
<circle cx="100" cy="207.8" r="3.15"/>
<circle cx="100" cy="209.5" r="3.15"/>
<circle cx="100" cy="211.3" r="3.15"/>
<circle cx="100" cy="212.8" r="3.15"/>
<circle cx="100" cy="215" r="3.15"/>
<circle cx="100" cy="234.5" r="3.15"/>
<circle cx="112" cy="254.7" r="3.15"/>
<circle cx="212" cy="188" r="3.15"/>
<circle cx="211" cy="193" r="3.15"/>
<circle cx="210" cy="196" r="3.15"/>
<circle cx="206" cy="203" r="3.15"/>
<circle cx="215" cy="205" r="3.15"/>
<circle cx="215" cy="208" r="3.15"/>
<circle cx="217" cy="208" r="3.15"/>
<circle cx="217" cy="212" r="3.15"/>
<circle cx="201" cy="211" r="3.15"/>
<circle cx="211" cy="215" r="3.15"/>
<circle cx="210" cy="218" r="3.15"/>
<circle cx="216" cy="214" r="3.15"/>
<circle cx="194" cy="221" r="3.15"/>
<circle cx="235" cy="221" r="3.15"/>
<circle cx="210" cy="222" r="3.15"/>
<circle cx="217" cy="225" r="3.15"/>
<circle cx="210" cy="227" r="3.15"/>
<circle cx="211" cy="230" r="3.15"/>
<circle cx="216" cy="231" r="3.15"/>
<circle cx="212" cy="233" r="3.15"/>
<circle cx="216" cy="247" r="3.15"/>
<circle cx="236" cy="244" r="3.15"/>
<circle cx="200" cy="255" r="3.15"/>
<circle cx="212" cy="255" r="3.15"/>
<circle cx="216" cy="257" r="3.15"/>
<circle cx="217" cy="258" r="3.15"/>
<circle cx="211" cy="261" r="3.15"/>
<circle cx="210" cy="263" r="3.15"/>
<circle cx="210" cy="268" r="3.15"/>
<circle cx="210" cy="269" r="3.15"/>
<circle cx="213" cy="271" r="3.15"/>
<circle cx="210" cy="290" r="3.15"/>
<circle cx="213" cy="292" r="3.15"/>
<circle cx="201" cy="296" r="3.15"/>
<circle cx="212" cy="303" r="3.15"/>
<circle cx="216" cy="309" r="3.15"/>
<circle cx="347.1" cy="215.4" r="3.15"/>
<circle cx="347.7" cy="220.3" r="3.15"/>
<circle cx="347.6" cy="224.8" r="3.15"/>
<circle cx="341.6" cy="230.4" r="3.15"/>
<circle cx="347.9" cy="236.8" r="3.15"/>
<circle cx="341.8" cy="240.7" r="3.15"/>
<circle cx="341.3" cy="246.7" r="3.15"/>
<circle cx="348.5" cy="251.5" r="3.15"/>
<circle cx="341.7" cy="256" r="3.15"/>
<circle cx="346.3" cy="257.8" r="3.15"/>
<circle cx="341.3" cy="263.1" r="3.15"/>
<circle cx="347.5" cy="269.5" r="3.15"/>
<circle cx="341.5" cy="272.3" r="3.15"/>
<circle cx="348.4" cy="280.2" r="3.15"/>
<circle cx="340.4" cy="285.8" r="3.15"/>
<circle cx="348.1" cy="289.8" r="3.15"/>
<circle cx="341.4" cy="293.6" r="3.15"/>
<circle cx="347.5" cy="298.9" r="3.15"/>
<circle cx="348.4" cy="301.6" r="3.15"/>
<circle cx="347.6" cy="305" r="3.15"/>
<circle cx="342.1" cy="308.9" r="3.15"/>
<circle cx="341.3" cy="312.4" r="3.15"/>
<circle cx="341.3" cy="316.9" r="3.15"/>
<circle cx="347.4" cy="318.9" r="3.15"/>
<circle cx="347.7" cy="324.5" r="3.15"/>
<circle cx="341.2" cy="327" r="3.15"/>
<circle cx="347.2" cy="328.4" r="3.15"/>
<circle cx="346.9" cy="335" r="3.15"/>
<circle cx="341.6" cy="337" r="3.15"/>
<circle cx="341.4" cy="341.1" r="3.15"/>
<circle cx="347.8" cy="342.8" r="3.15"/>
<circle cx="341.2" cy="345.7" r="3.15"/>
<circle cx="341.5" cy="350.1" r="3.15"/>
<circle cx="340.7" cy="355" r="3.15"/>
<circle cx="362.8" cy="230.6" r="3.15"/>
<circle cx="366.8" cy="235.6" r="3.15"/>
<circle cx="366.9" cy="239.6" r="3.15"/>
<circle cx="367" cy="245.2" r="3.15"/>
<circle cx="367.1" cy="248.7" r="3.15"/>
<circle cx="362.5" cy="252.7" r="3.15"/>
<circle cx="362.9" cy="258.1" r="3.15"/>
<circle cx="367.1" cy="261.3" r="3.15"/>
<circle cx="366.9" cy="267.9" r="3.15"/>
<circle cx="367.2" cy="272.3" r="3.15"/>
<circle cx="367.3" cy="274.7" r="3.15"/>
<circle cx="367.5" cy="282" r="3.15"/>
<circle cx="363.2" cy="282.6" r="3.15"/>
<circle cx="361.4" cy="290.9" r="3.15"/>
<circle cx="366.4" cy="294.2" r="3.15"/>
<circle cx="367.6" cy="298.1" r="3.15"/>
<circle cx="363.6" cy="301.7" r="3.15"/>
<circle cx="366.9" cy="305.3" r="3.15"/>
<circle cx="362.4" cy="312.6" r="3.15"/>
<circle cx="367.2" cy="319.5" r="3.15"/>
<circle cx="362.3" cy="321.5" r="3.15"/>
<circle cx="363.1" cy="327.6" r="3.15"/>
<circle cx="367.2" cy="332.6" r="3.15"/>
<circle cx="362.9" cy="339.9" r="3.15"/>
<circle cx="363" cy="341.6" r="3.15"/>
<circle cx="367.2" cy="348.1" r="3.15"/>
<circle cx="474.8" cy="242.7" r="3.15"/>
<circle cx="497.4" cy="243.8" r="3.15"/>
<circle cx="475.6" cy="250.5" r="3.15"/>
<circle cx="495.6" cy="253.2" r="3.15"/>
<circle cx="471.9" cy="255" r="3.15"/>
<circle cx="476" cy="262" r="3.15"/>
<circle cx="479.5" cy="263.5" r="3.15"/>
<circle cx="478.1" cy="266.8" r="3.15"/>
<circle cx="499.7" cy="271.8" r="3.15"/>
<circle cx="477.4" cy="273.1" r="3.15"/>
<circle cx="494.4" cy="274" r="3.15"/>
<circle cx="494.8" cy="275.7" r="3.15"/>
<circle cx="477.5" cy="278.5" r="3.15"/>
<circle cx="498.6" cy="279.4" r="3.15"/>
<circle cx="499.2" cy="283" r="3.15"/>
<circle cx="495.7" cy="283.6" r="3.15"/>
<circle cx="495.9" cy="285.9" r="3.15"/>
<circle cx="497.8" cy="288.2" r="3.15"/>
<circle cx="485.5" cy="290.2" r="3.15"/>
<circle cx="473.6" cy="292.3" r="3.15"/>
<circle cx="498" cy="292.8" r="3.15"/>
<circle cx="480.2" cy="296.1" r="3.15"/>
<circle cx="477.3" cy="296.3" r="3.15"/>
<circle cx="478" cy="298.8" r="3.15"/>
<circle cx="499.4" cy="300.3" r="3.15"/>
<circle cx="495.6" cy="302.2" r="3.15"/>
<circle cx="475.8" cy="305.4" r="3.15"/>
<circle cx="493" cy="305.7" r="3.15"/>
<circle cx="496.9" cy="308.6" r="3.15"/>
<circle cx="479.3" cy="310.4" r="3.15"/>
<circle cx="484.7" cy="312.7" r="3.15"/>
<circle cx="472.4" cy="314.2" r="3.15"/>
<circle cx="495.1" cy="315.6" r="3.15"/>
<circle cx="477" cy="318.3" r="3.15"/>
<circle cx="476.4" cy="319.8" r="3.15"/>
<circle cx="476.3" cy="321.1" r="3.15"/>
<circle cx="480.9" cy="322.7" r="3.15"/>
<circle cx="477.2" cy="325.1" r="3.15"/>
<circle cx="479.7" cy="326.7" r="3.15"/>
<circle cx="480.1" cy="329.9" r="3.15"/>
<circle cx="495.9" cy="330.8" r="3.15"/>
<circle cx="494.4" cy="332.1" r="3.15"/>
<circle cx="477.6" cy="332.4" r="3.15"/>
<circle cx="472.4" cy="334.2" r="3.15"/>
<circle cx="480.1" cy="334.4" r="3.15"/>
<circle cx="473.1" cy="336.4" r="3.15"/>
<circle cx="479.6" cy="336.7" r="3.15"/>
<circle cx="498.3" cy="337.7" r="3.15"/>
<circle cx="472.6" cy="339" r="3.15"/>
<circle cx="477.8" cy="340.2" r="3.15"/>
<circle cx="471.1" cy="341.7" r="3.15"/>
<circle cx="474.3" cy="341.8" r="3.15"/>
<circle cx="475" cy="343.4" r="3.15"/>
<circle cx="473.5" cy="344.7" r="3.15"/>
<circle cx="474.3" cy="345.5" r="3.15"/>
<circle cx="478.3" cy="346.1" r="3.15"/>
<circle cx="475.2" cy="347.3" r="3.15"/>
<circle cx="495.5" cy="348.6" r="3.15"/>
<circle cx="479.3" cy="349.4" r="3.15"/>
<circle cx="499.6" cy="350.6" r="3.15"/>
<circle cx="478.9" cy="351.7" r="3.15"/>
<circle cx="471.8" cy="353.1" r="3.15"/>
<circle cx="499.2" cy="354.1" r="3.15"/>
<circle cx="480.8" cy="355.2" r="3.15"/>
<circle cx="497.8" cy="356.3" r="3.15"/>
<circle cx="493.9" cy="356.9" r="3.15"/>
<circle cx="480.3" cy="358.8" r="3.15"/>
<circle cx="484.5" cy="358.9" r="3.15"/>
<circle cx="474.9" cy="360.1" r="3.15"/>
<circle cx="477.5" cy="361.8" r="3.15"/>
<circle cx="474.1" cy="362.3" r="3.15"/>
<circle cx="477" cy="363.5" r="3.15"/>
<circle cx="495.7" cy="364.5" r="3.15"/>
<circle cx="498.9" cy="366.1" r="3.15"/>
<circle cx="473" cy="366.8" r="3.15"/>
<circle cx="497.3" cy="368" r="3.15"/>
<circle cx="480.9" cy="368.6" r="3.15"/>
<circle cx="477.7" cy="370.3" r="3.15"/>
<circle cx="495.7" cy="370.8" r="3.15"/>
<circle cx="496.9" cy="371.9" r="3.15"/>
<circle cx="479" cy="373.6" r="3.15"/>
<circle cx="474.8" cy="374.4" r="3.15"/>
<circle cx="497" cy="375.6" r="3.15"/>
<circle cx="498.3" cy="376.4" r="3.15"/>
<circle cx="478" cy="377.8" r="3.15"/>
<circle cx="498.7" cy="341.4" r="3.15"/>
<circle cx="469.9" cy="361.7" r="3.15"/>
<circle cx="494.1" cy="338.2" r="3.15"/>
<circle cx="486.9" cy="346.2" r="3.15"/>
<circle cx="500" cy="350.2" r="3.15"/>
<circle cx="468.8" cy="367.9" r="3.15"/>
<circle cx="476.2" cy="352.6" r="3.15"/>
<circle cx="470.4" cy="348.9" r="3.15"/>
<circle cx="470.5" cy="345.8" r="3.15"/>
<circle cx="485.7" cy="347.6" r="3.15"/>
<circle cx="488.7" cy="372.8" r="3.15"/>
<circle cx="485.6" cy="336.2" r="3.15"/>
<circle cx="498.6" cy="343.3" r="3.15"/>
<circle cx="477.8" cy="357.1" r="3.15"/>
<circle cx="487" cy="349.4" r="3.15"/>
<circle cx="481" cy="361.3" r="3.15"/>
<circle cx="481.5" cy="346.9" r="3.15"/>
<circle cx="480" cy="351.2" r="3.15"/>
<circle cx="541" cy="285" r="3.15"/>
<circle cx="538" cy="293" r="3.15"/>
<circle cx="542" cy="290" r="3.15"/>
<circle cx="539" cy="331" r="3.15"/>
<circle cx="540" cy="333" r="3.15"/>
<circle cx="539" cy="357" r="3.15"/>
<circle cx="542" cy="364" r="3.15"/>
<circle cx="554.1" cy="267.6" r="3.15"/>
<circle cx="554.2" cy="271.6" r="3.15"/>
<circle cx="554.4" cy="274.5" r="3.15"/>
<circle cx="555.4" cy="278.1" r="3.15"/>
<circle cx="554.5" cy="281.4" r="3.15"/>
<circle cx="554.5" cy="283.2" r="3.15"/>
<circle cx="556.2" cy="286.8" r="3.15"/>
<circle cx="556.4" cy="290.7" r="3.15"/>
<circle cx="554.3" cy="291.7" r="3.15"/>
<circle cx="556.6" cy="297" r="3.15"/>
<circle cx="555.8" cy="300" r="3.15"/>
<circle cx="557.6" cy="302.7" r="3.15"/>
<circle cx="557.6" cy="305.1" r="3.15"/>
<circle cx="556.5" cy="306.2" r="3.15"/>
<circle cx="553.8" cy="306.8" r="3.15"/>
<circle cx="554.4" cy="306.9" r="3.15"/>
<circle cx="555.2" cy="308" r="3.15"/>
<circle cx="554.4" cy="308.8" r="3.15"/>
<circle cx="553" cy="309" r="3.15"/>
<circle cx="554.7" cy="309.7" r="3.15"/>
<circle cx="554.5" cy="310.1" r="3.15"/>
<circle cx="554" cy="310.9" r="3.15"/>
<circle cx="556.4" cy="311.6" r="3.15"/>
<circle cx="556.6" cy="312.3" r="3.15"/>
<circle cx="554.7" cy="312.7" r="3.15"/>
<circle cx="554.1" cy="313.8" r="3.15"/>
<circle cx="555.3" cy="314.1" r="3.15"/>
<circle cx="554.1" cy="315.1" r="3.15"/>
<circle cx="556.5" cy="315.6" r="3.15"/>
<circle cx="557" cy="316" r="3.15"/>
<circle cx="556.7" cy="316.5" r="3.15"/>
<circle cx="556.3" cy="317.3" r="3.15"/>
<circle cx="556.3" cy="317.9" r="3.15"/>
<circle cx="554.8" cy="318.8" r="3.15"/>
<circle cx="557.7" cy="319.2" r="3.15"/>
<circle cx="553.8" cy="319.7" r="3.15"/>
<circle cx="556.4" cy="320.8" r="3.15"/>
<circle cx="553.1" cy="321.1" r="3.15"/>
<circle cx="553.8" cy="322.2" r="3.15"/>
<circle cx="553.7" cy="322.2" r="3.15"/>
<circle cx="556.8" cy="323.5" r="3.15"/>
<circle cx="556.9" cy="323.5" r="3.15"/>
<circle cx="555" cy="324.4" r="3.15"/>
<circle cx="557.5" cy="325.2" r="3.15"/>
<circle cx="553.3" cy="325.7" r="3.15"/>
<circle cx="556.9" cy="326.3" r="3.15"/>
<circle cx="556.3" cy="327.3" r="3.15"/>
<circle cx="557.9" cy="327.8" r="3.15"/>
<circle cx="555.9" cy="328.1" r="3.15"/>
<circle cx="553.8" cy="328.7" r="3.15"/>
<circle cx="556.2" cy="329.7" r="3.15"/>
<circle cx="557.3" cy="330.4" r="3.15"/>
<circle cx="554.4" cy="330.7" r="3.15"/>
<circle cx="554" cy="331.4" r="3.15"/>
<circle cx="557.7" cy="332.2" r="3.15"/>
<circle cx="555.2" cy="332.5" r="3.15"/>
<circle cx="557.2" cy="333.6" r="3.15"/>
<circle cx="556.8" cy="333.8" r="3.15"/>
<circle cx="555" cy="334.6" r="3.15"/>
<circle cx="557.6" cy="335.1" r="3.15"/>
<circle cx="555.1" cy="335.6" r="3.15"/>
<circle cx="553" cy="336.3" r="3.15"/>
<circle cx="557" cy="337.2" r="3.15"/>
<circle cx="555.4" cy="337.7" r="3.15"/>
<circle cx="554.3" cy="338.6" r="3.15"/>
<circle cx="555.4" cy="338.8" r="3.15"/>
<circle cx="556.1" cy="340" r="3.15"/>
<circle cx="553.4" cy="340.6" r="3.15"/>
<circle cx="553.5" cy="340.8" r="3.15"/>
<circle cx="557.9" cy="341.9" r="3.15"/>
<circle cx="553.9" cy="342.4" r="3.15"/>
<circle cx="556.1" cy="342.8" r="3.15"/>
<circle cx="556.9" cy="343.6" r="3.15"/>
<circle cx="554.1" cy="344.1" r="3.15"/>
<circle cx="556.5" cy="344.9" r="3.15"/>
<circle cx="555.7" cy="345.6" r="3.15"/>
<circle cx="553.7" cy="345.8" r="3.15"/>
<circle cx="553.2" cy="346.8" r="3.15"/>
<circle cx="555.2" cy="347.5" r="3.15"/>
<circle cx="557.9" cy="347.7" r="3.15"/>
<circle cx="554.9" cy="348.5" r="3.15"/>
<circle cx="555.7" cy="349.5" r="3.15"/>
<circle cx="556" cy="349.7" r="3.15"/>
<circle cx="556.3" cy="350.4" r="3.15"/>
<circle cx="555.8" cy="350.9" r="3.15"/>
<circle cx="555.8" cy="351.8" r="3.15"/>
<circle cx="556.2" cy="352.5" r="3.15"/>
<circle cx="555.9" cy="353.2" r="3.15"/>
<circle cx="553.7" cy="353.8" r="3.15"/>
<circle cx="556.1" cy="354.4" r="3.15"/>
<circle cx="555" cy="354.7" r="3.15"/>
<circle cx="557.6" cy="355.8" r="3.15"/>
<circle cx="557.9" cy="356.2" r="3.15"/>
<circle cx="557.4" cy="357.1" r="3.15"/>
<circle cx="555.7" cy="357.8" r="3.15"/>
<circle cx="557.1" cy="357.9" r="3.15"/>
<circle cx="553.7" cy="358.7" r="3.15"/>
<circle cx="555.7" cy="359.5" r="3.15"/>
<circle cx="555.8" cy="360.3" r="3.15"/>
<circle cx="557" cy="360.4" r="3.15"/>
<circle cx="554.7" cy="361.6" r="3.15"/>
<circle cx="556.8" cy="361.6" r="3.15"/>
<circle cx="556.1" cy="362.4" r="3.15"/>
<circle cx="555.5" cy="363.5" r="3.15"/>
<circle cx="553.4" cy="364.1" r="3.15"/>
<circle cx="555.4" cy="364.8" r="3.15"/>
<circle cx="557.3" cy="364.9" r="3.15"/>
<circle cx="556.2" cy="366" r="3.15"/>
<circle cx="554.4" cy="366.5" r="3.15"/>
<circle cx="554.3" cy="366.9" r="3.15"/>
<circle cx="554.7" cy="367.6" r="3.15"/>
<circle cx="557.8" cy="368.1" r="3.15"/>
<circle cx="555.1" cy="368.9" r="3.15"/>
<circle cx="556.5" cy="369.9" r="3.15"/>
<circle cx="556.1" cy="370.5" r="3.15"/>
<circle cx="553.7" cy="371" r="3.15"/>
<circle cx="553.9" cy="371.7" r="3.15"/>
<circle cx="556" cy="371.9" r="3.15"/>
<circle cx="557.3" cy="372.8" r="3.15"/>
<circle cx="555.4" cy="373.1" r="3.15"/>
<circle cx="557.5" cy="374.1" r="3.15"/>
<circle cx="557.3" cy="374.4" r="3.15"/>
<circle cx="569.4" cy="266.6" r="3.15"/>
<circle cx="569.1" cy="268.3" r="3.15"/>
<circle cx="569.3" cy="271.6" r="3.15"/>
<circle cx="570.8" cy="274.5" r="3.15"/>
<circle cx="567.7" cy="276.6" r="3.15"/>
<circle cx="567.8" cy="279.1" r="3.15"/>
<circle cx="570.5" cy="281.7" r="3.15"/>
<circle cx="567.9" cy="283.6" r="3.15"/>
<circle cx="568.2" cy="286.7" r="3.15"/>
<circle cx="570" cy="289.3" r="3.15"/>
<circle cx="568.7" cy="290.3" r="3.15"/>
<circle cx="568.2" cy="291" r="3.15"/>
<circle cx="570.8" cy="291" r="3.15"/>
<circle cx="569.5" cy="291.9" r="3.15"/>
<circle cx="568.3" cy="292.1" r="3.15"/>
<circle cx="567.5" cy="292.9" r="3.15"/>
<circle cx="567.5" cy="293.3" r="3.15"/>
<circle cx="570.3" cy="293.6" r="3.15"/>
<circle cx="570" cy="294.3" r="3.15"/>
<circle cx="568.9" cy="294.9" r="3.15"/>
<circle cx="568.7" cy="295.6" r="3.15"/>
<circle cx="569.8" cy="295.8" r="3.15"/>
<circle cx="567.9" cy="296.4" r="3.15"/>
<circle cx="571" cy="297.1" r="3.15"/>
<circle cx="567.7" cy="297.3" r="3.15"/>
<circle cx="569.1" cy="297.9" r="3.15"/>
<circle cx="567.9" cy="298.3" r="3.15"/>
<circle cx="569.4" cy="299.1" r="3.15"/>
<circle cx="570" cy="299.6" r="3.15"/>
<circle cx="569.9" cy="299.7" r="3.15"/>
<circle cx="568.3" cy="300.4" r="3.15"/>
<circle cx="568.4" cy="300.9" r="3.15"/>
<circle cx="568.9" cy="301.4" r="3.15"/>
<circle cx="567.5" cy="302.2" r="3.15"/>
<circle cx="570.8" cy="302.6" r="3.15"/>
<circle cx="568.5" cy="303" r="3.15"/>
<circle cx="570.7" cy="303.6" r="3.15"/>
<circle cx="569.9" cy="304.2" r="3.15"/>
<circle cx="570.9" cy="304.7" r="3.15"/>
<circle cx="567.9" cy="305.1" r="3.15"/>
<circle cx="570.7" cy="305.4" r="3.15"/>
<circle cx="567.7" cy="305.9" r="3.15"/>
<circle cx="567.7" cy="306.5" r="3.15"/>
<circle cx="570.2" cy="307.2" r="3.15"/>
<circle cx="570.1" cy="307.7" r="3.15"/>
<circle cx="568.7" cy="308.3" r="3.15"/>
<circle cx="568.1" cy="308.6" r="3.15"/>
<circle cx="569" cy="309.3" r="3.15"/>
<circle cx="570.2" cy="309.7" r="3.15"/>
<circle cx="569.6" cy="310.1" r="3.15"/>
<circle cx="569.6" cy="310.9" r="3.15"/>
<circle cx="569" cy="311.4" r="3.15"/>
<circle cx="569.3" cy="311.8" r="3.15"/>
<circle cx="569.6" cy="312.1" r="3.15"/>
<circle cx="568.3" cy="312.6" r="3.15"/>
<circle cx="569.4" cy="313.4" r="3.15"/>
<circle cx="570" cy="313.6" r="3.15"/>
<circle cx="568.7" cy="314.1" r="3.15"/>
<circle cx="569.8" cy="314.8" r="3.15"/>
<circle cx="568.5" cy="315.2" r="3.15"/>
<circle cx="570.8" cy="315.8" r="3.15"/>
<circle cx="571" cy="316.3" r="3.15"/>
<circle cx="568.3" cy="317" r="3.15"/>
<circle cx="570.7" cy="317.2" r="3.15"/>
<circle cx="570.5" cy="317.9" r="3.15"/>
<circle cx="570.7" cy="318.6" r="3.15"/>
<circle cx="569" cy="319.1" r="3.15"/>
<circle cx="568.1" cy="319.4" r="3.15"/>
<circle cx="569.1" cy="319.8" r="3.15"/>
<circle cx="569.2" cy="320.6" r="3.15"/>
<circle cx="567.9" cy="321" r="3.15"/>
<circle cx="569.3" cy="321.3" r="3.15"/>
<circle cx="569.7" cy="321.9" r="3.15"/>
<circle cx="569.5" cy="322.5" r="3.15"/>
<circle cx="570.1" cy="323.2" r="3.15"/>
<circle cx="570.7" cy="323.5" r="3.15"/>
<circle cx="568.4" cy="323.9" r="3.15"/>
<circle cx="570.3" cy="324.7" r="3.15"/>
<circle cx="570.3" cy="325.2" r="3.15"/>
<circle cx="569.5" cy="325.8" r="3.15"/>
<circle cx="569.8" cy="326.1" r="3.15"/>
<circle cx="570.4" cy="326.7" r="3.15"/>
<circle cx="570.2" cy="327.3" r="3.15"/>
<circle cx="568.9" cy="327.7" r="3.15"/>
<circle cx="568.5" cy="328.1" r="3.15"/>
<circle cx="570.6" cy="328.9" r="3.15"/>
<circle cx="570.8" cy="329.3" r="3.15"/>
<circle cx="570.5" cy="329.9" r="3.15"/>
<circle cx="569.6" cy="330" r="3.15"/>
<circle cx="567.6" cy="330.8" r="3.15"/>
<circle cx="570.2" cy="331.3" r="3.15"/>
<circle cx="569.5" cy="331.8" r="3.15"/>
<circle cx="570" cy="332.2" r="3.15"/>
<circle cx="569.8" cy="332.6" r="3.15"/>
<circle cx="569.4" cy="333.3" r="3.15"/>
<circle cx="569.5" cy="333.6" r="3.15"/>
<circle cx="567.9" cy="334.3" r="3.15"/>
<circle cx="567.9" cy="334.9" r="3.15"/>
<circle cx="568.1" cy="335.4" r="3.15"/>
<circle cx="568.7" cy="336" r="3.15"/>
<circle cx="568.3" cy="336.1" r="3.15"/>
<circle cx="569.9" cy="337" r="3.15"/>
<circle cx="568.7" cy="337.3" r="3.15"/>
<circle cx="569.8" cy="337.7" r="3.15"/>
<circle cx="568.9" cy="338.4" r="3.15"/>
<circle cx="568.6" cy="338.7" r="3.15"/>
<circle cx="570.7" cy="339.2" r="3.15"/>
<circle cx="571" cy="340.1" r="3.15"/>
<circle cx="569.1" cy="340.6" r="3.15"/>
<circle cx="567.7" cy="341" r="3.15"/>
<circle cx="568.7" cy="341.3" r="3.15"/>
<circle cx="570.6" cy="341.7" r="3.15"/>
<circle cx="570.5" cy="342.2" r="3.15"/>
<circle cx="569.9" cy="342.9" r="3.15"/>
<circle cx="569.3" cy="343.7" r="3.15"/>
<circle cx="570.3" cy="343.8" r="3.15"/>
<circle cx="568.6" cy="344.5" r="3.15"/>
<circle cx="570" cy="344.8" r="3.15"/>
<circle cx="570.5" cy="345.7" r="3.15"/>
<circle cx="570.8" cy="345.9" r="3.15"/>
<circle cx="568.2" cy="346.7" r="3.15"/>
<circle cx="569.3" cy="346.9" r="3.15"/>
<circle cx="567.6" cy="347.4" r="3.15"/>
<circle cx="569.9" cy="348.2" r="3.15"/>
<circle cx="568.7" cy="348.8" r="3.15"/>
<circle cx="569.3" cy="349.1" r="3.15"/>
<circle cx="568.9" cy="349.6" r="3.15"/>
<circle cx="568.8" cy="350.3" r="3.15"/>
<circle cx="569" cy="350.5" r="3.15"/>
<circle cx="569" cy="351.4" r="3.15"/>
<circle cx="569.7" cy="351.5" r="3.15"/>
<circle cx="569" cy="352.2" r="3.15"/>
<circle cx="567.5" cy="352.9" r="3.15"/>
<circle cx="570.7" cy="353" r="3.15"/>
<circle cx="569.4" cy="353.6" r="3.15"/>
<circle cx="568.2" cy="354.1" r="3.15"/>
<circle cx="567.7" cy="354.8" r="3.15"/>
<circle cx="568.8" cy="355.4" r="3.15"/>
<circle cx="570.4" cy="355.8" r="3.15"/>
<circle cx="568.7" cy="356.1" r="3.15"/>
<circle cx="569.8" cy="356.9" r="3.15"/>
<circle cx="570.2" cy="357.1" r="3.15"/>
<circle cx="567.7" cy="358" r="3.15"/>
<circle cx="569.6" cy="358.1" r="3.15"/>
<circle cx="570" cy="358.6" r="3.15"/>
<circle cx="569.7" cy="359.4" r="3.15"/>
<circle cx="570" cy="359.6" r="3.15"/>
<circle cx="570.7" cy="360.6" r="3.15"/>
<circle cx="570.9" cy="361" r="3.15"/>
<circle cx="568.6" cy="361.6" r="3.15"/>
<circle cx="569.6" cy="362" r="3.15"/>
<circle cx="569.8" cy="362.3" r="3.15"/>
<circle cx="570.5" cy="363" r="3.15"/>
<circle cx="568.3" cy="363.4" r="3.15"/>
<circle cx="568" cy="363.9" r="3.15"/>
<circle cx="571" cy="364.4" r="3.15"/>
<circle cx="568.9" cy="365.1" r="3.15"/>
<circle cx="567.8" cy="365.3" r="3.15"/>
<circle cx="570.1" cy="365.8" r="3.15"/>
<circle cx="569.6" cy="366.7" r="3.15"/>
<circle cx="569.5" cy="366.8" r="3.15"/>
<circle cx="568.2" cy="367.6" r="3.15"/>
<circle cx="570.8" cy="368.1" r="3.15"/>
<circle cx="569.9" cy="368.6" r="3.15"/>
<circle cx="568.6" cy="369.1" r="3.15"/>
<circle cx="567.5" cy="369.5" r="3.15"/>
<circle cx="570.3" cy="369.9" r="3.15"/>
<circle cx="569.8" cy="370.7" r="3.15"/>
<circle cx="568" cy="371.3" r="3.15"/>
<circle cx="568.4" cy="371.9" r="3.15"/>
<circle cx="568.7" cy="372.2" r="3.15"/>
<circle cx="570.8" cy="372.8" r="3.15"/>
<circle cx="569.2" cy="373" r="3.15"/>
<circle cx="569.7" cy="373.7" r="3.15"/>
<circle cx="567.7" cy="374.1" r="3.15"/>
<circle cx="570.7" cy="374.7" r="3.15"/>
<circle cx="568.1" cy="375.3" r="3.15"/>
<circle cx="569.1" cy="375.9" r="3.15"/>
<circle cx="569.2" cy="376" r="3.15"/>
<circle cx="568.1" cy="376.6" r="3.15"/>
<circle cx="578.7" cy="291.1" r="3.15"/>
<circle cx="582.1" cy="293.9" r="3.15"/>
<circle cx="580.4" cy="294.8" r="3.15"/>
<circle cx="581.2" cy="297.1" r="3.15"/>
<circle cx="581.6" cy="299.7" r="3.15"/>
<circle cx="581" cy="301.9" r="3.15"/>
<circle cx="580.7" cy="303.9" r="3.15"/>
<circle cx="580.8" cy="304.4" r="3.15"/>
<circle cx="580.6" cy="307.5" r="3.15"/>
<circle cx="579.6" cy="308.3" r="3.15"/>
<circle cx="579.3" cy="311.6" r="3.15"/>
<circle cx="578.5" cy="312" r="3.15"/>
<circle cx="581.9" cy="315.9" r="3.15"/>
<circle cx="581.8" cy="317.6" r="3.15"/>
<circle cx="581.1" cy="319.1" r="3.15"/>
<circle cx="580.8" cy="321.5" r="3.15"/>
<circle cx="579.1" cy="322.4" r="3.15"/>
<circle cx="581" cy="325.2" r="3.15"/>
<circle cx="582.5" cy="326.8" r="3.15"/>
<circle cx="579.6" cy="328.2" r="3.15"/>
<circle cx="577.6" cy="330.3" r="3.15"/>
<circle cx="580.5" cy="333.9" r="3.15"/>
<circle cx="578.1" cy="334.3" r="3.15"/>
<circle cx="580.9" cy="336.6" r="3.15"/>
<circle cx="577.7" cy="339.8" r="3.15"/>
<circle cx="578.2" cy="340.9" r="3.15"/>
<circle cx="581.3" cy="343.6" r="3.15"/>
<circle cx="582.3" cy="345.2" r="3.15"/>
<circle cx="578.2" cy="346.2" r="3.15"/>
<circle cx="580.7" cy="349.1" r="3.15"/>
<circle cx="578.7" cy="350.3" r="3.15"/>
<circle cx="579.3" cy="352.6" r="3.15"/>
<circle cx="579.3" cy="354.7" r="3.15"/>
<circle cx="581.3" cy="356.9" r="3.15"/>
<circle cx="581.7" cy="359" r="3.15"/>
<circle cx="579" cy="361.8" r="3.15"/>
<circle cx="580.8" cy="363.7" r="3.15"/>
<circle cx="578.7" cy="365.9" r="3.15"/>
<circle cx="580.7" cy="366.7" r="3.15"/>
<circle cx="578.8" cy="368.2" r="3.15"/>
<circle cx="577.7" cy="370.4" r="3.15"/>
<circle cx="579" cy="373.1" r="3.15"/>
<circle cx="579.5" cy="374.1" r="3.15"/>
<circle cx="578.2" cy="376" r="3.15"/>
<circle cx="577.7" cy="378.6" r="3.15"/>
<circle cx="587.5" cy="335.5" r="3.15"/>
<circle cx="588.1" cy="335.8" r="3.15"/>
<circle cx="588.2" cy="336.3" r="3.15"/>
<circle cx="586.1" cy="337" r="3.15"/>
<circle cx="588.1" cy="337.5" r="3.15"/>
<circle cx="588.6" cy="338.1" r="3.15"/>
<circle cx="588.5" cy="338.2" r="3.15"/>
<circle cx="589" cy="339.1" r="3.15"/>
<circle cx="587.8" cy="339.6" r="3.15"/>
<circle cx="586.8" cy="340" r="3.15"/>
<circle cx="588.6" cy="340.7" r="3.15"/>
<circle cx="588.9" cy="341" r="3.15"/>
<circle cx="587.8" cy="341.8" r="3.15"/>
<circle cx="586.1" cy="342.3" r="3.15"/>
<circle cx="587.2" cy="342.8" r="3.15"/>
<circle cx="586.6" cy="343.4" r="3.15"/>
<circle cx="588" cy="344.1" r="3.15"/>
<circle cx="588.5" cy="344.7" r="3.15"/>
<circle cx="588.9" cy="345.1" r="3.15"/>
<circle cx="586.8" cy="345.5" r="3.15"/>
<circle cx="586.3" cy="346.1" r="3.15"/>
<circle cx="586.9" cy="346.6" r="3.15"/>
<circle cx="588.3" cy="346.9" r="3.15"/>
<circle cx="588.6" cy="347.4" r="3.15"/>
<circle cx="587.5" cy="348" r="3.15"/>
<circle cx="586.1" cy="348.7" r="3.15"/>
<circle cx="586.8" cy="349" r="3.15"/>
<circle cx="588.5" cy="349.6" r="3.15"/>
<circle cx="588.8" cy="350.4" r="3.15"/>
<circle cx="587.1" cy="350.6" r="3.15"/>
<circle cx="588.6" cy="351.2" r="3.15"/>
<circle cx="588.3" cy="351.9" r="3.15"/>
<circle cx="587.4" cy="352.2" r="3.15"/>
<circle cx="587.3" cy="352.7" r="3.15"/>
<circle cx="588.3" cy="353.7" r="3.15"/>
<circle cx="586.4" cy="354.1" r="3.15"/>
<circle cx="586.5" cy="354.7" r="3.15"/>
<circle cx="586.6" cy="355" r="3.15"/>
<circle cx="586.9" cy="355.9" r="3.15"/>
<circle cx="588.5" cy="356.2" r="3.15"/>
<circle cx="588.4" cy="356.7" r="3.15"/>
<circle cx="586.6" cy="357.5" r="3.15"/>
<circle cx="586.1" cy="358" r="3.15"/>
<circle cx="588.9" cy="358.2" r="3.15"/>
<circle cx="588.6" cy="359.1" r="3.15"/>
<circle cx="586.1" cy="359.4" r="3.15"/>
<circle cx="586.8" cy="359.9" r="3.15"/>
<circle cx="587.1" cy="360.5" r="3.15"/>
<circle cx="586" cy="360.9" r="3.15"/>
<circle cx="586.9" cy="361.7" r="3.15"/>
<circle cx="588.1" cy="362.3" r="3.15"/>
<circle cx="587.9" cy="362.9" r="3.15"/>
<circle cx="587.7" cy="363.1" r="3.15"/>
<circle cx="586.1" cy="363.9" r="3.15"/>
<circle cx="587.7" cy="364.1" r="3.15"/>
<circle cx="587.5" cy="365.1" r="3.15"/>
<circle cx="587.8" cy="365.3" r="3.15"/>
<circle cx="588.4" cy="365.8" r="3.15"/>
<circle cx="586" cy="366.2" r="3.15"/>
<circle cx="588.9" cy="366.8" r="3.15"/>
<circle cx="588.4" cy="367.3" r="3.15"/>
<circle cx="587.3" cy="367.9" r="3.15"/>
<circle cx="587" cy="368.4" r="3.15"/>
<circle cx="587.2" cy="369.3" r="3.15"/>
<circle cx="587.6" cy="369.5" r="3.15"/>
<circle cx="588.4" cy="370.4" r="3.15"/>
<circle cx="587.4" cy="370.7" r="3.15"/>
<circle cx="586.1" cy="371.1" r="3.15"/>
<circle cx="587.1" cy="371.6" r="3.15"/>
<circle cx="588.9" cy="372.4" r="3.15"/>
<circle cx="586.9" cy="372.9" r="3.15"/>
<circle cx="586.5" cy="373.7" r="3.15"/>
<circle cx="587.5" cy="374.1" r="3.15"/>
<circle cx="586.5" cy="374.5" r="3.15"/>
<circle cx="588.1" cy="375" r="3.15"/>
<circle cx="586.2" cy="375.6" r="3.15"/>
<circle cx="588.5" cy="376.1" r="3.15"/>
<circle cx="588.9" cy="376.7" r="3.15"/>
<circle cx="588.6" cy="376.9" r="3.15"/>
<circle cx="587.9" cy="377.7" r="3.15"/>
</g>
<g fill="none" stroke="rgba(255,0,0,0.35)" stroke-width="1.0">
<circle cx="562.6" cy="152.5" r="3.15"/>
<circle cx="562.4" cy="152.7" r="3.15"/>
<circle cx="563.6" cy="155.6" r="3.15"/>
<circle cx="562.7" cy="159" r="3.15"/>
<circle cx="562.2" cy="161.3" r="3.15"/>
<circle cx="562.7" cy="163" r="3.15"/>
<circle cx="563.2" cy="166.5" r="3.15"/>
<circle cx="562.3" cy="169.9" r="3.15"/>
<circle cx="562.8" cy="170.5" r="3.15"/>
<circle cx="563.8" cy="174" r="3.15"/>
<circle cx="562.2" cy="176.3" r="3.15"/>
<circle cx="562.5" cy="178.2" r="3.15"/>
<circle cx="562.7" cy="181.1" r="3.15"/>
<circle cx="562.4" cy="184.9" r="3.15"/>
<circle cx="562.3" cy="185.8" r="3.15"/>
<circle cx="562.4" cy="189.1" r="3.15"/>
<circle cx="562.3" cy="192.4" r="3.15"/>
<circle cx="563.8" cy="195.6" r="3.15"/>
<circle cx="562.9" cy="198" r="3.15"/>
<circle cx="563.6" cy="200.2" r="3.15"/>
<circle cx="563.6" cy="202.1" r="3.15"/>
<circle cx="563.5" cy="205" r="3.15"/>
<circle cx="563.5" cy="208.1" r="3.15"/>
<circle cx="562.1" cy="210.9" r="3.15"/>
<circle cx="562.1" cy="212.4" r="3.15"/>
<circle cx="563.2" cy="216" r="3.15"/>
<circle cx="562.1" cy="218.2" r="3.15"/>
<circle cx="562.7" cy="219.1" r="3.15"/>
<circle cx="562.7" cy="223.2" r="3.15"/>
<circle cx="562.2" cy="226.3" r="3.15"/>
<circle cx="562.1" cy="227.3" r="3.15"/>
<circle cx="562.7" cy="229.4" r="3.15"/>
<circle cx="563.9" cy="234.2" r="3.15"/>
<circle cx="563.8" cy="234.8" r="3.15"/>
<circle cx="563.7" cy="237.8" r="3.15"/>
<circle cx="562.6" cy="241.2" r="3.15"/>
<circle cx="562.2" cy="242" r="3.15"/>
<circle cx="563.9" cy="245.5" r="3.15"/>
<circle cx="563.6" cy="248.2" r="3.15"/>
<circle cx="562.2" cy="250.9" r="3.15"/>
<circle cx="562.3" cy="252.4" r="3.15"/>
<circle cx="562" cy="255.8" r="3.15"/>
<circle cx="562.5" cy="258.2" r="3.15"/>
<circle cx="563.9" cy="262" r="3.15"/>
<circle cx="563.4" cy="263.1" r="3.15"/>
<circle cx="563.5" cy="266.8" r="3.15"/>
<circle cx="563.1" cy="268.2" r="3.15"/>
<circle cx="562.4" cy="271.2" r="3.15"/>
<circle cx="562.6" cy="274.9" r="3.15"/>
<circle cx="562.9" cy="277" r="3.15"/>
<circle cx="563.8" cy="279.4" r="3.15"/>
<circle cx="562.3" cy="281.1" r="3.15"/>
<circle cx="563.8" cy="283" r="3.15"/>
<circle cx="562.4" cy="287" r="3.15"/>
<circle cx="563.7" cy="290.1" r="3.15"/>
<circle cx="563.5" cy="292.4" r="3.15"/>
<circle cx="562.7" cy="293.3" r="3.15"/>
<circle cx="563.3" cy="295.9" r="3.15"/>
<circle cx="563.6" cy="298.6" r="3.15"/>
<circle cx="562" cy="303.3" r="3.15"/>
<circle cx="562.3" cy="304.8" r="3.15"/>
<circle cx="562.1" cy="308.4" r="3.15"/>
<circle cx="562" cy="310.2" r="3.15"/>
<circle cx="563.7" cy="311.8" r="3.15"/>
<circle cx="562" cy="313.7" r="3.15"/>
<circle cx="562.1" cy="318" r="3.15"/>
<circle cx="563.1" cy="321" r="3.15"/>
<circle cx="563.3" cy="322.7" r="3.15"/>
<circle cx="562.4" cy="324.3" r="3.15"/>
<circle cx="564" cy="328.8" r="3.15"/>
<circle cx="562.9" cy="330.9" r="3.15"/>
<circle cx="563.4" cy="332.2" r="3.15"/>
<circle cx="562.4" cy="335.9" r="3.15"/>
<circle cx="563.9" cy="339.1" r="3.15"/>
<circle cx="562.7" cy="339.3" r="3.15"/>
<circle cx="562.6" cy="341.8" r="3.15"/>
<circle cx="564" cy="345" r="3.15"/>
<circle cx="563.7" cy="347.4" r="3.15"/>
<circle cx="563.9" cy="350.6" r="3.15"/>
<circle cx="563.7" cy="353.4" r="3.15"/>
<circle cx="563.5" cy="354.6" r="3.15"/>
<circle cx="562.2" cy="357.9" r="3.15"/>
<circle cx="563.8" cy="361.9" r="3.15"/>
<circle cx="563.4" cy="363.6" r="3.15"/>
<circle cx="562.1" cy="367" r="3.15"/>
<circle cx="563.3" cy="368.8" r="3.15"/>
<circle cx="563.7" cy="370.4" r="3.15"/>
<circle cx="563.2" cy="374.1" r="3.15"/>
<circle cx="563.5" cy="375.1" r="3.15"/>
<circle cx="563.5" cy="379.8" r="3.15"/>
<circle cx="576.4" cy="175.7" r="3.15"/>
<circle cx="574.5" cy="178.7" r="3.15"/>
<circle cx="574.1" cy="179.9" r="3.15"/>
<circle cx="576.3" cy="182.3" r="3.15"/>
<circle cx="574" cy="183.3" r="3.15"/>
<circle cx="574.3" cy="185.6" r="3.15"/>
<circle cx="574.2" cy="186.5" r="3.15"/>
<circle cx="574.3" cy="188.3" r="3.15"/>
<circle cx="575.6" cy="190.4" r="3.15"/>
<circle cx="574.7" cy="192.3" r="3.15"/>
<circle cx="574.6" cy="194.2" r="3.15"/>
<circle cx="574.6" cy="196.8" r="3.15"/>
<circle cx="574" cy="198.6" r="3.15"/>
<circle cx="574.5" cy="199.4" r="3.15"/>
<circle cx="573.9" cy="202.8" r="3.15"/>
<circle cx="573.6" cy="203.5" r="3.15"/>
<circle cx="576.1" cy="205" r="3.15"/>
<circle cx="574.1" cy="207.2" r="3.15"/>
<circle cx="576" cy="208.8" r="3.15"/>
<circle cx="576.3" cy="210.6" r="3.15"/>
<circle cx="575.2" cy="213.7" r="3.15"/>
<circle cx="575.2" cy="215.1" r="3.15"/>
<circle cx="574.8" cy="216.5" r="3.15"/>
<circle cx="576.5" cy="218.6" r="3.15"/>
<circle cx="575.4" cy="220.8" r="3.15"/>
<circle cx="576.4" cy="222" r="3.15"/>
<circle cx="574" cy="225.1" r="3.15"/>
<circle cx="575" cy="226.5" r="3.15"/>
<circle cx="575.4" cy="228.6" r="3.15"/>
<circle cx="576" cy="230.4" r="3.15"/>
<circle cx="573.5" cy="232.5" r="3.15"/>
<circle cx="573.6" cy="234.4" r="3.15"/>
<circle cx="573.5" cy="236.1" r="3.15"/>
<circle cx="575.4" cy="236.5" r="3.15"/>
<circle cx="575.8" cy="239.4" r="3.15"/>
<circle cx="573.9" cy="241.9" r="3.15"/>
<circle cx="575.3" cy="243" r="3.15"/>
<circle cx="576.3" cy="244.3" r="3.15"/>
<circle cx="574" cy="247.5" r="3.15"/>
<circle cx="574" cy="249.2" r="3.15"/>
<circle cx="574.1" cy="251.1" r="3.15"/>
<circle cx="574.7" cy="252.6" r="3.15"/>
<circle cx="575.3" cy="254" r="3.15"/>
<circle cx="575.1" cy="256.3" r="3.15"/>
<circle cx="573.9" cy="258.7" r="3.15"/>
<circle cx="576" cy="259.3" r="3.15"/>
<circle cx="574.2" cy="261.5" r="3.15"/>
<circle cx="575.8" cy="263.6" r="3.15"/>
<circle cx="574.4" cy="265.9" r="3.15"/>
<circle cx="574.1" cy="267.6" r="3.15"/>
<circle cx="575.8" cy="268.4" r="3.15"/>
<circle cx="575.2" cy="271.2" r="3.15"/>
<circle cx="576.4" cy="272.5" r="3.15"/>
<circle cx="574.9" cy="275.5" r="3.15"/>
<circle cx="573.9" cy="277.3" r="3.15"/>
<circle cx="574.6" cy="278.1" r="3.15"/>
<circle cx="576.5" cy="280.1" r="3.15"/>
<circle cx="574.2" cy="281.6" r="3.15"/>
<circle cx="575.6" cy="284.3" r="3.15"/>
<circle cx="574.2" cy="285.9" r="3.15"/>
<circle cx="574.4" cy="288.4" r="3.15"/>
<circle cx="574.6" cy="289.8" r="3.15"/>
<circle cx="576.2" cy="291" r="3.15"/>
<circle cx="576.4" cy="293.3" r="3.15"/>
<circle cx="575.4" cy="294.8" r="3.15"/>
<circle cx="575.6" cy="297.5" r="3.15"/>
<circle cx="575.3" cy="299.6" r="3.15"/>
<circle cx="574.9" cy="299.9" r="3.15"/>
<circle cx="576.2" cy="302.8" r="3.15"/>
<circle cx="575.3" cy="304.7" r="3.15"/>
<circle cx="573.6" cy="306" r="3.15"/>
<circle cx="573.8" cy="308.5" r="3.15"/>
<circle cx="576.1" cy="310.4" r="3.15"/>
<circle cx="575.9" cy="311.7" r="3.15"/>
<circle cx="573.6" cy="313.7" r="3.15"/>
<circle cx="574" cy="315.3" r="3.15"/>
<circle cx="574.2" cy="317" r="3.15"/>
<circle cx="575.6" cy="319.6" r="3.15"/>
<circle cx="576" cy="322.2" r="3.15"/>
<circle cx="574.2" cy="324" r="3.15"/>
<circle cx="575.8" cy="325.1" r="3.15"/>
<circle cx="576.4" cy="326.9" r="3.15"/>
<circle cx="573.6" cy="328.1" r="3.15"/>
<circle cx="574.4" cy="331" r="3.15"/>
<circle cx="575.2" cy="332.8" r="3.15"/>
<circle cx="573.6" cy="333.9" r="3.15"/>
<circle cx="575.2" cy="336.5" r="3.15"/>
<circle cx="574.8" cy="337.5" r="3.15"/>
<circle cx="574.4" cy="340.4" r="3.15"/>
<circle cx="575.7" cy="341.3" r="3.15"/>
<circle cx="576.4" cy="342.8" r="3.15"/>
<circle cx="574.2" cy="345.4" r="3.15"/>
<circle cx="575.9" cy="347.5" r="3.15"/>
<circle cx="575.5" cy="350.1" r="3.15"/>
<circle cx="574.6" cy="350.5" r="3.15"/>
<circle cx="574.7" cy="353.1" r="3.15"/>
<circle cx="573.9" cy="354" r="3.15"/>
<circle cx="575.7" cy="357.6" r="3.15"/>
<circle cx="576.3" cy="358.3" r="3.15"/>
<circle cx="574.9" cy="361" r="3.15"/>
<circle cx="576.5" cy="362" r="3.15"/>
<circle cx="576.4" cy="364.5" r="3.15"/>
<circle cx="573.9" cy="365.9" r="3.15"/>
<circle cx="573.5" cy="367.7" r="3.15"/>
<circle cx="575.1" cy="370.3" r="3.15"/>
<circle cx="574.5" cy="371.9" r="3.15"/>
<circle cx="575.5" cy="373.5" r="3.15"/>
<circle cx="575.3" cy="375.3" r="3.15"/>
<circle cx="575.3" cy="377.1" r="3.15"/>
<circle cx="576.2" cy="378.3" r="3.15"/>
</g>
<rect x="561.8" y="172" width="2.6" height="206" fill="rgba(255,30,30,0.7)"/>
<rect x="574" y="180" width="3" height="198" fill="rgba(255,30,30,0.55)"/>
<line x1="323.8" y1="139.7" x2="598.1" y2="271.4" stroke="rgba(255,0,0,0.6)" stroke-width="2.5"/>
<rect x="83.1" y="339.1" width="228.7" height="68.1" fill="#E5E5E5" stroke="#555" stroke-width="1.2"/>
<line x1="94.4" y1="355.8" x2="122.10000000000001" y2="355.8" stroke="rgba(255,0,0,0.6)" stroke-width="2.5"/>
<text x="134" y="361.8">Tree</text>
<line x1="94.4" y1="372.7" x2="122.10000000000001" y2="372.7" stroke="rgba(139,69,19,0.6)" stroke-width="2.5"/>
<text x="134" y="378.7">Bact. 95</text>
<line x1="94.4" y1="389.7" x2="122.10000000000001" y2="389.7" stroke="rgba(0,0,255,0.6)" stroke-width="2.5"/>
<text x="134" y="395.7">Bact. 97</text>
<line x1="206.0" y1="355.8" x2="233.7" y2="355.8" stroke="rgba(255,165,0,0.6)" stroke-width="2.5"/>
<text x="246" y="361.8">Bact. 99</text>
<line x1="206.0" y1="372.7" x2="233.7" y2="372.7" stroke="rgba(0,100,0,0.6)" stroke-width="2.5"/>
<text x="246" y="378.7">Bact. 100</text>
<rect x="64.75" y="3.0" width="565.0" height="411.9" fill="none" stroke="#000" stroke-width="1.5"/>
<g stroke="#000" stroke-width="1">
<line x1="56.0" y1="400.0" x2="64.5" y2="400.0"/>
<line x1="56.0" y1="323.6" x2="64.5" y2="323.6"/>
<line x1="56.0" y1="247.2" x2="64.5" y2="247.2"/>
<line x1="56.0" y1="170.8" x2="64.5" y2="170.8"/>
<line x1="56.0" y1="94.4" x2="64.5" y2="94.4"/>
<line x1="56.0" y1="18.0" x2="64.5" y2="18.0"/>
<line x1="102.6" y1="415" x2="102.6" y2="423.5"/>
<line x1="216.3" y1="415" x2="216.3" y2="423.5"/>
<line x1="330.0" y1="415" x2="330.0" y2="423.5"/>
<line x1="443.7" y1="415" x2="443.7" y2="423.5"/>
<line x1="557.4" y1="415" x2="557.4" y2="423.5"/>
</g>
<text transform="translate(44.5,400.0) rotate(-90)" text-anchor="middle">0.0</text>
<text transform="translate(44.5,323.6) rotate(-90)" text-anchor="middle">0.1</text>
<text transform="translate(44.5,247.2) rotate(-90)" text-anchor="middle">0.2</text>
<text transform="translate(44.5,170.8) rotate(-90)" text-anchor="middle">0.3</text>
<text transform="translate(44.5,94.4) rotate(-90)" text-anchor="middle">0.4</text>
<text transform="translate(44.5,18.0) rotate(-90)" text-anchor="middle">0.5</text>
<text x="102.6" y="443.5" text-anchor="middle">-2</text>
<text x="216.3" y="443.5" text-anchor="middle">0</text>
<text x="330.0" y="443.5" text-anchor="middle">2</text>
<text x="443.7" y="443.5" text-anchor="middle">4</text>
<text x="557.4" y="443.5" text-anchor="middle">6</text>
<text x="346.5" y="471" text-anchor="middle">log Distance (m)</text>
<text transform="translate(12.8,209.7) rotate(-90)" text-anchor="middle" style="font-size:14.4px">Taxonomic Similarity (Canberra)</text>
</svg>
</body></html>
